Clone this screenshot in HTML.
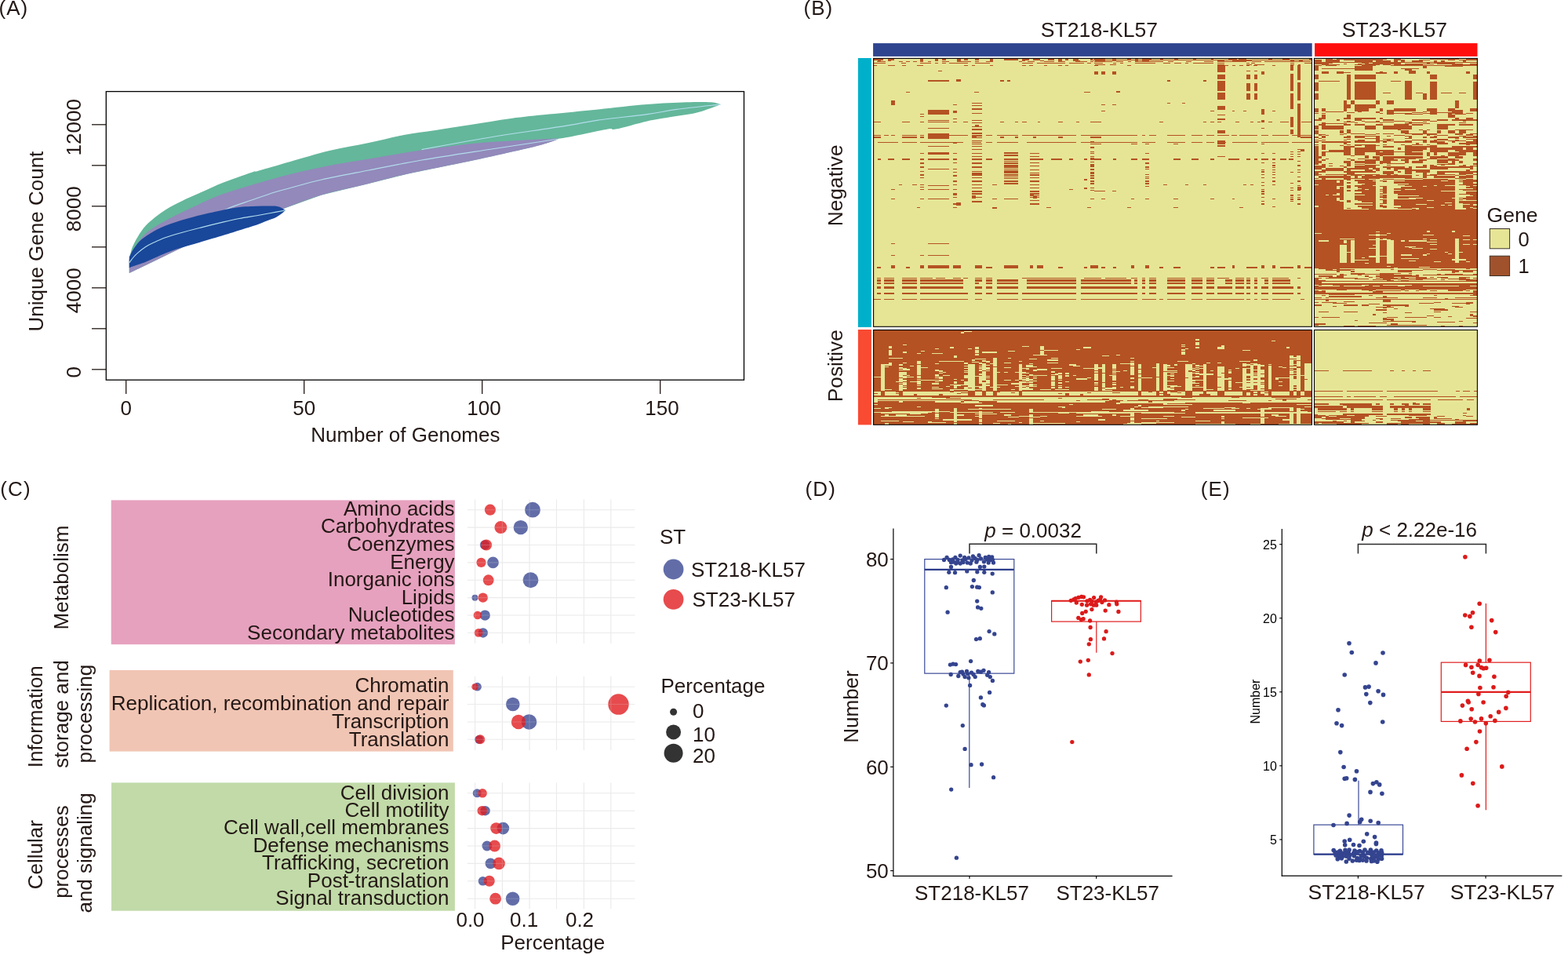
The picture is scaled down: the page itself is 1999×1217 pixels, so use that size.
<!DOCTYPE html>
<html><head><meta charset="utf-8"><title>Figure</title>
<style>
html,body{margin:0;padding:0;background:#fff;overflow:hidden}
svg{display:block}
text{font-family:"Liberation Sans",Arial,Helvetica,sans-serif}
</style></head><body>
<svg width="1999" height="1217" viewBox="0 0 1999 1217">
<rect width="1999" height="1217" fill="#fff"/>
<text font-size="26" fill="#231815" transform="translate(-1.6 18.8)" letter-spacing="1.1">(A)</text>
<text font-size="26" fill="#231815" transform="translate(1024.4 18.8)" letter-spacing="1.1">(B)</text>
<text font-size="26" fill="#231815" transform="translate(0.3 631.8)" letter-spacing="1.1">(C)</text>
<text font-size="26" fill="#231815" transform="translate(1026.6 631.6)" letter-spacing="1.1">(D)</text>
<text font-size="26" fill="#231815" transform="translate(1530.8 632.3)" letter-spacing="1.1">(E)</text>
<path d="M164.8 331 C165.38 328.55 166.52 321.15 168.3 316.3 C170.08 311.45 172.58 306.7 175.5 301.9 C178.42 297.1 181.52 292.12 185.8 287.5 C190.08 282.88 196.07 278.13 201.2 274.2 C206.33 270.27 210.6 267.33 216.6 263.9 C222.6 260.47 230.35 256.85 237.2 253.6 C244.05 250.35 249.73 247.92 257.7 244.4 C265.67 240.88 274.6 236.57 285 232.5 C295.4 228.43 312.6 222.5 320.1 220 C327.6 217.5 321.68 219.83 330 217.5 C338.32 215.17 355 210.25 370 206 C385 201.75 403.33 196 420 192 C436.67 188 454.2 185.33 470 182 C485.8 178.67 500.62 174.68 514.8 172 C528.98 169.32 540.9 168.07 555.1 165.9 C569.3 163.73 583.95 161.48 600 159 C616.05 156.52 634.73 153.23 651.4 151 C668.07 148.77 681.48 147.53 700 145.6 C718.52 143.67 741.67 141.48 762.5 139.4 C783.33 137.32 806.25 134.62 825 133.1 C843.75 131.58 861.45 130.77 875 130.3 C888.55 129.83 899.05 129.83 906.3 130.3 C913.55 130.77 916.47 132.63 918.5 133.1 C917.5 133.52 917.67 133.82 912.5 135.6 C907.33 137.38 897.92 141.4 887.5 143.8 C877.08 146.2 860.42 148.23 850 150 C839.58 151.77 835.83 151.97 825 154.4 C814.17 156.83 793.33 162.93 785 164.6 C776.67 166.27 784.17 162.87 775 164.4 C765.83 165.93 740.67 171.7 730 173.8 C719.33 175.9 714.17 176.47 711 177 L711 177.4 L700 181.5 L677.7 187.8 L607.6 203.5 L520 221.5 L470 234 L410 248.5 L360 266.5 L327.5 280 L283 295 L250 307.5 L226.9 318 L206.3 328 L185.8 338 L164.8 348 Z" fill="#64b79b"/>
<path d="M537.6 190.6 C546.33 189 572.5 184.1 590 181 C607.5 177.9 624.27 174.9 642.6 172 C660.93 169.1 685.43 165.78 700 163.6 C714.57 161.42 719.58 160.65 730 158.9 C740.42 157.15 746.67 155.32 762.5 153.1 C778.33 150.88 808.33 147.88 825 145.6 C841.67 143.32 846.92 141.48 862.5 139.4 C878.08 137.32 909.17 134.15 918.5 133.1" fill="none" stroke="#b2ddec" stroke-width="1.1"/>
<path d="M164.8 330 C166 327.5 168.67 320.25 172 315 C175.33 309.75 180.13 303.08 184.8 298.5 C189.47 293.92 194.7 290.87 200 287.5 C205.3 284.13 211.27 281.13 216.6 278.3 C221.93 275.47 226.87 273 232 270.5 C237.13 268 241.73 265.97 247.4 263.3 C253.07 260.63 259.73 257.22 266 254.5 C272.27 251.78 276 250.08 285 247 C294 243.92 305.83 240.17 320 236 C334.17 231.83 353.33 226.17 370 222 C386.67 217.83 403.33 214.25 420 211 C436.67 207.75 450.4 205.78 470 202.5 C489.6 199.22 514.67 194.63 537.6 191.3 C560.53 187.97 587.2 184.55 607.6 182.5 C628 180.45 644.6 179.92 660 179 C675.4 178.08 691.5 177.4 700 177 C708.5 176.6 709.17 176.67 711 176.6 L711 177.4 C709.17 178.08 705.55 179.77 700 181.5 C694.45 183.23 693.1 184.13 677.7 187.8 C662.3 191.47 633.88 197.88 607.6 203.5 C581.32 209.12 542.93 216.42 520 221.5 C497.07 226.58 488.33 229.5 470 234 C451.67 238.5 428.33 243.08 410 248.5 C391.67 253.92 373.75 261.25 360 266.5 C346.25 271.75 340.33 275.25 327.5 280 C314.67 284.75 295.92 290.42 283 295 C270.08 299.58 259.35 303.67 250 307.5 C240.65 311.33 234.18 314.58 226.9 318 C219.62 321.42 213.15 324.67 206.3 328 C199.45 331.33 192.72 334.67 185.8 338 C178.88 341.33 168.3 346.33 164.8 348 Z" fill="#9389bb"/>
<path d="M164.8 339 C167.33 336.67 174.13 329.5 180 325 C185.87 320.5 191.67 316.33 200 312 C208.33 307.67 220 304 230 299 C240 294 250 287.5 260 282 C270 276.5 280 270.45 290 266 C300 261.55 310 258.8 320 255.3 C330 251.8 341.67 247.63 350 245 C358.33 242.37 360 242.17 370 239.5 C380 236.83 393.33 232.75 410 229 C426.67 225.25 448.73 221.17 470 217 C491.27 212.83 511.75 208.47 537.6 204 C563.45 199.53 596.2 194.67 625.1 190.2 C654 185.73 696.68 179.37 711 177.2" fill="none" stroke="#b2ddec" stroke-width="1.1"/>
<path d="M164.8 327.5 C165.33 326.42 166.77 323.17 168 321 C169.23 318.83 170.2 317.08 172.2 314.5 C174.2 311.92 176.03 308.8 180 305.5 C183.97 302.2 189.9 298.03 196 294.7 C202.1 291.37 208.03 288.58 216.6 285.5 C225.17 282.42 236 279.2 247.4 276.2 C258.8 273.2 275.4 269.53 285 267.5 C294.6 265.47 299.17 264.75 305 264 C310.83 263.25 315 263.25 320 263 C325 262.75 330 262.57 335 262.5 C340 262.43 346.25 262.3 350 262.6 C353.75 262.9 355.2 263.4 357.5 264.3 C359.8 265.2 362.75 267.38 363.8 268 C363.17 268.58 361.47 270.33 360 271.5 C358.53 272.67 356.72 273.92 355 275 C353.28 276.08 352.2 276.92 349.7 278 C347.2 279.08 343.7 280.08 340 281.5 C336.3 282.92 333.33 284.5 327.5 286.5 C321.67 288.5 312.08 291.28 305 293.5 C297.92 295.72 294.6 296.87 285 299.8 C275.4 302.73 258.8 307.67 247.4 311.1 C236 314.53 226.87 316.63 216.6 320.4 C206.33 324.17 192.73 330.85 185.8 333.7 C178.87 336.55 178.5 336.25 175 337.5 C171.5 338.75 166.5 340.58 164.8 341.2 Z" fill="#19479a"/>
<path d="M164.8 334.8 C165.67 333.67 168.22 330.07 170 328 C171.78 325.93 173 324.57 175.5 322.4 C178 320.23 181.57 317.22 185 315 C188.43 312.78 191.93 311.1 196.1 309.1 C200.27 307.1 204.87 304.88 210 303 C215.13 301.12 218.95 300.03 226.9 297.8 C234.85 295.57 248.02 292.08 257.7 289.6 C267.38 287.12 277.12 284.75 285 282.9 C292.88 281.05 297.92 279.87 305 278.5 C312.08 277.13 320.83 275.87 327.5 274.7 C334.17 273.53 338.95 272.62 345 271.5 C351.05 270.38 360.67 268.58 363.8 268" fill="none" stroke="#b2ddec" stroke-width="1.1"/>
<rect x="135.3" y="116.6" width="813.2" height="367.6" fill="none" stroke="#000" stroke-width="1.3"/>
<line x1="117" y1="470.8" x2="135.3" y2="470.8" stroke="#231815" stroke-width="1.3"/>
<line x1="117" y1="418.8" x2="135.3" y2="418.8" stroke="#231815" stroke-width="1.3"/>
<line x1="117" y1="366.8" x2="135.3" y2="366.8" stroke="#231815" stroke-width="1.3"/>
<line x1="117" y1="314.8" x2="135.3" y2="314.8" stroke="#231815" stroke-width="1.3"/>
<line x1="117" y1="262.8" x2="135.3" y2="262.8" stroke="#231815" stroke-width="1.3"/>
<line x1="117" y1="210.8" x2="135.3" y2="210.8" stroke="#231815" stroke-width="1.3"/>
<line x1="117" y1="158.8" x2="135.3" y2="158.8" stroke="#231815" stroke-width="1.3"/>
<text font-size="26" fill="#231815" text-anchor="middle" transform="translate(103.2 474.3) rotate(-90)">0</text>
<text font-size="26" fill="#231815" text-anchor="middle" transform="translate(103.2 370.3) rotate(-90)">4000</text>
<text font-size="26" fill="#231815" text-anchor="middle" transform="translate(103.2 266.3) rotate(-90)">8000</text>
<text font-size="26" fill="#231815" text-anchor="middle" transform="translate(103.2 162.3) rotate(-90)">12000</text>
<line x1="160.7" y1="484.2" x2="160.7" y2="502" stroke="#231815" stroke-width="1.3"/>
<text font-size="26" fill="#231815" text-anchor="middle" transform="translate(160.7 528.5)">0</text>
<line x1="387.7" y1="484.2" x2="387.7" y2="502" stroke="#231815" stroke-width="1.3"/>
<text font-size="26" fill="#231815" text-anchor="middle" transform="translate(387.7 528.5)">50</text>
<line x1="614.7" y1="484.2" x2="614.7" y2="502" stroke="#231815" stroke-width="1.3"/>
<text font-size="26" fill="#231815" text-anchor="middle" transform="translate(617 528.5)">100</text>
<line x1="841.7" y1="484.2" x2="841.7" y2="502" stroke="#231815" stroke-width="1.3"/>
<text font-size="26" fill="#231815" text-anchor="middle" transform="translate(844 528.5)">150</text>
<text font-size="26" fill="#231815" text-anchor="middle" transform="translate(516.8 563)">Number of Genomes</text>
<text font-size="26" fill="#231815" text-anchor="middle" transform="translate(55.3 307.6) rotate(-90)">Unique Gene Count</text>
<rect x="141.7" y="637.4" width="438.2" height="183.8" fill="#e6a1be"/>
<rect x="139.6" y="854" width="438.2" height="103.6" fill="#f1c5b4"/>
<rect x="142" y="997.4" width="437.9" height="163.3" fill="#c1daa8"/>
<line x1="605.6" y1="636.6" x2="605.6" y2="819.9" stroke="#ebebeb" stroke-width="1.1"/>
<line x1="640.4" y1="636.6" x2="640.4" y2="819.9" stroke="#ebebeb" stroke-width="1.1"/>
<line x1="675" y1="636.6" x2="675" y2="819.9" stroke="#ebebeb" stroke-width="1.1"/>
<line x1="709.5" y1="636.6" x2="709.5" y2="819.9" stroke="#ebebeb" stroke-width="1.1"/>
<line x1="744.4" y1="636.6" x2="744.4" y2="819.9" stroke="#ebebeb" stroke-width="1.1"/>
<line x1="778.8" y1="636.6" x2="778.8" y2="819.9" stroke="#ebebeb" stroke-width="1.1"/>
<line x1="596" y1="649.7" x2="809.4" y2="649.7" stroke="#ebebeb" stroke-width="1.1"/>
<line x1="596" y1="672.09" x2="809.4" y2="672.09" stroke="#ebebeb" stroke-width="1.1"/>
<line x1="596" y1="694.48" x2="809.4" y2="694.48" stroke="#ebebeb" stroke-width="1.1"/>
<line x1="596" y1="716.87" x2="809.4" y2="716.87" stroke="#ebebeb" stroke-width="1.1"/>
<line x1="596" y1="739.26" x2="809.4" y2="739.26" stroke="#ebebeb" stroke-width="1.1"/>
<line x1="596" y1="761.65" x2="809.4" y2="761.65" stroke="#ebebeb" stroke-width="1.1"/>
<line x1="596" y1="784.04" x2="809.4" y2="784.04" stroke="#ebebeb" stroke-width="1.1"/>
<line x1="596" y1="806.43" x2="809.4" y2="806.43" stroke="#ebebeb" stroke-width="1.1"/>
<line x1="605.6" y1="862" x2="605.6" y2="955.9" stroke="#ebebeb" stroke-width="1.1"/>
<line x1="640.4" y1="862" x2="640.4" y2="955.9" stroke="#ebebeb" stroke-width="1.1"/>
<line x1="675" y1="862" x2="675" y2="955.9" stroke="#ebebeb" stroke-width="1.1"/>
<line x1="709.5" y1="862" x2="709.5" y2="955.9" stroke="#ebebeb" stroke-width="1.1"/>
<line x1="744.4" y1="862" x2="744.4" y2="955.9" stroke="#ebebeb" stroke-width="1.1"/>
<line x1="778.8" y1="862" x2="778.8" y2="955.9" stroke="#ebebeb" stroke-width="1.1"/>
<line x1="596" y1="875.2" x2="809.4" y2="875.2" stroke="#ebebeb" stroke-width="1.1"/>
<line x1="596" y1="897.57" x2="809.4" y2="897.57" stroke="#ebebeb" stroke-width="1.1"/>
<line x1="596" y1="919.94" x2="809.4" y2="919.94" stroke="#ebebeb" stroke-width="1.1"/>
<line x1="596" y1="942.31" x2="809.4" y2="942.31" stroke="#ebebeb" stroke-width="1.1"/>
<line x1="605.6" y1="997.5" x2="605.6" y2="1158.2" stroke="#ebebeb" stroke-width="1.1"/>
<line x1="640.4" y1="997.5" x2="640.4" y2="1158.2" stroke="#ebebeb" stroke-width="1.1"/>
<line x1="675" y1="997.5" x2="675" y2="1158.2" stroke="#ebebeb" stroke-width="1.1"/>
<line x1="709.5" y1="997.5" x2="709.5" y2="1158.2" stroke="#ebebeb" stroke-width="1.1"/>
<line x1="744.4" y1="997.5" x2="744.4" y2="1158.2" stroke="#ebebeb" stroke-width="1.1"/>
<line x1="778.8" y1="997.5" x2="778.8" y2="1158.2" stroke="#ebebeb" stroke-width="1.1"/>
<line x1="596" y1="1010.8" x2="809.4" y2="1010.8" stroke="#ebebeb" stroke-width="1.1"/>
<line x1="596" y1="1033.2" x2="809.4" y2="1033.2" stroke="#ebebeb" stroke-width="1.1"/>
<line x1="596" y1="1055.6" x2="809.4" y2="1055.6" stroke="#ebebeb" stroke-width="1.1"/>
<line x1="596" y1="1078" x2="809.4" y2="1078" stroke="#ebebeb" stroke-width="1.1"/>
<line x1="596" y1="1100.4" x2="809.4" y2="1100.4" stroke="#ebebeb" stroke-width="1.1"/>
<line x1="596" y1="1122.8" x2="809.4" y2="1122.8" stroke="#ebebeb" stroke-width="1.1"/>
<line x1="596" y1="1145.2" x2="809.4" y2="1145.2" stroke="#ebebeb" stroke-width="1.1"/>
<text font-size="26" fill="#231815" text-anchor="end" transform="translate(579.6 656.8)">Amino acids</text>
<text font-size="26" fill="#231815" text-anchor="end" transform="translate(579.6 679.4)">Carbohydrates</text>
<text font-size="26" fill="#231815" text-anchor="end" transform="translate(579.6 702)">Coenzymes</text>
<text font-size="26" fill="#231815" text-anchor="end" transform="translate(579.6 724.6)">Energy</text>
<text font-size="26" fill="#231815" text-anchor="end" transform="translate(579.6 747.2)">Inorganic ions</text>
<text font-size="26" fill="#231815" text-anchor="end" transform="translate(579.6 769.8)">Lipids</text>
<text font-size="26" fill="#231815" text-anchor="end" transform="translate(579.6 792.4)">Nucleotides</text>
<text font-size="26" fill="#231815" text-anchor="end" transform="translate(579.6 815)">Secondary metabolites</text>
<text font-size="26" fill="#231815" text-anchor="end" transform="translate(572.4 881.9)">Chromatin</text>
<text font-size="26" fill="#231815" text-anchor="end" transform="translate(572.4 904.6)">Replication, recombination and repair</text>
<text font-size="26" fill="#231815" text-anchor="end" transform="translate(572.4 927.5)">Transcription</text>
<text font-size="26" fill="#231815" text-anchor="end" transform="translate(572.4 951.4)">Translation</text>
<text font-size="26" fill="#231815" text-anchor="end" transform="translate(572.5 1018.6)">Cell division</text>
<text font-size="26" fill="#231815" text-anchor="end" transform="translate(572.5 1041.02)">Cell motility</text>
<text font-size="26" fill="#231815" text-anchor="end" transform="translate(572.5 1063.44)">Cell wall,cell membranes</text>
<text font-size="26" fill="#231815" text-anchor="end" transform="translate(572.5 1085.86)">Defense mechanisms</text>
<text font-size="26" fill="#231815" text-anchor="end" transform="translate(572.5 1108.28)">Trafficking, secretion</text>
<text font-size="26" fill="#231815" text-anchor="end" transform="translate(572.5 1130.7)">Post-translation</text>
<text font-size="26" fill="#231815" text-anchor="end" transform="translate(572.5 1153.12)">Signal transduction</text>
<text font-size="26" fill="#231815" text-anchor="middle" transform="translate(87 736) rotate(-90)">Metabolism</text>
<text font-size="26" fill="#231815" text-anchor="middle" transform="translate(54 913.2) rotate(-90)">Information</text>
<text font-size="26" fill="#231815" text-anchor="middle" transform="translate(86.5 910) rotate(-90)">storage and</text>
<text font-size="26" fill="#231815" text-anchor="middle" transform="translate(117.2 909.7) rotate(-90)">processing</text>
<text font-size="26" fill="#231815" text-anchor="middle" transform="translate(54 1089.2) rotate(-90)">Cellular</text>
<text font-size="26" fill="#231815" text-anchor="middle" transform="translate(86.7 1085.6) rotate(-90)">processes</text>
<text font-size="26" fill="#231815" text-anchor="middle" transform="translate(117.2 1087) rotate(-90)">and signaling</text>
<circle cx="679" cy="649.7" r="9.9" fill="rgba(59,73,146,0.8)"/>
<circle cx="624.9" cy="649.7" r="7.1" fill="rgba(225,30,32,0.8)"/>
<circle cx="663.8" cy="672.09" r="9.2" fill="rgba(59,73,146,0.8)"/>
<circle cx="638.4" cy="672.09" r="8" fill="rgba(225,30,32,0.8)"/>
<circle cx="618.1" cy="694.48" r="6.2" fill="rgba(59,73,146,0.8)"/>
<circle cx="620" cy="694.48" r="7.1" fill="rgba(225,30,32,0.8)"/>
<circle cx="628.5" cy="716.87" r="7.4" fill="rgba(59,73,146,0.8)"/>
<circle cx="613.5" cy="716.87" r="6.1" fill="rgba(225,30,32,0.8)"/>
<circle cx="676.5" cy="739.26" r="9.9" fill="rgba(59,73,146,0.8)"/>
<circle cx="622.7" cy="739.26" r="6.9" fill="rgba(225,30,32,0.8)"/>
<circle cx="605.5" cy="761.65" r="4" fill="rgba(59,73,146,0.8)"/>
<circle cx="615.7" cy="761.65" r="6.2" fill="rgba(225,30,32,0.8)"/>
<circle cx="618.3" cy="784.04" r="6.6" fill="rgba(59,73,146,0.8)"/>
<circle cx="608.9" cy="784.04" r="5.3" fill="rgba(225,30,32,0.8)"/>
<circle cx="615.8" cy="806.43" r="6.2" fill="rgba(59,73,146,0.8)"/>
<circle cx="610.1" cy="806.43" r="5.4" fill="rgba(225,30,32,0.8)"/>
<circle cx="608.5" cy="875.2" r="5.4" fill="rgba(59,73,146,0.8)"/>
<circle cx="605.6" cy="875.2" r="4.3" fill="rgba(225,30,32,0.8)"/>
<circle cx="653.8" cy="897.57" r="8.8" fill="rgba(59,73,146,0.8)"/>
<circle cx="788.5" cy="897.57" r="13.2" fill="rgba(225,30,32,0.8)"/>
<circle cx="674.5" cy="919.94" r="9.8" fill="rgba(59,73,146,0.8)"/>
<circle cx="661" cy="919.94" r="9.2" fill="rgba(225,30,32,0.8)"/>
<circle cx="610.6" cy="942.31" r="5.4" fill="rgba(59,73,146,0.8)"/>
<circle cx="612.2" cy="942.31" r="6" fill="rgba(225,30,32,0.8)"/>
<circle cx="608.2" cy="1010.8" r="5.5" fill="rgba(59,73,146,0.8)"/>
<circle cx="615.1" cy="1010.8" r="5.8" fill="rgba(225,30,32,0.8)"/>
<circle cx="618.6" cy="1033.2" r="6.2" fill="rgba(59,73,146,0.8)"/>
<circle cx="614.7" cy="1033.2" r="6.2" fill="rgba(225,30,32,0.8)"/>
<circle cx="641.4" cy="1055.6" r="7.8" fill="rgba(59,73,146,0.8)"/>
<circle cx="632.6" cy="1055.6" r="7.4" fill="rgba(225,30,32,0.8)"/>
<circle cx="620.9" cy="1078" r="6.4" fill="rgba(59,73,146,0.8)"/>
<circle cx="630.6" cy="1078" r="7.4" fill="rgba(225,30,32,0.8)"/>
<circle cx="625.4" cy="1100.4" r="6.8" fill="rgba(59,73,146,0.8)"/>
<circle cx="636.1" cy="1100.4" r="7.8" fill="rgba(225,30,32,0.8)"/>
<circle cx="615.5" cy="1122.8" r="5.8" fill="rgba(59,73,146,0.8)"/>
<circle cx="623.8" cy="1122.8" r="7" fill="rgba(225,30,32,0.8)"/>
<circle cx="653.6" cy="1145.2" r="8.8" fill="rgba(59,73,146,0.8)"/>
<circle cx="631.6" cy="1145.2" r="7.4" fill="rgba(225,30,32,0.8)"/>
<g opacity="0.22">
<line x1="605.6" y1="636.6" x2="605.6" y2="819.9" stroke="#ebebeb" stroke-width="1.1"/>
<line x1="640.4" y1="636.6" x2="640.4" y2="819.9" stroke="#ebebeb" stroke-width="1.1"/>
<line x1="675" y1="636.6" x2="675" y2="819.9" stroke="#ebebeb" stroke-width="1.1"/>
<line x1="709.5" y1="636.6" x2="709.5" y2="819.9" stroke="#ebebeb" stroke-width="1.1"/>
<line x1="744.4" y1="636.6" x2="744.4" y2="819.9" stroke="#ebebeb" stroke-width="1.1"/>
<line x1="778.8" y1="636.6" x2="778.8" y2="819.9" stroke="#ebebeb" stroke-width="1.1"/>
<line x1="596" y1="649.7" x2="809.4" y2="649.7" stroke="#ebebeb" stroke-width="1.1"/>
<line x1="596" y1="672.09" x2="809.4" y2="672.09" stroke="#ebebeb" stroke-width="1.1"/>
<line x1="596" y1="694.48" x2="809.4" y2="694.48" stroke="#ebebeb" stroke-width="1.1"/>
<line x1="596" y1="716.87" x2="809.4" y2="716.87" stroke="#ebebeb" stroke-width="1.1"/>
<line x1="596" y1="739.26" x2="809.4" y2="739.26" stroke="#ebebeb" stroke-width="1.1"/>
<line x1="596" y1="761.65" x2="809.4" y2="761.65" stroke="#ebebeb" stroke-width="1.1"/>
<line x1="596" y1="784.04" x2="809.4" y2="784.04" stroke="#ebebeb" stroke-width="1.1"/>
<line x1="596" y1="806.43" x2="809.4" y2="806.43" stroke="#ebebeb" stroke-width="1.1"/>
<line x1="605.6" y1="862" x2="605.6" y2="955.9" stroke="#ebebeb" stroke-width="1.1"/>
<line x1="640.4" y1="862" x2="640.4" y2="955.9" stroke="#ebebeb" stroke-width="1.1"/>
<line x1="675" y1="862" x2="675" y2="955.9" stroke="#ebebeb" stroke-width="1.1"/>
<line x1="709.5" y1="862" x2="709.5" y2="955.9" stroke="#ebebeb" stroke-width="1.1"/>
<line x1="744.4" y1="862" x2="744.4" y2="955.9" stroke="#ebebeb" stroke-width="1.1"/>
<line x1="778.8" y1="862" x2="778.8" y2="955.9" stroke="#ebebeb" stroke-width="1.1"/>
<line x1="596" y1="875.2" x2="809.4" y2="875.2" stroke="#ebebeb" stroke-width="1.1"/>
<line x1="596" y1="897.57" x2="809.4" y2="897.57" stroke="#ebebeb" stroke-width="1.1"/>
<line x1="596" y1="919.94" x2="809.4" y2="919.94" stroke="#ebebeb" stroke-width="1.1"/>
<line x1="596" y1="942.31" x2="809.4" y2="942.31" stroke="#ebebeb" stroke-width="1.1"/>
<line x1="605.6" y1="997.5" x2="605.6" y2="1158.2" stroke="#ebebeb" stroke-width="1.1"/>
<line x1="640.4" y1="997.5" x2="640.4" y2="1158.2" stroke="#ebebeb" stroke-width="1.1"/>
<line x1="675" y1="997.5" x2="675" y2="1158.2" stroke="#ebebeb" stroke-width="1.1"/>
<line x1="709.5" y1="997.5" x2="709.5" y2="1158.2" stroke="#ebebeb" stroke-width="1.1"/>
<line x1="744.4" y1="997.5" x2="744.4" y2="1158.2" stroke="#ebebeb" stroke-width="1.1"/>
<line x1="778.8" y1="997.5" x2="778.8" y2="1158.2" stroke="#ebebeb" stroke-width="1.1"/>
<line x1="596" y1="1010.8" x2="809.4" y2="1010.8" stroke="#ebebeb" stroke-width="1.1"/>
<line x1="596" y1="1033.2" x2="809.4" y2="1033.2" stroke="#ebebeb" stroke-width="1.1"/>
<line x1="596" y1="1055.6" x2="809.4" y2="1055.6" stroke="#ebebeb" stroke-width="1.1"/>
<line x1="596" y1="1078" x2="809.4" y2="1078" stroke="#ebebeb" stroke-width="1.1"/>
<line x1="596" y1="1100.4" x2="809.4" y2="1100.4" stroke="#ebebeb" stroke-width="1.1"/>
<line x1="596" y1="1122.8" x2="809.4" y2="1122.8" stroke="#ebebeb" stroke-width="1.1"/>
<line x1="596" y1="1145.2" x2="809.4" y2="1145.2" stroke="#ebebeb" stroke-width="1.1"/>
</g>
<text font-size="26" fill="#231815" text-anchor="middle" transform="translate(599.5 1180.6)">0.0</text>
<text font-size="26" fill="#231815" text-anchor="middle" transform="translate(668.2 1180.6)">0.1</text>
<text font-size="26" fill="#231815" text-anchor="middle" transform="translate(739 1180.6)">0.2</text>
<text font-size="26" fill="#231815" text-anchor="middle" transform="translate(704.7 1209.9)">Percentage</text>
<text font-size="26" fill="#231815" transform="translate(841 693.3)">ST</text>
<circle cx="858.6" cy="725.5" r="12.9" fill="rgba(59,73,146,0.8)"/>
<text font-size="26" fill="#231815" transform="translate(881 735.3)">ST218-KL57</text>
<circle cx="858.6" cy="763.8" r="12.9" fill="rgba(225,30,32,0.8)"/>
<text font-size="26" fill="#231815" transform="translate(882.5 773.1)">ST23-KL57</text>
<text font-size="26" fill="#231815" transform="translate(842.5 883.4)">Percentage</text>
<circle cx="858.6" cy="907.2" r="4.5" fill="#333333"/>
<text font-size="26" fill="#231815" transform="translate(883 915)">0</text>
<circle cx="858.6" cy="932.9" r="9.5" fill="#333333"/>
<text font-size="26" fill="#231815" transform="translate(883 945)">10</text>
<circle cx="858.6" cy="959.8" r="12" fill="#333333"/>
<text font-size="26" fill="#231815" transform="translate(883 971.5)">20</text>
<line x1="1138.9" y1="673.5" x2="1138.9" y2="1117" stroke="#000" stroke-width="1.2"/>
<line x1="1138.3" y1="1116.4" x2="1494.6" y2="1116.4" stroke="#000" stroke-width="1.2"/>
<line x1="1135.2" y1="712.6" x2="1138.9" y2="712.6" stroke="#000" stroke-width="1.2"/>
<text font-size="26" fill="#231815" text-anchor="end" transform="translate(1132.8 722.1)">80</text>
<line x1="1135.2" y1="844.93" x2="1138.9" y2="844.93" stroke="#000" stroke-width="1.2"/>
<text font-size="26" fill="#231815" text-anchor="end" transform="translate(1132.8 854.43)">70</text>
<line x1="1135.2" y1="977.26" x2="1138.9" y2="977.26" stroke="#000" stroke-width="1.2"/>
<text font-size="26" fill="#231815" text-anchor="end" transform="translate(1132.8 986.76)">60</text>
<line x1="1135.2" y1="1109.59" x2="1138.9" y2="1109.59" stroke="#000" stroke-width="1.2"/>
<text font-size="26" fill="#231815" text-anchor="end" transform="translate(1132.8 1119.09)">50</text>
<line x1="1236" y1="1116.4" x2="1236" y2="1119.8" stroke="#000" stroke-width="1.2"/>
<line x1="1397.6" y1="1116.4" x2="1397.6" y2="1119.8" stroke="#000" stroke-width="1.2"/>
<text font-size="26" fill="#231815" text-anchor="middle" transform="translate(1239 1147.4)">ST218-KL57</text>
<text font-size="26" fill="#231815" text-anchor="middle" transform="translate(1412.2 1147.4)">ST23-KL57</text>
<text font-size="26" fill="#231815" text-anchor="middle" transform="translate(1094.2 900.5) rotate(-90)">Number</text>
<rect x="1178.8" y="712.6" width="114" height="145.56" fill="none" stroke="#3b4a96" stroke-width="1.2"/>
<line x1="1178.8" y1="725.83" x2="1292.8" y2="725.83" stroke="#2c3d8c" stroke-width="2.2"/>
<line x1="1235.8" y1="858.16" x2="1235.8" y2="1004" stroke="#3b4a96" stroke-width="1.2"/>
<rect x="1340.6" y="765.6" width="113.8" height="26.5" fill="none" stroke="#e01e1e" stroke-width="1.2"/>
<line x1="1340.6" y1="765.7" x2="1454.4" y2="765.7" stroke="#e01e1e" stroke-width="2"/>
<line x1="1397.8" y1="792.1" x2="1397.8" y2="831.8" stroke="#e01e1e" stroke-width="1.2"/>
<circle cx="1203.5" cy="713.5" r="2.65" fill="#34448f"/><circle cx="1207.1" cy="710.4" r="2.65" fill="#34448f"/><circle cx="1210.3" cy="713.5" r="2.65" fill="#34448f"/><circle cx="1212.5" cy="716.7" r="2.65" fill="#34448f"/><circle cx="1217.9" cy="710.4" r="2.65" fill="#34448f"/><circle cx="1218.8" cy="718" r="2.65" fill="#34448f"/><circle cx="1224.2" cy="708.1" r="2.65" fill="#34448f"/><circle cx="1224.2" cy="718" r="2.65" fill="#34448f"/><circle cx="1229.6" cy="710.4" r="2.65" fill="#34448f"/><circle cx="1233.2" cy="717.1" r="2.65" fill="#34448f"/><circle cx="1235" cy="710.8" r="2.65" fill="#34448f"/><circle cx="1237.3" cy="718" r="2.65" fill="#34448f"/><circle cx="1240.4" cy="709" r="2.65" fill="#34448f"/><circle cx="1244.9" cy="716.2" r="2.65" fill="#34448f"/><circle cx="1248.1" cy="707.7" r="2.65" fill="#34448f"/><circle cx="1256.2" cy="710.4" r="2.65" fill="#34448f"/><circle cx="1260.7" cy="709.5" r="2.65" fill="#34448f"/><circle cx="1264.7" cy="709.9" r="2.65" fill="#34448f"/><circle cx="1266.5" cy="717.1" r="2.65" fill="#34448f"/><circle cx="1254.4" cy="715.8" r="2.65" fill="#34448f"/><circle cx="1260.2" cy="717.1" r="2.65" fill="#34448f"/><circle cx="1214.5" cy="713" r="2.65" fill="#34448f"/><circle cx="1221" cy="713.5" r="2.65" fill="#34448f"/><circle cx="1227" cy="714" r="2.65" fill="#34448f"/><circle cx="1231" cy="712.5" r="2.65" fill="#34448f"/><circle cx="1239" cy="714" r="2.65" fill="#34448f"/><circle cx="1243" cy="711.5" r="2.65" fill="#34448f"/><circle cx="1246" cy="713.5" r="2.65" fill="#34448f"/><circle cx="1258" cy="713" r="2.65" fill="#34448f"/><circle cx="1262.5" cy="713.5" r="2.65" fill="#34448f"/><circle cx="1265.5" cy="713.5" r="2.65" fill="#34448f"/><circle cx="1220.5" cy="716.5" r="2.65" fill="#34448f"/><circle cx="1215.5" cy="716" r="2.65" fill="#34448f"/><circle cx="1228" cy="716.5" r="2.65" fill="#34448f"/><circle cx="1250.5" cy="712" r="2.65" fill="#34448f"/><circle cx="1212.5" cy="722.5" r="2.65" fill="#34448f"/><circle cx="1209.8" cy="729.3" r="2.65" fill="#34448f"/><circle cx="1217.5" cy="729.7" r="2.65" fill="#34448f"/><circle cx="1232.8" cy="727.9" r="2.65" fill="#34448f"/><circle cx="1245.8" cy="728.8" r="2.65" fill="#34448f"/><circle cx="1249.4" cy="722.5" r="2.65" fill="#34448f"/><circle cx="1254.8" cy="722.1" r="2.65" fill="#34448f"/><circle cx="1254.8" cy="729.3" r="2.65" fill="#34448f"/><circle cx="1265.2" cy="731.1" r="2.65" fill="#34448f"/><circle cx="1241.3" cy="739.5" r="2.65" fill="#34448f"/><circle cx="1206.3" cy="748.7" r="2.65" fill="#34448f"/><circle cx="1239.4" cy="747.6" r="2.65" fill="#34448f"/><circle cx="1245.7" cy="748.2" r="2.65" fill="#34448f"/><circle cx="1248.4" cy="748.6" r="2.65" fill="#34448f"/><circle cx="1265.3" cy="754.9" r="2.65" fill="#34448f"/><circle cx="1245.7" cy="766.1" r="2.65" fill="#34448f"/><circle cx="1246.6" cy="773.9" r="2.65" fill="#34448f"/><circle cx="1250.8" cy="775.3" r="2.65" fill="#34448f"/><circle cx="1208.1" cy="780.2" r="2.65" fill="#34448f"/><circle cx="1261.1" cy="804.6" r="2.65" fill="#34448f"/><circle cx="1267.8" cy="807.9" r="2.65" fill="#34448f"/><circle cx="1244.5" cy="814.6" r="2.65" fill="#34448f"/><circle cx="1249.3" cy="813.7" r="2.65" fill="#34448f"/><circle cx="1237.6" cy="842.6" r="2.65" fill="#34448f"/><circle cx="1211.4" cy="847.1" r="2.65" fill="#34448f"/><circle cx="1215" cy="846.2" r="2.65" fill="#34448f"/><circle cx="1218.6" cy="846.6" r="2.65" fill="#34448f"/><circle cx="1212.2" cy="859.5" r="2.65" fill="#34448f"/><circle cx="1221.8" cy="861.5" r="2.65" fill="#34448f"/><circle cx="1224.2" cy="856.7" r="2.65" fill="#34448f"/><circle cx="1226.5" cy="856.2" r="2.65" fill="#34448f"/><circle cx="1230.1" cy="862.6" r="2.65" fill="#34448f"/><circle cx="1232.5" cy="855.5" r="2.65" fill="#34448f"/><circle cx="1234.9" cy="863.8" r="2.65" fill="#34448f"/><circle cx="1233.7" cy="858.6" r="2.65" fill="#34448f"/><circle cx="1238.5" cy="857.2" r="2.65" fill="#34448f"/><circle cx="1243.2" cy="862.6" r="2.65" fill="#34448f"/><circle cx="1246.8" cy="855.5" r="2.65" fill="#34448f"/><circle cx="1250.4" cy="856.2" r="2.65" fill="#34448f"/><circle cx="1254" cy="854.3" r="2.65" fill="#34448f"/><circle cx="1258.7" cy="860.3" r="2.65" fill="#34448f"/><circle cx="1260.6" cy="856.7" r="2.65" fill="#34448f"/><circle cx="1262.3" cy="862.6" r="2.65" fill="#34448f"/><circle cx="1265.4" cy="867.4" r="2.65" fill="#34448f"/><circle cx="1228" cy="859" r="2.65" fill="#34448f"/><circle cx="1241" cy="859.5" r="2.65" fill="#34448f"/><circle cx="1236.6" cy="873.4" r="2.65" fill="#34448f"/><circle cx="1261.6" cy="882.4" r="2.65" fill="#34448f"/><circle cx="1250.4" cy="888.9" r="2.65" fill="#34448f"/><circle cx="1206.3" cy="899.1" r="2.65" fill="#34448f"/><circle cx="1252.8" cy="897.7" r="2.65" fill="#34448f"/><circle cx="1254.4" cy="898.9" r="2.65" fill="#34448f"/><circle cx="1227.3" cy="924.6" r="2.65" fill="#34448f"/><circle cx="1230.1" cy="954.4" r="2.65" fill="#34448f"/><circle cx="1238" cy="974.7" r="2.65" fill="#34448f"/><circle cx="1251.6" cy="974" r="2.65" fill="#34448f"/><circle cx="1266.6" cy="990.7" r="2.65" fill="#34448f"/><circle cx="1212.7" cy="1006.1" r="2.65" fill="#34448f"/><circle cx="1219.4" cy="1093.2" r="2.65" fill="#34448f"/>
<circle cx="1365.3" cy="765.3" r="2.65" fill="#dc1a1a"/><circle cx="1368.9" cy="764" r="2.65" fill="#dc1a1a"/><circle cx="1371.2" cy="762.6" r="2.65" fill="#dc1a1a"/><circle cx="1375" cy="761.3" r="2.65" fill="#dc1a1a"/><circle cx="1378.8" cy="760.4" r="2.65" fill="#dc1a1a"/><circle cx="1381.5" cy="760.8" r="2.65" fill="#dc1a1a"/><circle cx="1372.3" cy="768" r="2.65" fill="#dc1a1a"/><circle cx="1379.3" cy="770.3" r="2.65" fill="#dc1a1a"/><circle cx="1385.6" cy="771.2" r="2.65" fill="#dc1a1a"/><circle cx="1389.6" cy="764.4" r="2.65" fill="#dc1a1a"/><circle cx="1390.5" cy="769.8" r="2.65" fill="#dc1a1a"/><circle cx="1394.6" cy="761.7" r="2.65" fill="#dc1a1a"/><circle cx="1394.1" cy="771.2" r="2.65" fill="#dc1a1a"/><circle cx="1397.7" cy="771.2" r="2.65" fill="#dc1a1a"/><circle cx="1397.3" cy="767.1" r="2.65" fill="#dc1a1a"/><circle cx="1403.6" cy="760.8" r="2.65" fill="#dc1a1a"/><circle cx="1402.7" cy="764" r="2.65" fill="#dc1a1a"/><circle cx="1404.9" cy="767.6" r="2.65" fill="#dc1a1a"/><circle cx="1408.5" cy="764.9" r="2.65" fill="#dc1a1a"/><circle cx="1413.9" cy="770.7" r="2.65" fill="#dc1a1a"/><circle cx="1423.4" cy="767.1" r="2.65" fill="#dc1a1a"/><circle cx="1423.8" cy="769.8" r="2.65" fill="#dc1a1a"/><circle cx="1391.9" cy="776.6" r="2.65" fill="#dc1a1a"/><circle cx="1409.2" cy="778.1" r="2.65" fill="#dc1a1a"/><circle cx="1425.9" cy="779.5" r="2.65" fill="#dc1a1a"/><circle cx="1379.7" cy="781.5" r="2.65" fill="#dc1a1a"/><circle cx="1384.2" cy="779.3" r="2.65" fill="#dc1a1a"/><circle cx="1374.8" cy="787.4" r="2.65" fill="#dc1a1a"/><circle cx="1381.1" cy="788.7" r="2.65" fill="#dc1a1a"/><circle cx="1378.4" cy="789.6" r="2.65" fill="#dc1a1a"/><circle cx="1389.6" cy="791" r="2.65" fill="#dc1a1a"/><circle cx="1390.1" cy="799.5" r="2.65" fill="#dc1a1a"/><circle cx="1410.1" cy="804.7" r="2.65" fill="#dc1a1a"/><circle cx="1390.4" cy="814.7" r="2.65" fill="#dc1a1a"/><circle cx="1407.5" cy="813.9" r="2.65" fill="#dc1a1a"/><circle cx="1388.3" cy="820.8" r="2.65" fill="#dc1a1a"/><circle cx="1418" cy="832.6" r="2.65" fill="#dc1a1a"/><circle cx="1377.3" cy="843.1" r="2.65" fill="#dc1a1a"/><circle cx="1387.3" cy="841.3" r="2.65" fill="#dc1a1a"/><circle cx="1388.3" cy="859.9" r="2.65" fill="#dc1a1a"/><circle cx="1366.8" cy="945.6" r="2.65" fill="#dc1a1a"/><circle cx="1392" cy="766.5" r="2.65" fill="#dc1a1a"/><circle cx="1386" cy="766" r="2.65" fill="#dc1a1a"/><circle cx="1400" cy="765.5" r="2.65" fill="#dc1a1a"/>
<path d="M1236 705.5 V693.3 H1397.8 V705.5" fill="none" stroke="#2b2b2b" stroke-width="1.5"/>
<text transform="translate(1255.3 684.6)" font-size="26" fill="#231815"><tspan font-style="italic">p</tspan> = 0.0032</text>
<line x1="1634.3" y1="673.9" x2="1634.3" y2="1116.6" stroke="#000" stroke-width="1.2"/>
<line x1="1633.7" y1="1116.1" x2="1991.4" y2="1116.1" stroke="#000" stroke-width="1.2"/>
<line x1="1631.2" y1="693.7" x2="1634.3" y2="693.7" stroke="#000" stroke-width="1.1"/>
<text font-size="16" fill="#000" text-anchor="end" transform="translate(1627.9 699.5)">25</text>
<line x1="1631.2" y1="787.75" x2="1634.3" y2="787.75" stroke="#000" stroke-width="1.1"/>
<text font-size="16" fill="#000" text-anchor="end" transform="translate(1627.9 793.55)">20</text>
<line x1="1631.2" y1="881.8" x2="1634.3" y2="881.8" stroke="#000" stroke-width="1.1"/>
<text font-size="16" fill="#000" text-anchor="end" transform="translate(1627.9 887.6)">15</text>
<line x1="1631.2" y1="975.85" x2="1634.3" y2="975.85" stroke="#000" stroke-width="1.1"/>
<text font-size="16" fill="#000" text-anchor="end" transform="translate(1627.9 981.65)">10</text>
<line x1="1631.2" y1="1069.9" x2="1634.3" y2="1069.9" stroke="#000" stroke-width="1.1"/>
<text font-size="16" fill="#000" text-anchor="end" transform="translate(1627.9 1075.7)">5</text>
<line x1="1731.4" y1="1116.1" x2="1731.4" y2="1119.6" stroke="#000" stroke-width="1.2"/>
<line x1="1894.1" y1="1116.1" x2="1894.1" y2="1119.6" stroke="#000" stroke-width="1.2"/>
<text font-size="26.6" fill="#231815" text-anchor="middle" transform="translate(1742.1 1145.9)">ST218-KL57</text>
<text font-size="26.4" fill="#231815" text-anchor="middle" transform="translate(1915.4 1145.9)">ST23-KL57</text>
<text font-size="16" fill="#000" text-anchor="middle" transform="translate(1605.7 894) rotate(-90)">Number</text>
<rect x="1674.9" y="1051.09" width="113.6" height="37.62" fill="none" stroke="#3b4a96" stroke-width="1.2"/>
<line x1="1674.9" y1="1088.71" x2="1788.5" y2="1088.71" stroke="#2c3d8c" stroke-width="2.2"/>
<line x1="1732" y1="1051.09" x2="1732" y2="994.66" stroke="#3b4a96" stroke-width="1.2"/>
<rect x="1837.3" y="844.18" width="114" height="75.24" fill="none" stroke="#e01e1e" stroke-width="1.2"/>
<line x1="1837.3" y1="881.8" x2="1951.3" y2="881.8" stroke="#e01e1e" stroke-width="2.2"/>
<line x1="1894.4" y1="768.94" x2="1894.4" y2="844.18" stroke="#e01e1e" stroke-width="1.2"/>
<line x1="1894.4" y1="919.42" x2="1894.4" y2="1032.28" stroke="#e01e1e" stroke-width="1.2"/>
<circle cx="1720" cy="819.7" r="2.8" fill="#34448f"/><circle cx="1723.3" cy="831.5" r="2.8" fill="#34448f"/><circle cx="1763" cy="832" r="2.8" fill="#34448f"/><circle cx="1754" cy="844.9" r="2.8" fill="#34448f"/><circle cx="1714.2" cy="860" r="2.8" fill="#34448f"/><circle cx="1740.5" cy="875.9" r="2.8" fill="#34448f"/><circle cx="1745.1" cy="875.1" r="2.8" fill="#34448f"/><circle cx="1757.1" cy="880.8" r="2.8" fill="#34448f"/><circle cx="1763.5" cy="885.4" r="2.8" fill="#34448f"/><circle cx="1741.8" cy="884.6" r="2.8" fill="#34448f"/><circle cx="1746.8" cy="895.6" r="2.8" fill="#34448f"/><circle cx="1706" cy="904.8" r="2.8" fill="#34448f"/><circle cx="1704" cy="921.8" r="2.8" fill="#34448f"/><circle cx="1710.6" cy="924.6" r="2.8" fill="#34448f"/><circle cx="1762.7" cy="920" r="2.8" fill="#34448f"/><circle cx="1708.8" cy="958.6" r="2.8" fill="#34448f"/><circle cx="1713.1" cy="977.5" r="2.8" fill="#34448f"/><circle cx="1729.5" cy="982.7" r="2.8" fill="#34448f"/><circle cx="1714.2" cy="992.3" r="2.8" fill="#34448f"/><circle cx="1716.7" cy="991.8" r="2.8" fill="#34448f"/><circle cx="1727.4" cy="993.4" r="2.8" fill="#34448f"/><circle cx="1750.4" cy="998.6" r="2.8" fill="#34448f"/><circle cx="1754.9" cy="996.8" r="2.8" fill="#34448f"/><circle cx="1758.7" cy="999.9" r="2.8" fill="#34448f"/><circle cx="1747" cy="1009.4" r="2.8" fill="#34448f"/><circle cx="1761.9" cy="1011.2" r="2.8" fill="#34448f"/><circle cx="1720.1" cy="1039.1" r="2.8" fill="#34448f"/><circle cx="1735.7" cy="1044.2" r="2.8" fill="#34448f"/><circle cx="1733.7" cy="1047.4" r="2.8" fill="#34448f"/><circle cx="1747.2" cy="1046.2" r="2.8" fill="#34448f"/><circle cx="1717.1" cy="1049.4" r="2.8" fill="#34448f"/><circle cx="1757.2" cy="1048.6" r="2.8" fill="#34448f"/><circle cx="1700" cy="1051.5" r="2.8" fill="#34448f"/><circle cx="1742.7" cy="1062.8" r="2.8" fill="#34448f"/><circle cx="1752.6" cy="1066.6" r="2.8" fill="#34448f"/><circle cx="1714.2" cy="1072.1" r="2.8" fill="#34448f"/><circle cx="1720.7" cy="1070.3" r="2.8" fill="#34448f"/><circle cx="1738.3" cy="1072.2" r="2.8" fill="#34448f"/><circle cx="1754.5" cy="1074.1" r="2.8" fill="#34448f"/><circle cx="1714.7" cy="1076.8" r="2.8" fill="#34448f"/><circle cx="1725.5" cy="1076.5" r="2.8" fill="#34448f"/><circle cx="1733" cy="1077.5" r="2.8" fill="#34448f"/><circle cx="1754.4" cy="1075.4" r="2.8" fill="#34448f"/><circle cx="1700.2" cy="1083.5" r="2.8" fill="#34448f"/><circle cx="1708.4" cy="1084.2" r="2.8" fill="#34448f"/><circle cx="1715" cy="1083.3" r="2.8" fill="#34448f"/><circle cx="1720.1" cy="1083" r="2.8" fill="#34448f"/><circle cx="1727" cy="1084" r="2.8" fill="#34448f"/><circle cx="1733.5" cy="1084.5" r="2.8" fill="#34448f"/><circle cx="1740" cy="1083" r="2.8" fill="#34448f"/><circle cx="1747.4" cy="1083" r="2.8" fill="#34448f"/><circle cx="1754.7" cy="1084" r="2.8" fill="#34448f"/><circle cx="1761" cy="1083.8" r="2.8" fill="#34448f"/><circle cx="1702.01" cy="1085.97" r="2.8" fill="#34448f"/><circle cx="1705.93" cy="1085.94" r="2.8" fill="#34448f"/><circle cx="1709.74" cy="1086.84" r="2.8" fill="#34448f"/><circle cx="1714.47" cy="1086.82" r="2.8" fill="#34448f"/><circle cx="1719.14" cy="1086.34" r="2.8" fill="#34448f"/><circle cx="1725.72" cy="1087.19" r="2.8" fill="#34448f"/><circle cx="1730.39" cy="1085.91" r="2.8" fill="#34448f"/><circle cx="1737.59" cy="1086.08" r="2.8" fill="#34448f"/><circle cx="1743.81" cy="1086.23" r="2.8" fill="#34448f"/><circle cx="1747.98" cy="1086.69" r="2.8" fill="#34448f"/><circle cx="1751.2" cy="1085.94" r="2.8" fill="#34448f"/><circle cx="1757.28" cy="1086.83" r="2.8" fill="#34448f"/><circle cx="1761.65" cy="1086.89" r="2.8" fill="#34448f"/><circle cx="1703.08" cy="1089.89" r="2.8" fill="#34448f"/><circle cx="1707.26" cy="1091.4" r="2.8" fill="#34448f"/><circle cx="1711.29" cy="1091.65" r="2.8" fill="#34448f"/><circle cx="1716.2" cy="1091.12" r="2.8" fill="#34448f"/><circle cx="1720.97" cy="1089.39" r="2.8" fill="#34448f"/><circle cx="1726.23" cy="1090.68" r="2.8" fill="#34448f"/><circle cx="1735.27" cy="1090.73" r="2.8" fill="#34448f"/><circle cx="1739.29" cy="1091.32" r="2.8" fill="#34448f"/><circle cx="1748.99" cy="1089.45" r="2.8" fill="#34448f"/><circle cx="1753.55" cy="1091.68" r="2.8" fill="#34448f"/><circle cx="1757.28" cy="1090.23" r="2.8" fill="#34448f"/><circle cx="1761.25" cy="1090.41" r="2.8" fill="#34448f"/><circle cx="1705.28" cy="1094.64" r="2.8" fill="#34448f"/><circle cx="1710.33" cy="1093.74" r="2.8" fill="#34448f"/><circle cx="1720.01" cy="1094.12" r="2.8" fill="#34448f"/><circle cx="1730.21" cy="1093.47" r="2.8" fill="#34448f"/><circle cx="1733.6" cy="1094.92" r="2.8" fill="#34448f"/><circle cx="1742.36" cy="1093.36" r="2.8" fill="#34448f"/><circle cx="1747.7" cy="1094.21" r="2.8" fill="#34448f"/><circle cx="1751.15" cy="1093.81" r="2.8" fill="#34448f"/><circle cx="1757.1" cy="1095.09" r="2.8" fill="#34448f"/><circle cx="1761.57" cy="1094.28" r="2.8" fill="#34448f"/><circle cx="1716.31" cy="1097.97" r="2.8" fill="#34448f"/><circle cx="1724.29" cy="1097.06" r="2.8" fill="#34448f"/><circle cx="1729.47" cy="1096.25" r="2.8" fill="#34448f"/><circle cx="1733.05" cy="1096.49" r="2.8" fill="#34448f"/><circle cx="1737.28" cy="1096.1" r="2.8" fill="#34448f"/><circle cx="1742" cy="1096.97" r="2.8" fill="#34448f"/><circle cx="1748.45" cy="1097.57" r="2.8" fill="#34448f"/><circle cx="1751.56" cy="1096.93" r="2.8" fill="#34448f"/><circle cx="1755.85" cy="1098.14" r="2.8" fill="#34448f"/>
<circle cx="1867.9" cy="709.8" r="2.8" fill="#dc1a1a"/><circle cx="1886.2" cy="769.3" r="2.8" fill="#dc1a1a"/><circle cx="1877.5" cy="780.8" r="2.8" fill="#dc1a1a"/><circle cx="1867.8" cy="784" r="2.8" fill="#dc1a1a"/><circle cx="1873.9" cy="785.4" r="2.8" fill="#dc1a1a"/><circle cx="1901.7" cy="790.6" r="2.8" fill="#dc1a1a"/><circle cx="1875.9" cy="799.2" r="2.8" fill="#dc1a1a"/><circle cx="1906.7" cy="805.6" r="2.8" fill="#dc1a1a"/><circle cx="1886.3" cy="842" r="2.8" fill="#dc1a1a"/><circle cx="1898.9" cy="841.3" r="2.8" fill="#dc1a1a"/><circle cx="1868.6" cy="847.4" r="2.8" fill="#dc1a1a"/><circle cx="1875.9" cy="850.2" r="2.8" fill="#dc1a1a"/><circle cx="1884.2" cy="847.5" r="2.8" fill="#dc1a1a"/><circle cx="1888.4" cy="850.6" r="2.8" fill="#dc1a1a"/><circle cx="1891.2" cy="851.7" r="2.8" fill="#dc1a1a"/><circle cx="1894.7" cy="851.3" r="2.8" fill="#dc1a1a"/><circle cx="1877.7" cy="857.3" r="2.8" fill="#dc1a1a"/><circle cx="1886" cy="861.4" r="2.8" fill="#dc1a1a"/><circle cx="1904.9" cy="862.2" r="2.8" fill="#dc1a1a"/><circle cx="1886.9" cy="876.5" r="2.8" fill="#dc1a1a"/><circle cx="1904" cy="875.7" r="2.8" fill="#dc1a1a"/><circle cx="1922.7" cy="882.2" r="2.8" fill="#dc1a1a"/><circle cx="1884.9" cy="884.4" r="2.8" fill="#dc1a1a"/><circle cx="1920.2" cy="887.3" r="2.8" fill="#dc1a1a"/><circle cx="1871.4" cy="893.4" r="2.8" fill="#dc1a1a"/><circle cx="1872.2" cy="895" r="2.8" fill="#dc1a1a"/><circle cx="1864.4" cy="899.1" r="2.8" fill="#dc1a1a"/><circle cx="1891.1" cy="895" r="2.8" fill="#dc1a1a"/><circle cx="1876.2" cy="903.7" r="2.8" fill="#dc1a1a"/><circle cx="1919.9" cy="902.4" r="2.8" fill="#dc1a1a"/><circle cx="1910.7" cy="907.4" r="2.8" fill="#dc1a1a"/><circle cx="1900.2" cy="912.8" r="2.8" fill="#dc1a1a"/><circle cx="1875.2" cy="916.1" r="2.8" fill="#dc1a1a"/><circle cx="1888.5" cy="915.9" r="2.8" fill="#dc1a1a"/><circle cx="1861.9" cy="918.9" r="2.8" fill="#dc1a1a"/><circle cx="1880.5" cy="920" r="2.8" fill="#dc1a1a"/><circle cx="1894.3" cy="921.7" r="2.8" fill="#dc1a1a"/><circle cx="1905.9" cy="918.4" r="2.8" fill="#dc1a1a"/><circle cx="1886.5" cy="932" r="2.8" fill="#dc1a1a"/><circle cx="1881.9" cy="945.6" r="2.8" fill="#dc1a1a"/><circle cx="1870.1" cy="954.2" r="2.8" fill="#dc1a1a"/><circle cx="1914.8" cy="976.9" r="2.8" fill="#dc1a1a"/><circle cx="1863.4" cy="987.9" r="2.8" fill="#dc1a1a"/><circle cx="1877.8" cy="998.2" r="2.8" fill="#dc1a1a"/><circle cx="1884.1" cy="1026.8" r="2.8" fill="#dc1a1a"/>
<path d="M1731.4 705.5 V693.6 H1894.4 V705.6" fill="none" stroke="#2b2b2b" stroke-width="1.5"/>
<text transform="translate(1736.3 684)" font-size="26" fill="#231815"><tspan font-style="italic">p</tspan> &lt; 2.22e-16</text>
<rect x="1113.1" y="55.1" width="559.6" height="16.8" fill="#2e448e"/>
<rect x="1676.1" y="55.1" width="207.4" height="16.8" fill="#ff0e0e"/>
<rect x="1093.9" y="74" width="17" height="342.9" fill="#00b0ca"/>
<rect x="1093.9" y="420" width="17" height="121.4" fill="#f94a32"/>
<text font-size="26.6" fill="#231815" text-anchor="middle" transform="translate(1401.5 46.9)">ST218-KL57</text>
<text font-size="26.6" fill="#231815" text-anchor="middle" transform="translate(1777.9 46.9)">ST23-KL57</text>
<text font-size="26.3" fill="#231815" text-anchor="middle" transform="translate(1074 236.3) rotate(-90)">Negative</text>
<text font-size="26.3" fill="#231815" text-anchor="middle" transform="translate(1074 466.2) rotate(-90)">Positive</text>
<text font-size="26.5" fill="#231815" transform="translate(1895.6 283.3)">Gene</text>
<rect x="1899.3" y="291.5" width="25.3" height="25.3" fill="#e6e596" stroke="#3c3226" stroke-width="1"/>
<rect x="1899.3" y="326.2" width="25.3" height="25.3" fill="#a0522d" stroke="#3c3226" stroke-width="1"/>
<text font-size="25.5" fill="#231815" transform="translate(1935.5 313.7)">0</text>
<text font-size="25.5" fill="#231815" transform="translate(1935.5 347.9)">1</text>
<path d="M1114.1 74.9h557.8v340.9h-557.8zM1676 74.9h206.9v340.9h-206.9zM1676 421h206.9v119.8h-206.9z" fill="#e6e596" shape-rendering="crispEdges"/>
<path d="M1114.1 421h557.8v119.8h-557.8z" fill="#b45223" shape-rendering="crispEdges"/>
<path d="M1114.35 75.08h11.61v1.89h-11.61zM1131.76 75.08h8.7v1.89h-8.7zM1173.11 75.08h4.35v1.89h-4.35zM1191.97 75.08h3.63v1.89h-3.63zM1201.4 75.08h4.35v1.89h-4.35zM1220.26 75.08h4.35v1.89h-4.35zM1228.96 75.08h5.08v1.89h-5.08zM1243.47 75.08h4.35v1.89h-4.35zM1262.33 75.08h3.63v1.89h-3.63zM1280.46 75.08h17.41v1.89h-17.41zM1302.95 75.08h8.7v1.89h-8.7zM1317.46 75.08h8.7v1.89h-8.7zM1335.59 75.08h8.7v1.89h-8.7zM1349.37 75.08h4.35v1.89h-4.35zM1358.08 75.08h4.35v1.89h-4.35zM1368.23 75.08h7.25v1.89h-7.25zM1395.07 75.08h4.93v1.89h-4.93zM1118.7 76.96h4.35v1.45h-4.35zM1131.76 76.96h4.35v1.45h-4.35zM1173.11 76.96h4.35v1.45h-4.35zM1191.97 76.96h3.63v1.45h-3.63zM1220.26 76.96h4.35v1.45h-4.35zM1262.33 76.96h3.63v1.45h-3.63zM1302.95 76.96h4.35v1.45h-4.35zM1326.16 76.96h4.35v1.45h-4.35zM1349.37 76.96h4.35v1.45h-4.35zM1368.23 76.96h8.7v1.45h-8.7zM1117.98 78.12h10.88v1.02h-10.88zM1146.27 78.12h4.35v1.02h-4.35zM1154.97 78.12h5.08v1.02h-5.08zM1164.4 78.12h4.35v1.02h-4.35zM1173.11 78.12h4.35v1.02h-4.35zM1183.26 78.12h3.63v1.02h-3.63zM1201.4 78.12h8.7v1.02h-8.7zM1220.26 78.12h18.13v1.02h-18.13zM1243.47 78.12h4.35v1.02h-4.35zM1256.53 78.12h9.43v1.02h-9.43zM1298.6 78.12h4.35v1.02h-4.35zM1310.2 78.12h8.7v1.02h-8.7zM1330.51 78.12h13.78v1.02h-13.78zM1349.37 78.12h8.7v1.02h-8.7zM1371.13 78.12h14.51v1.02h-14.51zM1395.07 78.12h4.93v1.02h-4.93zM1114.35 79.57h14.51v1.31h-14.51zM1149.17 79.57h5.8v1.31h-5.8zM1173.11 79.57h13.78v1.31h-13.78zM1191.97 79.57h3.63v1.31h-3.63zM1201.4 79.57h4.35v1.31h-4.35zM1210.1 79.57h23.94v1.31h-23.94zM1243.47 79.57h18.13v1.31h-18.13zM1302.95 79.57h13.78v1.31h-13.78zM1321.81 79.57h36.27v1.31h-36.27zM1363.16 79.57h18.86v1.31h-18.86zM1386.37 79.57h4.35v1.31h-4.35zM1395.07 79.57h4.93v1.31h-4.93zM1114.35 82.91h3.63v1.02h-3.63zM1131.76 82.91h9.43v1.02h-9.43zM1149.9 82.91h5.08v1.02h-5.08zM1168.76 82.91h8.7v1.02h-8.7zM1228.96 82.91h5.08v1.02h-5.08zM1239.12 82.91h3.63v1.02h-3.63zM1262.33 82.91h3.63v1.02h-3.63zM1302.95 82.91h5.08v1.02h-5.08zM1312.38 82.91h4.35v1.02h-4.35zM1331.24 82.91h3.63v1.02h-3.63zM1349.37 82.91h4.35v1.02h-4.35zM1358.08 82.91h4.35v1.02h-4.35zM1395.07 82.91h4.93v1.02h-4.93zM1196.32 89.88h4.35v0.87h-4.35zM1395.07 91.04h4.93v3.63h-4.93zM1390 75.08h2.9v1.89h-2.9zM1395.8 75.08h13.06v1.89h-13.06zM1418.29 75.08h4.35v1.89h-4.35zM1437.15 75.08h5.08v1.89h-5.08zM1446.58 75.08h4.35v1.89h-4.35zM1456.01 75.08h12.33v1.89h-12.33zM1478.5 75.08h4.35v1.89h-4.35zM1497.36 75.08h4.35v1.89h-4.35zM1520.57 75.08h4.35v1.89h-4.35zM1543.78 75.08h3.63v1.89h-3.63zM1566.27 75.08h10.88v1.89h-10.88zM1578.6 75.08h10.16v1.89h-10.16zM1617.04 75.08h5.08v1.89h-5.08zM1635.18 75.08h8.7v1.89h-8.7zM1668.54 75.08h3.36v1.89h-3.36zM1395.8 76.96h13.06v1.45h-13.06zM1418.29 76.96h4.35v1.45h-4.35zM1446.58 76.96h4.35v1.45h-4.35zM1456.01 76.96h9.43v1.45h-9.43zM1551.76 76.96h9.43v1.45h-9.43zM1570.62 76.96h18.13v1.45h-18.13zM1589.48 76.96h6.53v1.45h-6.53zM1645.33 76.96h4.35v1.45h-4.35zM1656.21 76.96h5.08v1.45h-5.08zM1390 78.27h4.35v1.02h-4.35zM1395.8 78.27h22.49v1.02h-22.49zM1423.37 78.27h8.7v1.02h-8.7zM1437.87 78.27h4.35v1.02h-4.35zM1446.58 78.27h36.27v1.02h-36.27zM1488.65 78.27h7.25v1.02h-7.25zM1511.86 78.27h7.25v1.02h-7.25zM1535.07 78.27h12.33v1.02h-12.33zM1551.76 78.27h36.99v1.02h-36.99zM1596.01 78.27h11.61v1.02h-11.61zM1611.96 78.27h59.48v1.02h-59.48zM1395.8 79.72h10.16v1.31h-10.16zM1419.01 79.72h4.35v1.31h-4.35zM1428.44 79.72h3.63v1.31h-3.63zM1446.58 79.72h26.84v1.31h-26.84zM1482.85 79.72h8.7v1.31h-8.7zM1496.63 79.72h9.43v1.31h-9.43zM1511.14 79.72h3.63v1.31h-3.63zM1520.57 79.72h26.84v1.31h-26.84zM1551.76 79.72h9.43v1.31h-9.43zM1589.48 79.72h3.63v1.31h-3.63zM1595.28 79.72h5.08v1.31h-5.08zM1645.33 79.72h4.35v1.31h-4.35zM1663.47 79.72h8.43v1.31h-8.43zM1395.8 81.9h13.06v1.16h-13.06zM1414.66 81.9h7.98v1.16h-7.98zM1551.76 81.9h9.43v1.16h-9.43zM1589.48 81.9h6.53v1.16h-6.53zM1598.91 81.9h13.06v1.16h-13.06zM1645.33 81.9h4.35v1.16h-4.35zM1654.76 81.9h2.9v1.16h-2.9zM1437.15 83.2h5.08v0.87h-5.08zM1561.91 83.2h3.63v0.87h-3.63zM1570.62 83.2h4.35v0.87h-4.35zM1580.05 83.2h5.08v0.87h-5.08zM1589.48 83.2h3.63v0.87h-3.63zM1598.18 83.2h5.08v0.87h-5.08zM1622.12 83.2h3.63v0.87h-3.63zM1183.36 139.91h26.47v6.33h-26.47zM1183.36 142.86h26.47v1h-26.47zM1183.36 152.8h26.47v1.25h-26.47zM1183.36 154.82h26.47v1.25h-26.47zM1183.36 162.87h26.47v1.25h-26.47zM1183.36 170.07h26.47v1.25h-26.47zM1183.36 172.37h26.47v1.25h-26.47zM1183.36 174.67h26.47v1.25h-26.47zM1183.36 181h26.47v1.25h-26.47zM1183.36 185.89h26.47v1.25h-26.47zM1183.36 194.52h26.47v1.25h-26.47zM1183.36 202.29h26.47v1.25h-26.47zM1183.36 214.66h26.47v1.25h-26.47zM1183.36 235.66h26.47v1.25h-26.47zM1183.36 240.84h26.47v1.25h-26.47zM1183.36 252.63h26.47v1.25h-26.47zM1183.36 309.59h26.47v1.25h-26.47zM1183.36 324.55h26.47v1.25h-26.47zM1183.36 169.83h26.47v7.19h-26.47zM1183.36 193.71h26.47v2.88h-26.47zM1183.36 102.46h26.47v1.25h-26.47zM1219.32 102.46h5.75v1.25h-5.75zM1275.42 102.46h4.32v1.25h-4.32zM1284.05 102.46h4.32v1.25h-4.32zM1196.31 89.51h4.32v1.25h-4.32zM1135.89 127.54h4.89v5.75h-4.89zM1135.89 133.24h4.89v1.25h-4.89zM1173.29 144.75h4.89v1.25h-4.89zM1173.29 147.63h4.89v1.25h-4.89zM1173.29 154.82h4.89v1.25h-4.89zM1173.29 171.5h4.89v1.25h-4.89zM1173.29 195.09h4.89v1.25h-4.89zM1173.29 202.29h4.89v1.25h-4.89zM1173.29 207.46h4.89v1.25h-4.89zM1173.29 212.36h4.89v1.25h-4.89zM1173.29 218.11h4.89v1.25h-4.89zM1173.29 222.42h4.89v1.25h-4.89zM1173.29 226.16h4.89v1.25h-4.89zM1173.29 234.8h4.89v1.25h-4.89zM1173.29 237.67h4.89v1.25h-4.89zM1173.29 240.84h4.89v1.25h-4.89zM1173.29 252.63h4.89v1.25h-4.89zM1173.29 324.55h4.89v1.25h-4.89zM1215.01 133.24h4.89v1.25h-4.89zM1215.01 141.3h4.89v1.25h-4.89zM1215.01 143.02h4.89v1.25h-4.89zM1215.01 150.5h4.89v1.25h-4.89zM1215.01 154.82h4.89v1.25h-4.89zM1215.01 181.57h4.89v1.25h-4.89zM1215.01 195.09h4.89v1.25h-4.89zM1215.01 202.29h4.89v1.25h-4.89zM1215.01 206.89h4.89v1.25h-4.89zM1215.01 214.66h4.89v1.25h-4.89zM1215.01 218.97h4.89v1.25h-4.89zM1215.01 223.29h4.89v1.25h-4.89zM1215.01 230.48h4.89v1.25h-4.89zM1215.01 234.8h4.89v1.25h-4.89zM1215.01 241.12h4.89v1.25h-4.89zM1215.01 246.3h4.89v1.25h-4.89zM1215.01 251.19h4.89v1.25h-4.89zM1215.01 259.25h4.89v1.25h-4.89zM1215.01 263.56h4.89v1.25h-4.89zM1215.01 246.06h4.89v2.88h-4.89zM1219.32 258.43h5.75v3.45h-5.75zM1239.46 131.23h12.37v1.25h-12.37zM1239.46 134.1h12.37v1.25h-12.37zM1239.46 138.42h12.37v1.25h-12.37zM1239.46 143.6h12.37v1.25h-12.37zM1239.46 152.8h12.37v1.25h-12.37zM1239.46 155.68h12.37v1.25h-12.37zM1239.46 160.86h12.37v1.25h-12.37zM1239.46 164.31h12.37v1.25h-12.37zM1239.46 169.49h12.37v1.25h-12.37zM1239.46 172.37h12.37v1.25h-12.37zM1239.46 175.24h12.37v1.25h-12.37zM1239.46 178.7h12.37v1.25h-12.37zM1239.46 183.01h12.37v1.25h-12.37zM1239.46 185.89h12.37v1.25h-12.37zM1239.46 190.2h12.37v1.25h-12.37zM1239.46 195.09h12.37v1.25h-12.37zM1239.46 198.83h12.37v1.25h-12.37zM1239.46 202.29h12.37v1.25h-12.37zM1239.46 207.46h12.37v1.25h-12.37zM1239.46 212.36h12.37v1.25h-12.37zM1239.46 218.11h12.37v1.25h-12.37zM1239.46 220.41h12.37v1.25h-12.37zM1239.46 222.42h12.37v1.25h-12.37zM1239.46 226.16h12.37v1.25h-12.37zM1239.46 230.48h12.37v1.25h-12.37zM1239.46 234.8h12.37v1.25h-12.37zM1239.46 239.11h12.37v1.25h-12.37zM1239.46 243.43h12.37v1.25h-12.37zM1239.46 246.3h12.37v1.25h-12.37zM1239.46 251.19h12.37v1.25h-12.37zM1239.46 256.37h12.37v1.25h-12.37zM1242.91 158.61h5.18v2.88h-5.18zM1239.46 248.94h4.32v4.32h-4.32zM1280.31 194.44h17.55v1.4h-17.55zM1280.31 197.32h17.55v1.4h-17.55zM1280.31 202.21h17.55v1.4h-17.55zM1280.31 205.09h17.55v1.4h-17.55zM1280.31 207.39h17.55v1.4h-17.55zM1280.31 210.27h17.55v1.4h-17.55zM1280.31 212.28h17.55v1.4h-17.55zM1280.31 214.58h17.55v1.4h-17.55zM1280.31 217.46h17.55v1.4h-17.55zM1280.31 219.47h17.55v1.4h-17.55zM1280.31 222.35h17.55v1.4h-17.55zM1280.31 224.65h17.55v1.4h-17.55zM1280.31 226.95h17.55v1.4h-17.55zM1280.31 230.4h17.55v1.4h-17.55zM1280.31 233.28h17.55v1.4h-17.55zM1280.31 252.63h17.55v1.25h-17.55zM1312.82 194.52h12.37v1.25h-12.37zM1312.82 198.83h12.37v1.25h-12.37zM1312.82 202.29h12.37v1.25h-12.37zM1312.82 206.89h12.37v1.25h-12.37zM1312.82 210.92h12.37v1.25h-12.37zM1312.82 216.1h12.37v1.25h-12.37zM1312.82 219.55h12.37v1.25h-12.37zM1312.82 222.42h12.37v1.25h-12.37zM1312.82 226.16h12.37v1.25h-12.37zM1312.82 230.48h12.37v1.25h-12.37zM1312.82 234.8h12.37v1.25h-12.37zM1312.82 239.11h12.37v1.25h-12.37zM1312.82 243.43h12.37v1.25h-12.37zM1312.82 246.3h12.37v1.25h-12.37zM1312.82 249.18h12.37v1.25h-12.37zM1312.82 251.19h12.37v1.25h-12.37zM1312.82 254.93h12.37v1.25h-12.37zM1312.82 259.25h12.37v1.25h-12.37zM1312.82 246.06h4.89v2.88h-4.89zM1317.13 249.8h4.89v3.45h-4.89zM1390.49 180.13h4.32v1.25h-4.32zM1390.49 183.01h4.32v1.25h-4.32zM1390.49 187.33h4.32v1.25h-4.32zM1390.49 195.09h4.32v1.25h-4.32zM1390.49 198.83h4.32v1.25h-4.32zM1390.49 202.29h4.32v1.25h-4.32zM1390.49 206.03h4.32v1.25h-4.32zM1390.49 210.34h4.32v1.25h-4.32zM1390.49 216.1h4.32v1.25h-4.32zM1390.49 220.41h4.32v1.25h-4.32zM1390.49 226.16h4.32v1.25h-4.32zM1390.49 230.48h4.32v1.25h-4.32zM1390.49 239.11h4.32v1.25h-4.32zM1390.49 241.99h4.32v1.25h-4.32zM1381.86 227.65h4.32v2.3h-4.32zM1381.86 239.16h4.32v2.3h-4.32zM1114.32 154.82h8.63v1.25h-8.63zM1150.28 154.82h10.07v1.25h-10.07zM1173.29 154.82h4.89v1.25h-4.89zM1183.36 154.82h26.47v1.25h-26.47zM1227.95 154.82h5.75v1.25h-5.75zM1275.42 154.82h4.32v1.25h-4.32zM1294.12 154.82h4.32v1.25h-4.32zM1303.33 154.82h5.18v1.25h-5.18zM1322.89 154.82h2.88v1.25h-2.88zM1348.78 154.82h5.75v1.25h-5.75zM1371.8 154.82h4.32v1.25h-4.32zM1390.49 154.82h9.49v1.25h-9.49zM1114.32 171.5h8.63v1.25h-8.63zM1127.26 171.5h5.75v1.25h-5.75zM1135.89 171.5h4.89v1.25h-4.89zM1150.28 171.5h18.7v1.25h-18.7zM1173.29 171.5h4.89v1.25h-4.89zM1183.36 171.5h26.47v1.25h-26.47zM1209.83 171.5h23.88v1.25h-23.88zM1243.77 171.5h4.32v1.25h-4.32zM1256.72 171.5h8.63v1.25h-8.63zM1271.1 171.5h27.33v1.25h-27.33zM1302.75 171.5h69.04v1.25h-69.04zM1377.55 171.5h22.44v1.25h-22.44zM1114.32 174.38h8.63v1.25h-8.63zM1150.28 174.38h18.7v1.25h-18.7zM1173.29 174.38h4.89v1.25h-4.89zM1183.36 174.38h26.47v1.25h-26.47zM1239.46 174.38h5.75v1.25h-5.75zM1275.42 174.38h4.32v1.25h-4.32zM1294.12 174.38h4.32v1.25h-4.32zM1317.13 174.38h4.32v1.25h-4.32zM1348.78 174.38h5.75v1.25h-5.75zM1118.63 180.71h25.89v1.25h-25.89zM1150.28 180.71h18.7v1.25h-18.7zM1173.29 180.71h54.66v1.25h-54.66zM1239.46 180.71h11.51v1.25h-11.51zM1256.72 180.71h8.63v1.25h-8.63zM1271.1 180.71h27.33v1.25h-27.33zM1308.5 180.71h63.29v1.25h-63.29zM1377.55 180.71h22.44v1.25h-22.44zM1118.63 202.29h4.32v1.25h-4.32zM1131.58 202.29h8.63v1.25h-8.63zM1150.28 202.29h10.07v1.25h-10.07zM1173.29 202.29h4.89v1.25h-4.89zM1183.36 202.29h26.47v1.25h-26.47zM1215.01 202.29h4.89v1.25h-4.89zM1243.77 202.29h4.32v1.25h-4.32zM1256.72 202.29h8.63v1.25h-8.63zM1279.74 202.29h18.12v1.25h-18.12zM1312.82 202.29h17.26v1.25h-17.26zM1340.15 202.29h13.81v1.25h-13.81zM1363.16 202.29h4.89v1.25h-4.89zM1381.86 202.29h4.32v1.25h-4.32zM1390.49 202.29h9.49v1.25h-9.49zM1154.59 116.84h5.75v1.25h-5.75zM1242.34 116.84h5.75v1.25h-5.75zM1381.86 116.84h8.63v1.25h-8.63zM1219.32 101.02h5.75v1.25h-5.75zM1145.96 234.8h4.32v1.25h-4.32zM1163.22 234.8h5.75v1.25h-5.75zM1265.35 234.8h5.75v1.25h-5.75zM1135.89 241.12h4.89v1.25h-4.89zM1363.16 241.12h4.89v1.25h-4.89zM1135.89 252.63h4.89v1.25h-4.89zM1173.29 252.63h4.89v1.25h-4.89zM1265.35 252.63h5.75v1.25h-5.75zM1168.98 263.56h3.74v1.25h-3.74zM1265.35 263.56h5.75v1.25h-5.75zM1334.4 263.56h5.75v1.25h-5.75zM1386.18 263.56h4.32v1.25h-4.32zM1265.35 265h5.75v1.25h-5.75zM1135.89 309.59h4.89v1.25h-4.89zM1135.89 324.55h4.89v1.25h-4.89zM1135.89 337.55h4.89v4.32h-4.89zM1173.29 337.55h4.89v4.32h-4.89zM1183.36 337.55h26.47v4.32h-26.47zM1215.01 337.55h10.07v4.32h-10.07zM1242.91 337.55h8.92v4.32h-8.92zM1280.31 337.55h17.55v4.32h-17.55zM1312.82 337.55h4.32v4.32h-4.32zM1322.03 337.55h8.06v4.32h-8.06zM1390.49 337.55h9.49v4.32h-9.49zM1118.06 340.38h4.89v1.25h-4.89zM1154.59 340.38h5.75v1.25h-5.75zM1256.72 340.38h8.63v1.25h-8.63zM1348.78 340.38h5.75v1.25h-5.75zM1381.86 340.38h4.32v1.25h-4.32zM1118.06 353.61h4.89v1.25h-4.89zM1127.26 353.61h12.95v1.25h-12.95zM1150.28 353.61h18.7v1.25h-18.7zM1173.29 353.61h15.82v1.25h-15.82zM1193.43 353.61h11.51v1.25h-11.51zM1215.01 353.61h10.07v1.25h-10.07zM1227.95 353.61h5.75v1.25h-5.75zM1242.91 353.61h8.92v1.25h-8.92zM1256.72 353.61h8.63v1.25h-8.63zM1302.75 353.61h69.04v1.25h-69.04zM1381.86 353.61h8.63v1.25h-8.63zM1118.06 356.49h4.89v2.4h-4.89zM1127.26 356.49h12.95v2.4h-12.95zM1150.28 356.49h18.7v2.4h-18.7zM1173.29 356.49h54.66v2.4h-54.66zM1242.91 356.49h8.92v2.4h-8.92zM1256.72 356.49h8.63v2.4h-8.63zM1271.1 356.49h26.75v2.4h-26.75zM1308.5 356.49h63.29v2.4h-63.29zM1377.55 356.49h22.44v2.4h-22.44zM1118.06 359.94h4.89v2.4h-4.89zM1127.26 359.94h12.95v2.4h-12.95zM1150.28 359.94h18.7v2.4h-18.7zM1173.29 359.94h54.66v2.4h-54.66zM1242.91 359.94h5.18v2.4h-5.18zM1256.72 359.94h8.63v2.4h-8.63zM1271.1 359.94h26.75v2.4h-26.75zM1308.5 359.94h63.29v2.4h-63.29zM1377.55 359.94h22.44v2.4h-22.44zM1118.06 364.52h4.89v3.6h-4.89zM1127.26 364.52h12.95v3.6h-12.95zM1150.28 364.52h18.7v3.6h-18.7zM1173.29 364.52h54.66v3.6h-54.66zM1242.91 364.52h8.92v3.6h-8.92zM1256.72 364.52h8.63v3.6h-8.63zM1271.1 364.52h26.75v3.6h-26.75zM1308.5 364.52h63.29v3.6h-63.29zM1377.55 364.52h22.44v3.6h-22.44zM1118.06 373.37h4.89v2h-4.89zM1127.26 373.37h12.95v2h-12.95zM1150.28 373.37h18.7v2h-18.7zM1173.29 373.37h60.41v2h-60.41zM1242.91 373.37h8.92v2h-8.92zM1256.72 373.37h8.63v2h-8.63zM1271.1 373.37h26.75v2h-26.75zM1302.75 373.37h69.04v2h-69.04zM1377.55 373.37h22.44v2h-22.44zM1114.32 380.65h8.63v1.25h-8.63zM1127.26 380.65h12.95v1.25h-12.95zM1150.28 380.65h18.7v1.25h-18.7zM1173.29 380.65h60.41v1.25h-60.41zM1242.91 380.65h8.92v1.25h-8.92zM1271.1 380.65h26.75v1.25h-26.75zM1302.75 380.65h69.04v1.25h-69.04zM1377.55 380.65h22.44v1.25h-22.44zM1551.97 82.95h10.07v8.63h-10.07zM1551.97 95.32h10.07v5.47h-10.07zM1551.97 103.08h10.07v12.95h-10.07zM1551.97 118.04h10.07v8.63h-10.07zM1551.97 134.73h10.07v5.18h-10.07zM1551.97 165.8h10.07v4.03h-10.07zM1551.97 179.32h10.07v4.32h-10.07zM1551.97 185.07h10.07v2.01h-10.07zM1551.97 198.83h10.07v1.25h-10.07zM1551.97 145.61h10.07v1.25h-10.07zM1551.97 151.37h10.07v1.25h-10.07zM1589.08 95.32h5.18v5.47h-5.18zM1598.57 95.32h4.89v5.47h-4.89zM1589.08 105.96h5.18v10.07h-5.18zM1598.57 105.96h4.89v10.07h-4.89zM1589.08 118.91h5.18v7.77h-5.18zM1598.57 118.91h4.89v7.77h-4.89zM1589.08 90.09h5.18v1.25h-5.18zM1598.57 90.09h4.89v1.25h-4.89zM1395.18 91h4.89v3.74h-4.89zM1404.38 91h4.32v3.74h-4.32zM1417.91 91h5.18v3.74h-5.18zM1607.78 91h4.32v4.03h-4.32zM1607.78 139.86h4.32v1.25h-4.32zM1607.78 141.87h4.32v1.25h-4.32zM1607.78 144.75h4.32v1.25h-4.32zM1607.78 153.38h4.32v1.25h-4.32zM1607.78 154.53h4.32v1.25h-4.32zM1607.78 162.87h4.32v1.25h-4.32zM1607.78 172.08h4.32v1.25h-4.32zM1607.78 183.01h4.32v1.25h-4.32zM1607.78 195.09h4.32v1.25h-4.32zM1607.78 201.71h4.32v1.25h-4.32zM1607.78 206.89h4.32v1.25h-4.32zM1607.78 215.52h4.32v1.25h-4.32zM1607.78 218.4h4.32v1.25h-4.32zM1607.78 221.85h4.32v1.25h-4.32zM1607.78 226.16h4.32v1.25h-4.32zM1607.78 231.92h4.32v1.25h-4.32zM1607.78 235.66h4.32v1.25h-4.32zM1607.78 240.55h4.32v1.25h-4.32zM1607.78 243.43h4.32v1.25h-4.32zM1607.78 246.3h4.32v1.25h-4.32zM1607.78 250.62h4.32v1.25h-4.32zM1607.78 255.8h4.32v1.25h-4.32zM1607.78 259.25h4.32v1.25h-4.32zM1607.78 139.04h4.32v6.33h-4.32zM1644.6 82.95h4.32v7.19h-4.32zM1644.6 94.45h4.32v21.58h-4.32zM1644.6 118.91h4.32v20.14h-4.32zM1644.6 149.11h4.32v12.95h-4.32zM1644.6 164.94h4.32v5.75h-4.32zM1654.1 82.95h4.03v18.7h-4.03zM1654.1 104.52h4.03v23.01h-4.03zM1654.1 131.85h4.03v43.15h-4.03zM1644.6 193.08h4.32v1.25h-4.32zM1644.6 195.96h4.32v1.25h-4.32zM1644.6 198.83h4.32v1.25h-4.32zM1644.6 201.71h4.32v1.25h-4.32zM1644.6 218.97h4.32v1.25h-4.32zM1644.6 232.78h4.32v1.25h-4.32zM1644.6 239.11h4.32v1.25h-4.32zM1644.6 241.99h4.32v1.25h-4.32zM1644.6 247.74h4.32v1.25h-4.32zM1644.6 249.18h4.32v1.25h-4.32zM1644.6 251.19h4.32v1.25h-4.32zM1644.6 253.49h4.32v1.25h-4.32zM1644.6 255.8h4.32v1.25h-4.32zM1654.1 190.2h4.03v1.25h-4.03zM1654.1 193.08h4.03v1.25h-4.03zM1654.1 195.96h4.03v1.25h-4.03zM1654.1 198.83h4.03v1.25h-4.03zM1654.1 204.59h4.03v1.25h-4.03zM1654.1 210.34h4.03v1.25h-4.03zM1654.1 216.1h4.03v1.25h-4.03zM1654.1 218.97h4.03v1.25h-4.03zM1654.1 224.73h4.03v1.25h-4.03zM1654.1 230.48h4.03v1.25h-4.03zM1654.1 236.23h4.03v1.25h-4.03zM1654.1 239.11h4.03v1.25h-4.03zM1654.1 241.99h4.03v1.25h-4.03zM1654.1 247.74h4.03v1.25h-4.03zM1654.1 250.62h4.03v1.25h-4.03zM1654.1 253.49h4.03v1.25h-4.03zM1654.1 259.25h4.03v1.25h-4.03zM1654.1 238.3h4.89v3.74h-4.89zM1658.12 190.25h4.6v2.88h-4.6zM1390 154.82h14.38v1.25h-14.38zM1477.74 154.82h4.89v1.25h-4.89zM1533.84 154.82h4.32v1.25h-4.32zM1543.34 154.82h4.32v1.25h-4.32zM1551.97 154.82h4.89v1.25h-4.89zM1574.98 154.82h4.89v1.25h-4.89zM1594.26 154.82h3.45v1.25h-3.45zM1602.89 154.82h4.32v1.25h-4.32zM1617.27 154.82h4.32v1.25h-4.32zM1631.66 154.82h11.51v1.25h-11.51zM1658.99 154.82h12.91v1.25h-12.91zM1390 171.5h60.41v1.25h-60.41zM1455.59 171.5h4.03v1.25h-4.03zM1465.37 171.5h8.63v1.25h-8.63zM1487.81 171.5h23.01v1.25h-23.01zM1519.46 171.5h13.52v1.25h-13.52zM1537.58 171.5h10.07v1.25h-10.07zM1551.97 171.5h14.96v1.25h-14.96zM1569.8 171.5h7.19v1.25h-7.19zM1579.87 171.5h23.59v1.25h-23.59zM1607.78 171.5h9.49v1.25h-9.49zM1621.59 171.5h21.58v1.25h-21.58zM1647.48 171.5h24.42v1.25h-24.42zM1390 174.38h14.38v1.25h-14.38zM1657.55 174.38h14.35v1.25h-14.35zM1390 180.71h60.41v1.25h-60.41zM1455.59 180.71h17.84v1.25h-17.84zM1487.81 180.71h23.01v1.25h-23.01zM1519.46 180.71h13.52v1.25h-13.52zM1537.58 180.71h10.07v1.25h-10.07zM1551.97 180.71h10.64v1.25h-10.64zM1571.24 180.71h32.22v1.25h-32.22zM1607.78 180.71h35.39v1.25h-35.39zM1647.48 180.71h24.42v1.25h-24.42zM1390 183.01h14.38v1.25h-14.38zM1441.78 183.01h8.63v1.25h-8.63zM1460.48 183.01h4.32v1.25h-4.32zM1496.44 183.01h5.75v1.25h-5.75zM1390 193.08h5.18v1.25h-5.18zM1390 195.09h5.18v1.25h-5.18zM1390 201.71h5.18v1.25h-5.18zM1390 208.9h5.18v1.25h-5.18zM1390 211.78h5.18v1.25h-5.18zM1390 214.66h5.18v1.25h-5.18zM1390 218.97h5.18v1.25h-5.18zM1390 223.29h5.18v1.25h-5.18zM1390 227.03h5.18v1.25h-5.18zM1390 230.48h5.18v1.25h-5.18zM1390 233.36h5.18v1.25h-5.18zM1390 252.63h5.18v1.25h-5.18zM1390 200.9h5.18v2.88h-5.18zM1459.62 195.09h5.75v1.25h-5.75zM1459.62 202.29h5.75v1.25h-5.75zM1459.62 207.46h5.75v1.25h-5.75zM1459.62 212.36h5.75v1.25h-5.75zM1459.62 214.66h5.75v1.25h-5.75zM1459.62 221.85h5.75v1.25h-5.75zM1459.62 224.73h5.75v1.25h-5.75zM1459.62 227.03h5.75v1.25h-5.75zM1459.62 230.48h5.75v1.25h-5.75zM1459.62 233.36h5.75v1.25h-5.75zM1459.62 237.1h5.75v1.25h-5.75zM1621.59 195.09h4.32v1.25h-4.32zM1621.59 202.29h4.32v1.25h-4.32zM1621.59 206.89h4.32v1.25h-4.32zM1621.59 210.34h4.32v1.25h-4.32zM1621.59 213.22h4.32v1.25h-4.32zM1621.59 216.1h4.32v1.25h-4.32zM1621.59 218.97h4.32v1.25h-4.32zM1621.59 221.85h4.32v1.25h-4.32zM1621.59 226.16h4.32v1.25h-4.32zM1621.59 230.48h4.32v1.25h-4.32zM1621.59 234.8h4.32v1.25h-4.32zM1621.59 252.63h4.32v1.25h-4.32zM1621.59 262.7h4.32v1.25h-4.32zM1390 202.29h14.38v1.25h-14.38zM1418.77 202.29h4.32v1.25h-4.32zM1441.78 202.29h8.63v1.25h-8.63zM1455.59 202.29h9.78v1.25h-9.78zM1496.44 202.29h8.63v1.25h-8.63zM1519.46 202.29h8.63v1.25h-8.63zM1543.34 202.29h4.32v1.25h-4.32zM1566.35 202.29h13.52v1.25h-13.52zM1589.08 202.29h5.18v1.25h-5.18zM1598.57 202.29h4.89v1.25h-4.89zM1607.78 202.29h9.49v1.25h-9.49zM1621.59 202.29h4.32v1.25h-4.32zM1631.66 202.29h8.63v1.25h-8.63zM1643.16 202.29h5.75v1.25h-5.75zM1390 75.93h281.9v0.8h-281.9zM1487.81 102.46h4.32v1.25h-4.32zM1533.84 102.46h4.32v1.25h-4.32zM1423.08 116.27h4.89v1.25h-4.89zM1487.81 131.23h4.32v1.25h-4.32zM1506.51 131.23h4.32v1.25h-4.32zM1404.38 132.67h4.32v1.25h-4.32zM1417.91 132.67h5.18v1.25h-5.18zM1404.38 140.72h4.32v1.25h-4.32zM1543.34 140.72h4.32v1.25h-4.32zM1570.67 140.72h3.45v1.25h-3.45zM1585.05 140.72h3.45v1.25h-3.45zM1622.16 140.72h3.74v1.25h-3.74zM1395.18 242.85h13.52v1.25h-13.52zM1417.91 242.85h5.18v1.25h-5.18zM1390 252.63h5.18v1.25h-5.18zM1404.38 252.63h4.32v1.25h-4.32zM1441.78 252.63h4.32v1.25h-4.32zM1459.91 252.63h4.89v1.25h-4.89zM1496.44 252.63h5.75v1.25h-5.75zM1543.34 252.63h4.32v1.25h-4.32zM1570.67 252.63h3.45v1.25h-3.45zM1436.61 263.56h5.18v1.25h-5.18zM1496.44 263.56h5.75v1.25h-5.75zM1579.87 263.56h5.18v1.25h-5.18zM1482.64 234.8h5.18v1.25h-5.18zM1510.83 234.8h4.03v1.25h-4.03zM1533.84 234.8h4.32v1.25h-4.32zM1585.05 234.8h4.03v1.25h-4.03zM1594.26 234.8h3.45v1.25h-3.45zM1391.44 337.55h3.74v4.32h-3.74zM1441.78 337.55h4.32v4.32h-4.32zM1459.91 337.55h4.89v4.32h-4.89zM1570.67 337.55h3.45v4.32h-3.45zM1607.78 337.55h4.32v4.32h-4.32zM1621.59 337.55h4.32v4.32h-4.32zM1654.1 337.55h4.03v4.32h-4.03zM1404.38 340.38h4.32v1.25h-4.32zM1418.77 340.38h4.32v1.25h-4.32zM1477.74 340.38h4.89v1.25h-4.89zM1496.44 340.38h8.63v1.25h-8.63zM1543.34 340.38h4.32v1.25h-4.32zM1551.97 340.38h10.07v1.25h-10.07zM1589.08 340.38h14.38v1.25h-14.38zM1631.66 340.38h17.26v1.25h-17.26zM1662.73 340.38h9.17v1.25h-9.17zM1390 353.61h14.38v1.25h-14.38zM1408.7 353.61h27.33v1.25h-27.33zM1441.78 353.61h8.63v1.25h-8.63zM1455.59 353.61h4.03v1.25h-4.03zM1465.37 353.61h8.63v1.25h-8.63zM1487.81 353.61h23.01v1.25h-23.01zM1519.46 353.61h13.52v1.25h-13.52zM1537.58 353.61h10.07v1.25h-10.07zM1551.97 353.61h14.96v1.25h-14.96zM1574.98 353.61h10.64v1.25h-10.64zM1589.08 353.61h5.18v1.25h-5.18zM1598.57 353.61h4.89v1.25h-4.89zM1607.78 353.61h9.49v1.25h-9.49zM1621.59 353.61h21.58v1.25h-21.58zM1654.1 353.61h4.03v1.25h-4.03zM1390 356.49h51.78v2.4h-51.78zM1446.1 356.49h4.32v2.4h-4.32zM1455.59 356.49h4.03v2.4h-4.03zM1465.37 356.49h8.63v2.4h-8.63zM1487.81 356.49h23.01v2.4h-23.01zM1519.46 356.49h13.52v2.4h-13.52zM1537.58 356.49h10.07v2.4h-10.07zM1562.04 356.49h9.21v2.4h-9.21zM1574.98 356.49h10.64v2.4h-10.64zM1589.08 356.49h5.18v2.4h-5.18zM1598.57 356.49h4.89v2.4h-4.89zM1611.52 356.49h5.75v2.4h-5.75zM1621.59 356.49h23.01v2.4h-23.01zM1390 359.94h51.78v2.4h-51.78zM1446.1 359.94h4.32v2.4h-4.32zM1455.59 359.94h4.03v2.4h-4.03zM1465.37 359.94h8.63v2.4h-8.63zM1487.81 359.94h23.01v2.4h-23.01zM1519.46 359.94h13.52v2.4h-13.52zM1537.58 359.94h10.07v2.4h-10.07zM1562.04 359.94h9.21v2.4h-9.21zM1574.98 359.94h10.64v2.4h-10.64zM1589.08 359.94h5.18v2.4h-5.18zM1598.57 359.94h4.89v2.4h-4.89zM1611.52 359.94h5.75v2.4h-5.75zM1621.59 359.94h23.01v2.4h-23.01zM1390 364.52h60.41v3.6h-60.41zM1455.59 364.52h4.03v3.6h-4.03zM1465.37 364.52h8.63v3.6h-8.63zM1487.81 364.52h23.01v3.6h-23.01zM1519.46 364.52h13.52v3.6h-13.52zM1537.58 364.52h10.07v3.6h-10.07zM1551.97 364.52h19.28v3.6h-19.28zM1574.98 364.52h10.64v3.6h-10.64zM1589.08 364.52h5.18v3.6h-5.18zM1598.57 364.52h4.89v3.6h-4.89zM1607.78 364.52h9.49v3.6h-9.49zM1621.59 364.52h27.33v3.6h-27.33zM1654.1 364.52h4.03v3.6h-4.03zM1390 373.37h60.41v2h-60.41zM1455.59 373.37h4.03v2h-4.03zM1465.37 373.37h8.63v2h-8.63zM1487.81 373.37h23.01v2h-23.01zM1519.46 373.37h13.52v2h-13.52zM1537.58 373.37h10.07v2h-10.07zM1551.97 373.37h19.28v2h-19.28zM1574.98 373.37h10.64v2h-10.64zM1589.08 373.37h5.18v2h-5.18zM1598.57 373.37h4.89v2h-4.89zM1607.78 373.37h9.49v2h-9.49zM1621.59 373.37h27.33v2h-27.33zM1654.1 373.37h4.03v2h-4.03zM1390 380.65h60.41v1.25h-60.41zM1455.59 380.65h18.41v1.25h-18.41zM1477.74 380.65h4.89v1.25h-4.89zM1487.81 380.65h23.01v1.25h-23.01zM1519.46 380.65h13.52v1.25h-13.52zM1537.58 380.65h48.04v1.25h-48.04zM1589.08 380.65h5.18v1.25h-5.18zM1598.57 380.65h4.89v1.25h-4.89zM1607.78 380.65h9.49v1.25h-9.49zM1621.59 380.65h23.01v1.25h-23.01zM1657.55 380.65h5.18v1.25h-5.18z" fill="#b45223" shape-rendering="crispEdges"/>
<path d="M1689.79 74.9h9.2v1.2h-9.2zM1703.59 74.9h32.18v1.2h-32.18zM1744.97 74.9h22.99v1.2h-22.99zM1777.15 74.9h9.2v1.2h-9.2zM1823.13 74.9h36.78v1.2h-36.78zM1869.11 74.9h13.79v1.2h-13.79zM1676 76.1h9.2v1.2h-9.2zM1689.79 76.1h18.39v1.2h-18.39zM1712.78 76.1h13.79v1.2h-13.79zM1735.77 76.1h27.59v1.2h-27.59zM1777.15 76.1h13.79v1.2h-13.79zM1809.34 76.1h13.79v1.2h-13.79zM1846.12 76.1h9.2v1.2h-9.2zM1859.91 76.1h22.99v1.2h-22.99zM1676 77.3h9.2v1.2h-9.2zM1689.79 77.3h18.39v1.2h-18.39zM1726.58 77.3h13.79v1.2h-13.79zM1754.16 77.3h18.39v1.2h-18.39zM1777.15 77.3h4.6v1.2h-4.6zM1786.35 77.3h4.6v1.2h-4.6zM1800.14 77.3h13.79v1.2h-13.79zM1827.73 77.3h4.6v1.2h-4.6zM1836.92 77.3h4.6v1.2h-4.6zM1864.51 77.3h4.6v1.2h-4.6zM1676 78.5h41.38v1.2h-41.38zM1726.58 78.5h45.98v1.2h-45.98zM1777.15 78.5h4.6v1.2h-4.6zM1804.74 78.5h13.79v1.2h-13.79zM1850.72 78.5h4.6v1.2h-4.6zM1859.91 78.5h22.99v1.2h-22.99zM1676 79.7h22.99v1.2h-22.99zM1735.77 79.7h9.2v1.2h-9.2zM1749.56 79.7h36.78v1.2h-36.78zM1818.53 79.7h4.6v1.2h-4.6zM1827.73 79.7h27.59v1.2h-27.59zM1676 80.9h18.39v1.2h-18.39zM1712.78 80.9h4.6v1.2h-4.6zM1731.17 80.9h4.6v1.2h-4.6zM1740.37 80.9h45.98v1.2h-45.98zM1790.94 80.9h36.78v1.2h-36.78zM1832.32 80.9h32.18v1.2h-32.18zM1873.7 80.9h9.2v1.2h-9.2zM1685.2 82.1h22.99v1.2h-22.99zM1726.58 82.1h32.18v1.2h-32.18zM1763.36 82.1h9.2v1.2h-9.2zM1777.15 82.1h36.78v1.2h-36.78zM1850.72 82.1h32.18v1.2h-32.18zM1676 83.3h9.2v0.2h-9.2zM1689.79 83.3h13.79v0.2h-13.79zM1735.77 83.3h18.39v0.2h-18.39zM1772.55 83.3h110.35v0.2h-110.35zM1712.78 133.2h9.2v1.2h-9.2zM1726.58 133.2h27.59v1.2h-27.59zM1855.31 133.2h4.6v1.2h-4.6zM1712.78 134.4h9.2v1.2h-9.2zM1726.58 134.4h27.59v1.2h-27.59zM1855.31 134.4h4.6v1.2h-4.6zM1712.78 135.6h9.2v1.2h-9.2zM1726.58 135.6h27.59v1.2h-27.59zM1855.31 135.6h4.6v1.2h-4.6zM1712.78 136.8h9.2v1.2h-9.2zM1726.58 136.8h27.59v1.2h-27.59zM1855.31 136.8h4.6v1.2h-4.6zM1676 138h4.6v1.2h-4.6zM1685.2 138h4.6v1.2h-4.6zM1712.78 138h4.6v1.2h-4.6zM1726.58 138h18.39v1.2h-18.39zM1758.76 138h4.6v1.2h-4.6zM1777.15 138h27.59v1.2h-27.59zM1818.53 138h13.79v1.2h-13.79zM1846.12 138h9.2v1.2h-9.2zM1873.7 138h9.2v1.2h-9.2zM1676 139.2h4.6v1.2h-4.6zM1685.2 139.2h4.6v1.2h-4.6zM1712.78 139.2h4.6v1.2h-4.6zM1726.58 139.2h18.39v1.2h-18.39zM1758.76 139.2h4.6v1.2h-4.6zM1777.15 139.2h27.59v1.2h-27.59zM1818.53 139.2h13.79v1.2h-13.79zM1846.12 139.2h9.2v1.2h-9.2zM1873.7 139.2h9.2v1.2h-9.2zM1676 140.4h4.6v1.2h-4.6zM1685.2 140.4h4.6v1.2h-4.6zM1712.78 140.4h4.6v1.2h-4.6zM1726.58 140.4h18.39v1.2h-18.39zM1758.76 140.4h4.6v1.2h-4.6zM1777.15 140.4h27.59v1.2h-27.59zM1818.53 140.4h13.79v1.2h-13.79zM1846.12 140.4h9.2v1.2h-9.2zM1873.7 140.4h9.2v1.2h-9.2zM1676 141.6h4.6v1.2h-4.6zM1689.79 141.6h22.99v1.2h-22.99zM1731.17 141.6h4.6v1.2h-4.6zM1754.16 141.6h4.6v1.2h-4.6zM1813.93 141.6h4.6v1.2h-4.6zM1823.13 141.6h9.2v1.2h-9.2zM1850.72 141.6h9.2v1.2h-9.2zM1717.38 142.8h9.2v1.2h-9.2zM1754.16 142.8h4.6v1.2h-4.6zM1800.14 142.8h13.79v1.2h-13.79zM1823.13 142.8h32.18v1.2h-32.18zM1676 144h4.6v1.2h-4.6zM1685.2 144h4.6v1.2h-4.6zM1758.76 144h4.6v1.2h-4.6zM1777.15 144h22.99v1.2h-22.99zM1813.93 144h18.39v1.2h-18.39zM1846.12 144h13.79v1.2h-13.79zM1869.11 144h9.2v1.2h-9.2zM1790.94 145.2h22.99v1.2h-22.99zM1823.13 145.2h9.2v1.2h-9.2zM1846.12 145.2h4.6v1.2h-4.6zM1859.91 145.2h9.2v1.2h-9.2zM1685.2 146.4h4.6v1.2h-4.6zM1717.38 146.4h4.6v1.2h-4.6zM1846.12 146.4h9.2v1.2h-9.2zM1685.2 147.6h4.6v1.2h-4.6zM1717.38 147.6h4.6v1.2h-4.6zM1846.12 147.6h9.2v1.2h-9.2zM1685.2 148.8h4.6v1.2h-4.6zM1717.38 148.8h4.6v1.2h-4.6zM1846.12 148.8h9.2v1.2h-9.2zM1680.6 150h9.2v1.2h-9.2zM1712.78 150h9.2v1.2h-9.2zM1726.58 150h27.59v1.2h-27.59zM1758.76 150h4.6v1.2h-4.6zM1855.31 150h4.6v1.2h-4.6zM1869.11 150h9.2v1.2h-9.2zM1680.6 151.2h9.2v1.2h-9.2zM1712.78 151.2h9.2v1.2h-9.2zM1726.58 151.2h27.59v1.2h-27.59zM1758.76 151.2h4.6v1.2h-4.6zM1855.31 151.2h4.6v1.2h-4.6zM1869.11 151.2h9.2v1.2h-9.2zM1676 152.4h9.2v1.2h-9.2zM1703.59 152.4h4.6v1.2h-4.6zM1726.58 152.4h9.2v1.2h-9.2zM1763.36 152.4h13.79v1.2h-13.79zM1800.14 152.4h22.99v1.2h-22.99zM1832.32 152.4h13.79v1.2h-13.79zM1850.72 152.4h32.18v1.2h-32.18zM1717.38 153.6h4.6v1.2h-4.6zM1735.77 153.6h4.6v1.2h-4.6zM1754.16 153.6h4.6v1.2h-4.6zM1777.15 153.6h13.79v1.2h-13.79zM1823.13 153.6h9.2v1.2h-9.2zM1864.51 153.6h4.6v1.2h-4.6zM1712.78 154.8h13.79v1.2h-13.79zM1740.37 154.8h18.39v1.2h-18.39zM1763.36 154.8h13.79v1.2h-13.79zM1790.94 154.8h9.2v1.2h-9.2zM1813.93 154.8h4.6v1.2h-4.6zM1685.2 156h4.6v1.2h-4.6zM1726.58 156h4.6v1.2h-4.6zM1758.76 156h4.6v1.2h-4.6zM1795.54 156h18.39v1.2h-18.39zM1859.91 156h9.2v1.2h-9.2zM1685.2 157.2h32.18v1.2h-32.18zM1790.94 157.2h9.2v1.2h-9.2zM1813.93 157.2h9.2v1.2h-9.2zM1680.6 158.4h9.2v1.2h-9.2zM1712.78 158.4h9.2v1.2h-9.2zM1726.58 158.4h13.79v1.2h-13.79zM1754.16 158.4h9.2v1.2h-9.2zM1777.15 158.4h18.39v1.2h-18.39zM1800.14 158.4h13.79v1.2h-13.79zM1832.32 158.4h22.99v1.2h-22.99zM1859.91 158.4h18.39v1.2h-18.39zM1680.6 159.6h9.2v0.4h-9.2zM1712.78 159.6h9.2v0.4h-9.2zM1726.58 159.6h13.79v0.4h-13.79zM1754.16 159.6h9.2v0.4h-9.2zM1777.15 159.6h18.39v0.4h-18.39zM1800.14 159.6h13.79v0.4h-13.79zM1832.32 159.6h22.99v0.4h-22.99zM1859.91 159.6h18.39v0.4h-18.39zM1676 160h4.6v1.2h-4.6zM1685.2 160h27.59v1.2h-27.59zM1740.37 160h13.79v1.2h-13.79zM1763.36 160h36.78v1.2h-36.78zM1832.32 160h13.79v1.2h-13.79zM1676 161.2h4.6v1.2h-4.6zM1685.2 161.2h27.59v1.2h-27.59zM1740.37 161.2h13.79v1.2h-13.79zM1763.36 161.2h36.78v1.2h-36.78zM1832.32 161.2h13.79v1.2h-13.79zM1676 162.4h4.6v1.2h-4.6zM1685.2 162.4h27.59v1.2h-27.59zM1740.37 162.4h13.79v1.2h-13.79zM1763.36 162.4h36.78v1.2h-36.78zM1832.32 162.4h13.79v1.2h-13.79zM1676 163.6h4.6v1.2h-4.6zM1685.2 163.6h27.59v1.2h-27.59zM1740.37 163.6h13.79v1.2h-13.79zM1763.36 163.6h36.78v1.2h-36.78zM1832.32 163.6h13.79v1.2h-13.79zM1717.38 164.8h4.6v1.2h-4.6zM1781.75 164.8h4.6v1.2h-4.6zM1809.34 164.8h4.6v1.2h-4.6zM1818.53 164.8h4.6v1.2h-4.6zM1855.31 164.8h22.99v1.2h-22.99zM1676 166h4.6v1.2h-4.6zM1708.18 166h4.6v1.2h-4.6zM1717.38 166h4.6v1.2h-4.6zM1786.35 166h9.2v1.2h-9.2zM1813.93 166h4.6v1.2h-4.6zM1832.32 166h4.6v1.2h-4.6zM1846.12 166h9.2v1.2h-9.2zM1859.91 166h9.2v1.2h-9.2zM1676 167.2h4.6v1.2h-4.6zM1708.18 167.2h4.6v1.2h-4.6zM1717.38 167.2h4.6v1.2h-4.6zM1786.35 167.2h9.2v1.2h-9.2zM1813.93 167.2h4.6v1.2h-4.6zM1832.32 167.2h4.6v1.2h-4.6zM1846.12 167.2h9.2v1.2h-9.2zM1859.91 167.2h9.2v1.2h-9.2zM1676 168.4h4.6v1.2h-4.6zM1708.18 168.4h4.6v1.2h-4.6zM1717.38 168.4h4.6v1.2h-4.6zM1786.35 168.4h9.2v1.2h-9.2zM1813.93 168.4h4.6v1.2h-4.6zM1832.32 168.4h4.6v1.2h-4.6zM1846.12 168.4h9.2v1.2h-9.2zM1859.91 168.4h9.2v1.2h-9.2zM1676 169.6h4.6v1.2h-4.6zM1712.78 169.6h4.6v1.2h-4.6zM1721.98 169.6h18.39v1.2h-18.39zM1754.16 169.6h4.6v1.2h-4.6zM1763.36 169.6h13.79v1.2h-13.79zM1790.94 169.6h41.38v1.2h-41.38zM1855.31 169.6h9.2v1.2h-9.2zM1873.7 169.6h9.2v1.2h-9.2zM1680.6 170.8h9.2v1.2h-9.2zM1708.18 170.8h4.6v1.2h-4.6zM1740.37 170.8h13.79v1.2h-13.79zM1800.14 170.8h13.79v1.2h-13.79zM1818.53 170.8h13.79v1.2h-13.79zM1855.31 170.8h9.2v1.2h-9.2zM1869.11 170.8h9.2v1.2h-9.2zM1680.6 172h4.6v1.2h-4.6zM1689.79 172h4.6v1.2h-4.6zM1777.15 172h13.79v1.2h-13.79zM1818.53 172h4.6v1.2h-4.6zM1832.32 172h13.79v1.2h-13.79zM1869.11 172h9.2v1.2h-9.2zM1685.2 173.2h4.6v1.2h-4.6zM1717.38 173.2h4.6v1.2h-4.6zM1726.58 173.2h32.18v1.2h-32.18zM1767.96 173.2h4.6v1.2h-4.6zM1790.94 173.2h9.2v1.2h-9.2zM1827.73 173.2h4.6v1.2h-4.6zM1859.91 173.2h9.2v1.2h-9.2zM1878.3 173.2h4.6v1.2h-4.6zM1676 174.4h4.6v1.2h-4.6zM1685.2 174.4h4.6v1.2h-4.6zM1712.78 174.4h9.2v1.2h-9.2zM1726.58 174.4h13.79v1.2h-13.79zM1754.16 174.4h4.6v1.2h-4.6zM1795.54 174.4h4.6v1.2h-4.6zM1813.93 174.4h4.6v1.2h-4.6zM1823.13 174.4h9.2v1.2h-9.2zM1846.12 174.4h13.79v1.2h-13.79zM1864.51 174.4h18.39v1.2h-18.39zM1680.6 175.6h4.6v1.2h-4.6zM1740.37 175.6h18.39v1.2h-18.39zM1790.94 175.6h9.2v1.2h-9.2zM1855.31 175.6h4.6v1.2h-4.6zM1717.38 176.8h4.6v1.2h-4.6zM1754.16 176.8h4.6v1.2h-4.6zM1763.36 176.8h13.79v1.2h-13.79zM1832.32 176.8h13.79v1.2h-13.79zM1869.11 176.8h13.79v1.2h-13.79zM1676 178h4.6v1.2h-4.6zM1685.2 178h4.6v1.2h-4.6zM1712.78 178h4.6v1.2h-4.6zM1731.17 178h9.2v1.2h-9.2zM1754.16 178h4.6v1.2h-4.6zM1767.96 178h4.6v1.2h-4.6zM1800.14 178h18.39v1.2h-18.39zM1827.73 178h18.39v1.2h-18.39zM1855.31 178h4.6v1.2h-4.6zM1878.3 178h4.6v1.2h-4.6zM1680.6 179.2h4.6v0.8h-4.6zM1726.58 179.2h13.79v0.8h-13.79zM1754.16 179.2h22.99v0.8h-22.99zM1790.94 179.2h9.2v0.8h-9.2zM1813.93 179.2h4.6v0.8h-4.6zM1823.13 179.2h9.2v0.8h-9.2zM1846.12 179.2h22.99v0.8h-22.99zM1878.3 179.2h4.6v0.8h-4.6zM1676 180h4.6v1.2h-4.6zM1685.2 180h36.78v1.2h-36.78zM1726.58 180h32.18v1.2h-32.18zM1763.36 180h4.6v1.2h-4.6zM1777.15 180h22.99v1.2h-22.99zM1813.93 180h4.6v1.2h-4.6zM1823.13 180h18.39v1.2h-18.39zM1850.72 180h4.6v1.2h-4.6zM1869.11 180h13.79v1.2h-13.79zM1676 181.2h4.6v1.2h-4.6zM1685.2 181.2h36.78v1.2h-36.78zM1726.58 181.2h32.18v1.2h-32.18zM1763.36 181.2h4.6v1.2h-4.6zM1777.15 181.2h22.99v1.2h-22.99zM1813.93 181.2h4.6v1.2h-4.6zM1823.13 181.2h18.39v1.2h-18.39zM1850.72 181.2h4.6v1.2h-4.6zM1869.11 181.2h13.79v1.2h-13.79zM1712.78 182.4h4.6v1.2h-4.6zM1804.74 182.4h4.6v1.2h-4.6zM1832.32 182.4h13.79v1.2h-13.79zM1859.91 182.4h22.99v1.2h-22.99zM1676 183.6h4.6v1.2h-4.6zM1685.2 183.6h4.6v1.2h-4.6zM1717.38 183.6h4.6v1.2h-4.6zM1726.58 183.6h27.59v1.2h-27.59zM1763.36 183.6h4.6v1.2h-4.6zM1786.35 183.6h4.6v1.2h-4.6zM1800.14 183.6h13.79v1.2h-13.79zM1818.53 183.6h4.6v1.2h-4.6zM1869.11 183.6h4.6v1.2h-4.6zM1685.2 184.8h4.6v1.2h-4.6zM1708.18 184.8h4.6v1.2h-4.6zM1726.58 184.8h9.2v1.2h-9.2zM1740.37 184.8h18.39v1.2h-18.39zM1790.94 184.8h9.2v1.2h-9.2zM1823.13 184.8h9.2v1.2h-9.2zM1676 186h4.6v1.2h-4.6zM1685.2 186h4.6v1.2h-4.6zM1712.78 186h13.79v1.2h-13.79zM1740.37 186h13.79v1.2h-13.79zM1763.36 186h13.79v1.2h-13.79zM1790.94 186h41.38v1.2h-41.38zM1850.72 186h32.18v1.2h-32.18zM1676 187.2h4.6v1.2h-4.6zM1685.2 187.2h4.6v1.2h-4.6zM1712.78 187.2h13.79v1.2h-13.79zM1740.37 187.2h13.79v1.2h-13.79zM1763.36 187.2h13.79v1.2h-13.79zM1790.94 187.2h41.38v1.2h-41.38zM1850.72 187.2h32.18v1.2h-32.18zM1676 188.4h4.6v1.2h-4.6zM1685.2 188.4h4.6v1.2h-4.6zM1712.78 188.4h9.2v1.2h-9.2zM1726.58 188.4h27.59v1.2h-27.59zM1781.75 188.4h4.6v1.2h-4.6zM1790.94 188.4h27.59v1.2h-27.59zM1823.13 188.4h41.38v1.2h-41.38zM1869.11 188.4h9.2v1.2h-9.2zM1676 189.6h4.6v1.2h-4.6zM1685.2 189.6h4.6v1.2h-4.6zM1712.78 189.6h9.2v1.2h-9.2zM1726.58 189.6h27.59v1.2h-27.59zM1781.75 189.6h4.6v1.2h-4.6zM1790.94 189.6h27.59v1.2h-27.59zM1823.13 189.6h41.38v1.2h-41.38zM1869.11 189.6h9.2v1.2h-9.2zM1676 190.8h4.6v1.2h-4.6zM1694.39 190.8h27.59v1.2h-27.59zM1726.58 190.8h50.58v1.2h-50.58zM1790.94 190.8h22.99v1.2h-22.99zM1823.13 190.8h22.99v1.2h-22.99zM1855.31 190.8h27.59v1.2h-27.59zM1676 192h4.6v1.2h-4.6zM1694.39 192h27.59v1.2h-27.59zM1726.58 192h50.58v1.2h-50.58zM1790.94 192h22.99v1.2h-22.99zM1823.13 192h22.99v1.2h-22.99zM1855.31 192h27.59v1.2h-27.59zM1676 193.2h4.6v1.2h-4.6zM1685.2 193.2h36.78v1.2h-36.78zM1726.58 193.2h32.18v1.2h-32.18zM1763.36 193.2h36.78v1.2h-36.78zM1823.13 193.2h22.99v1.2h-22.99zM1859.91 193.2h22.99v1.2h-22.99zM1676 194.4h4.6v1.2h-4.6zM1685.2 194.4h4.6v1.2h-4.6zM1712.78 194.4h9.2v1.2h-9.2zM1726.58 194.4h13.79v1.2h-13.79zM1754.16 194.4h22.99v1.2h-22.99zM1790.94 194.4h22.99v1.2h-22.99zM1818.53 194.4h4.6v1.2h-4.6zM1827.73 194.4h4.6v1.2h-4.6zM1846.12 194.4h22.99v1.2h-22.99zM1878.3 194.4h4.6v1.2h-4.6zM1676 195.6h4.6v1.2h-4.6zM1685.2 195.6h4.6v1.2h-4.6zM1712.78 195.6h9.2v1.2h-9.2zM1726.58 195.6h13.79v1.2h-13.79zM1754.16 195.6h22.99v1.2h-22.99zM1790.94 195.6h22.99v1.2h-22.99zM1818.53 195.6h4.6v1.2h-4.6zM1827.73 195.6h4.6v1.2h-4.6zM1846.12 195.6h22.99v1.2h-22.99zM1878.3 195.6h4.6v1.2h-4.6zM1676 196.8h4.6v1.2h-4.6zM1685.2 196.8h4.6v1.2h-4.6zM1712.78 196.8h9.2v1.2h-9.2zM1726.58 196.8h13.79v1.2h-13.79zM1754.16 196.8h22.99v1.2h-22.99zM1790.94 196.8h22.99v1.2h-22.99zM1818.53 196.8h4.6v1.2h-4.6zM1827.73 196.8h4.6v1.2h-4.6zM1846.12 196.8h22.99v1.2h-22.99zM1878.3 196.8h4.6v1.2h-4.6zM1676 198h4.6v1.2h-4.6zM1685.2 198h4.6v1.2h-4.6zM1721.98 198h4.6v1.2h-4.6zM1740.37 198h4.6v1.2h-4.6zM1758.76 198h4.6v1.2h-4.6zM1818.53 198h4.6v1.2h-4.6zM1836.92 198h4.6v1.2h-4.6zM1846.12 198h13.79v1.2h-13.79zM1878.3 198h4.6v1.2h-4.6zM1676 199.2h9.2v1.2h-9.2zM1740.37 199.2h4.6v1.2h-4.6zM1749.56 199.2h9.2v1.2h-9.2zM1763.36 199.2h50.58v1.2h-50.58zM1823.13 199.2h22.99v1.2h-22.99zM1855.31 199.2h9.2v1.2h-9.2zM1676 200.4h9.2v1.2h-9.2zM1740.37 200.4h4.6v1.2h-4.6zM1749.56 200.4h9.2v1.2h-9.2zM1763.36 200.4h50.58v1.2h-50.58zM1823.13 200.4h22.99v1.2h-22.99zM1855.31 200.4h9.2v1.2h-9.2zM1676 201.6h4.6v1.2h-4.6zM1689.79 201.6h4.6v1.2h-4.6zM1717.38 201.6h4.6v1.2h-4.6zM1731.17 201.6h9.2v1.2h-9.2zM1754.16 201.6h4.6v1.2h-4.6zM1763.36 201.6h13.79v1.2h-13.79zM1790.94 201.6h13.79v1.2h-13.79zM1818.53 201.6h13.79v1.2h-13.79zM1846.12 201.6h9.2v1.2h-9.2zM1878.3 201.6h4.6v1.2h-4.6zM1676 202.8h4.6v1.2h-4.6zM1685.2 202.8h4.6v1.2h-4.6zM1721.98 202.8h4.6v1.2h-4.6zM1740.37 202.8h18.39v1.2h-18.39zM1763.36 202.8h18.39v1.2h-18.39zM1786.35 202.8h9.2v1.2h-9.2zM1809.34 202.8h9.2v1.2h-9.2zM1832.32 202.8h27.59v1.2h-27.59zM1878.3 202.8h4.6v1.2h-4.6zM1676 204h4.6v1.2h-4.6zM1685.2 204h4.6v1.2h-4.6zM1721.98 204h4.6v1.2h-4.6zM1740.37 204h18.39v1.2h-18.39zM1763.36 204h18.39v1.2h-18.39zM1786.35 204h9.2v1.2h-9.2zM1809.34 204h9.2v1.2h-9.2zM1832.32 204h27.59v1.2h-27.59zM1878.3 204h4.6v1.2h-4.6zM1676 205.2h9.2v1.2h-9.2zM1712.78 205.2h9.2v1.2h-9.2zM1726.58 205.2h27.59v1.2h-27.59zM1758.76 205.2h13.79v1.2h-13.79zM1790.94 205.2h4.6v1.2h-4.6zM1800.14 205.2h13.79v1.2h-13.79zM1832.32 205.2h13.79v1.2h-13.79zM1850.72 205.2h4.6v1.2h-4.6zM1859.91 205.2h4.6v1.2h-4.6zM1676 206.4h9.2v1.2h-9.2zM1712.78 206.4h9.2v1.2h-9.2zM1726.58 206.4h27.59v1.2h-27.59zM1758.76 206.4h13.79v1.2h-13.79zM1790.94 206.4h4.6v1.2h-4.6zM1800.14 206.4h13.79v1.2h-13.79zM1832.32 206.4h13.79v1.2h-13.79zM1850.72 206.4h4.6v1.2h-4.6zM1859.91 206.4h4.6v1.2h-4.6zM1676 207.6h4.6v1.2h-4.6zM1694.39 207.6h4.6v1.2h-4.6zM1717.38 207.6h4.6v1.2h-4.6zM1740.37 207.6h13.79v1.2h-13.79zM1758.76 207.6h4.6v1.2h-4.6zM1767.96 207.6h22.99v1.2h-22.99zM1846.12 207.6h9.2v1.2h-9.2zM1878.3 207.6h4.6v1.2h-4.6zM1676 208.8h4.6v1.2h-4.6zM1685.2 208.8h4.6v1.2h-4.6zM1717.38 208.8h4.6v1.2h-4.6zM1726.58 208.8h13.79v1.2h-13.79zM1832.32 208.8h22.99v1.2h-22.99zM1878.3 208.8h4.6v1.2h-4.6zM1685.2 210h4.6v1.2h-4.6zM1717.38 210h4.6v1.2h-4.6zM1740.37 210h18.39v1.2h-18.39zM1767.96 210h4.6v1.2h-4.6zM1813.93 210h4.6v1.2h-4.6zM1823.13 210h4.6v1.2h-4.6zM1836.92 210h4.6v1.2h-4.6zM1864.51 210h4.6v1.2h-4.6zM1676 211.2h13.79v1.2h-13.79zM1694.39 211.2h4.6v1.2h-4.6zM1708.18 211.2h4.6v1.2h-4.6zM1717.38 211.2h4.6v1.2h-4.6zM1726.58 211.2h27.59v1.2h-27.59zM1813.93 211.2h4.6v1.2h-4.6zM1823.13 211.2h9.2v1.2h-9.2zM1859.91 211.2h9.2v1.2h-9.2zM1873.7 211.2h9.2v1.2h-9.2zM1676 212.4h13.79v1.2h-13.79zM1712.78 212.4h4.6v1.2h-4.6zM1726.58 212.4h27.59v1.2h-27.59zM1763.36 212.4h27.59v1.2h-27.59zM1795.54 212.4h4.6v1.2h-4.6zM1804.74 212.4h13.79v1.2h-13.79zM1823.13 212.4h55.17v1.2h-55.17zM1676 213.6h9.2v1.2h-9.2zM1689.79 213.6h22.99v1.2h-22.99zM1717.38 213.6h27.59v1.2h-27.59zM1749.56 213.6h9.2v1.2h-9.2zM1767.96 213.6h4.6v1.2h-4.6zM1777.15 213.6h22.99v1.2h-22.99zM1823.13 213.6h22.99v1.2h-22.99zM1873.7 213.6h4.6v1.2h-4.6zM1676 214.8h9.2v1.2h-9.2zM1689.79 214.8h22.99v1.2h-22.99zM1717.38 214.8h27.59v1.2h-27.59zM1749.56 214.8h9.2v1.2h-9.2zM1767.96 214.8h4.6v1.2h-4.6zM1777.15 214.8h22.99v1.2h-22.99zM1823.13 214.8h22.99v1.2h-22.99zM1873.7 214.8h4.6v1.2h-4.6zM1685.2 216h27.59v1.2h-27.59zM1717.38 216h4.6v1.2h-4.6zM1740.37 216h9.2v1.2h-9.2zM1754.16 216h4.6v1.2h-4.6zM1777.15 216h4.6v1.2h-4.6zM1790.94 216h32.18v1.2h-32.18zM1869.11 216h4.6v1.2h-4.6zM1685.2 217.2h27.59v1.2h-27.59zM1717.38 217.2h4.6v1.2h-4.6zM1740.37 217.2h9.2v1.2h-9.2zM1754.16 217.2h4.6v1.2h-4.6zM1777.15 217.2h4.6v1.2h-4.6zM1790.94 217.2h32.18v1.2h-32.18zM1869.11 217.2h4.6v1.2h-4.6zM1676 218.4h13.79v1.2h-13.79zM1712.78 218.4h41.38v1.2h-41.38zM1763.36 218.4h13.79v1.2h-13.79zM1781.75 218.4h4.6v1.2h-4.6zM1790.94 218.4h9.2v1.2h-9.2zM1804.74 218.4h18.39v1.2h-18.39zM1832.32 218.4h50.58v1.2h-50.58zM1676 219.6h4.6v1.2h-4.6zM1717.38 219.6h9.2v1.2h-9.2zM1763.36 219.6h13.79v1.2h-13.79zM1790.94 219.6h9.2v1.2h-9.2zM1813.93 219.6h4.6v1.2h-4.6zM1832.32 219.6h9.2v1.2h-9.2zM1859.91 219.6h18.39v1.2h-18.39zM1676 220.8h4.6v1.2h-4.6zM1717.38 220.8h9.2v1.2h-9.2zM1763.36 220.8h13.79v1.2h-13.79zM1790.94 220.8h9.2v1.2h-9.2zM1813.93 220.8h4.6v1.2h-4.6zM1832.32 220.8h9.2v1.2h-9.2zM1859.91 220.8h18.39v1.2h-18.39zM1676 222h9.2v1.2h-9.2zM1689.79 222h68.97v1.2h-68.97zM1767.96 222h4.6v1.2h-4.6zM1777.15 222h4.6v1.2h-4.6zM1813.93 222h4.6v1.2h-4.6zM1823.13 222h32.18v1.2h-32.18zM1859.91 222h9.2v1.2h-9.2zM1878.3 222h4.6v1.2h-4.6zM1676 223.2h4.6v1.2h-4.6zM1712.78 223.2h4.6v1.2h-4.6zM1721.98 223.2h13.79v1.2h-13.79zM1740.37 223.2h9.2v1.2h-9.2zM1754.16 223.2h45.98v1.2h-45.98zM1804.74 223.2h4.6v1.2h-4.6zM1813.93 223.2h18.39v1.2h-18.39zM1855.31 223.2h4.6v1.2h-4.6zM1869.11 223.2h9.2v1.2h-9.2zM1680.6 224.4h41.38v1.2h-41.38zM1726.58 224.4h4.6v1.2h-4.6zM1735.77 224.4h64.37v1.2h-64.37zM1813.93 224.4h4.6v1.2h-4.6zM1827.73 224.4h27.59v1.2h-27.59zM1859.91 224.4h18.39v1.2h-18.39zM1680.6 225.6h41.38v1.2h-41.38zM1726.58 225.6h4.6v1.2h-4.6zM1735.77 225.6h64.37v1.2h-64.37zM1813.93 225.6h4.6v1.2h-4.6zM1827.73 225.6h27.59v1.2h-27.59zM1859.91 225.6h18.39v1.2h-18.39zM1676 226.8h4.6v1.2h-4.6zM1685.2 226.8h4.6v1.2h-4.6zM1712.78 226.8h45.98v1.2h-45.98zM1790.94 226.8h22.99v1.2h-22.99zM1855.31 226.8h13.79v1.2h-13.79zM1685.2 228h4.6v0.8h-4.6zM1712.78 228h9.2v0.8h-9.2zM1740.37 228h4.6v0.8h-4.6zM1763.36 228h13.79v0.8h-13.79zM1813.93 228h32.18v0.8h-32.18zM1869.11 228h9.2v0.8h-9.2zM1676 228.8h36.78v1.2h-36.78zM1717.38 228.8h4.6v1.2h-4.6zM1726.58 228.8h27.59v1.2h-27.59zM1777.15 228.8h78.16v1.2h-78.16zM1859.91 228.8h22.99v1.2h-22.99zM1676 230h36.78v1.2h-36.78zM1726.58 230h22.99v1.2h-22.99zM1758.76 230h9.2v1.2h-9.2zM1790.94 230h45.98v1.2h-45.98zM1846.12 230h9.2v1.2h-9.2zM1864.51 230h18.39v1.2h-18.39zM1676 231.2h36.78v1.2h-36.78zM1731.17 231.2h22.99v1.2h-22.99zM1763.36 231.2h4.6v1.2h-4.6zM1777.15 231.2h78.16v1.2h-78.16zM1859.91 231.2h22.99v1.2h-22.99zM1676 232.4h36.78v1.2h-36.78zM1717.38 232.4h4.6v1.2h-4.6zM1731.17 232.4h22.99v1.2h-22.99zM1777.15 232.4h78.16v1.2h-78.16zM1864.51 232.4h13.79v1.2h-13.79zM1676 233.6h36.78v1.2h-36.78zM1740.37 233.6h13.79v1.2h-13.79zM1795.54 233.6h59.77v1.2h-59.77zM1864.51 233.6h18.39v1.2h-18.39zM1680.6 234.8h32.18v1.2h-32.18zM1735.77 234.8h18.39v1.2h-18.39zM1781.75 234.8h73.56v1.2h-73.56zM1859.91 234.8h22.99v1.2h-22.99zM1676 236h36.78v1.2h-36.78zM1717.38 236h4.6v1.2h-4.6zM1726.58 236h22.99v1.2h-22.99zM1790.94 236h36.78v1.2h-36.78zM1832.32 236h9.2v1.2h-9.2zM1869.11 236h9.2v1.2h-9.2zM1676 237.2h27.59v1.2h-27.59zM1717.38 237.2h4.6v1.2h-4.6zM1726.58 237.2h27.59v1.2h-27.59zM1758.76 237.2h9.2v1.2h-9.2zM1800.14 237.2h13.79v1.2h-13.79zM1818.53 237.2h36.78v1.2h-36.78zM1873.7 237.2h9.2v1.2h-9.2zM1676 238.4h36.78v1.2h-36.78zM1717.38 238.4h4.6v1.2h-4.6zM1731.17 238.4h22.99v1.2h-22.99zM1763.36 238.4h4.6v1.2h-4.6zM1786.35 238.4h68.97v1.2h-68.97zM1869.11 238.4h13.79v1.2h-13.79zM1676 239.6h36.78v1.2h-36.78zM1735.77 239.6h18.39v1.2h-18.39zM1763.36 239.6h4.6v1.2h-4.6zM1777.15 239.6h78.16v1.2h-78.16zM1878.3 239.6h4.6v1.2h-4.6zM1676 240.8h36.78v1.2h-36.78zM1731.17 240.8h9.2v1.2h-9.2zM1744.97 240.8h9.2v1.2h-9.2zM1758.76 240.8h9.2v1.2h-9.2zM1777.15 240.8h13.79v1.2h-13.79zM1804.74 240.8h50.58v1.2h-50.58zM1859.91 240.8h22.99v1.2h-22.99zM1676 242h36.78v1.2h-36.78zM1717.38 242h4.6v1.2h-4.6zM1726.58 242h27.59v1.2h-27.59zM1763.36 242h4.6v1.2h-4.6zM1786.35 242h68.97v1.2h-68.97zM1864.51 242h18.39v1.2h-18.39zM1676 243.2h36.78v1.2h-36.78zM1717.38 243.2h4.6v1.2h-4.6zM1726.58 243.2h27.59v1.2h-27.59zM1758.76 243.2h9.2v1.2h-9.2zM1777.15 243.2h59.77v1.2h-59.77zM1676 244.4h36.78v1.2h-36.78zM1735.77 244.4h18.39v1.2h-18.39zM1763.36 244.4h4.6v1.2h-4.6zM1777.15 244.4h78.16v1.2h-78.16zM1869.11 244.4h13.79v1.2h-13.79zM1676 245.6h36.78v1.2h-36.78zM1726.58 245.6h27.59v1.2h-27.59zM1758.76 245.6h9.2v1.2h-9.2zM1777.15 245.6h78.16v1.2h-78.16zM1869.11 245.6h13.79v1.2h-13.79zM1676 246.8h36.78v1.2h-36.78zM1726.58 246.8h27.59v1.2h-27.59zM1781.75 246.8h73.56v1.2h-73.56zM1859.91 246.8h22.99v1.2h-22.99zM1676 248h13.79v1.2h-13.79zM1694.39 248h4.6v1.2h-4.6zM1708.18 248h4.6v1.2h-4.6zM1740.37 248h13.79v1.2h-13.79zM1758.76 248h9.2v1.2h-9.2zM1781.75 248h73.56v1.2h-73.56zM1873.7 248h9.2v1.2h-9.2zM1676 249.2h36.78v1.2h-36.78zM1726.58 249.2h27.59v1.2h-27.59zM1763.36 249.2h4.6v1.2h-4.6zM1809.34 249.2h45.98v1.2h-45.98zM1878.3 249.2h4.6v1.2h-4.6zM1676 250.4h36.78v1.2h-36.78zM1726.58 250.4h27.59v1.2h-27.59zM1758.76 250.4h9.2v1.2h-9.2zM1781.75 250.4h73.56v1.2h-73.56zM1869.11 250.4h13.79v1.2h-13.79zM1676 251.6h36.78v1.2h-36.78zM1726.58 251.6h27.59v1.2h-27.59zM1763.36 251.6h4.6v1.2h-4.6zM1781.75 251.6h13.79v1.2h-13.79zM1813.93 251.6h36.78v1.2h-36.78zM1859.91 251.6h22.99v1.2h-22.99zM1676 252.8h36.78v1.2h-36.78zM1726.58 252.8h27.59v1.2h-27.59zM1804.74 252.8h50.58v1.2h-50.58zM1864.51 252.8h18.39v1.2h-18.39zM1676 254h36.78v1.2h-36.78zM1726.58 254h27.59v1.2h-27.59zM1758.76 254h9.2v1.2h-9.2zM1777.15 254h78.16v1.2h-78.16zM1859.91 254h4.6v1.2h-4.6zM1869.11 254h13.79v1.2h-13.79zM1676 255.2h36.78v1.2h-36.78zM1717.38 255.2h4.6v1.2h-4.6zM1731.17 255.2h22.99v1.2h-22.99zM1763.36 255.2h4.6v1.2h-4.6zM1777.15 255.2h41.38v1.2h-41.38zM1827.73 255.2h27.59v1.2h-27.59zM1676 256.4h36.78v1.2h-36.78zM1717.38 256.4h4.6v1.2h-4.6zM1735.77 256.4h18.39v1.2h-18.39zM1763.36 256.4h4.6v1.2h-4.6zM1777.15 256.4h78.16v1.2h-78.16zM1859.91 256.4h22.99v1.2h-22.99zM1676 257.6h36.78v1.2h-36.78zM1717.38 257.6h4.6v1.2h-4.6zM1749.56 257.6h4.6v1.2h-4.6zM1763.36 257.6h4.6v1.2h-4.6zM1777.15 257.6h64.37v1.2h-64.37zM1850.72 257.6h4.6v1.2h-4.6zM1859.91 257.6h22.99v1.2h-22.99zM1676 258.8h36.78v1.2h-36.78zM1726.58 258.8h27.59v1.2h-27.59zM1758.76 258.8h9.2v1.2h-9.2zM1777.15 258.8h78.16v1.2h-78.16zM1864.51 258.8h18.39v1.2h-18.39zM1676 260h36.78v1.2h-36.78zM1717.38 260h4.6v1.2h-4.6zM1726.58 260h27.59v1.2h-27.59zM1777.15 260h27.59v1.2h-27.59zM1818.53 260h36.78v1.2h-36.78zM1873.7 260h4.6v1.2h-4.6zM1676 261.2h36.78v1.2h-36.78zM1749.56 261.2h4.6v1.2h-4.6zM1758.76 261.2h4.6v1.2h-4.6zM1777.15 261.2h59.77v1.2h-59.77zM1841.52 261.2h4.6v1.2h-4.6zM1850.72 261.2h4.6v1.2h-4.6zM1864.51 261.2h13.79v1.2h-13.79zM1680.6 262.4h32.18v1.2h-32.18zM1731.17 262.4h22.99v1.2h-22.99zM1758.76 262.4h9.2v1.2h-9.2zM1786.35 262.4h68.97v1.2h-68.97zM1864.51 262.4h18.39v1.2h-18.39zM1676 263.6h36.78v1.2h-36.78zM1735.77 263.6h18.39v1.2h-18.39zM1763.36 263.6h4.6v1.2h-4.6zM1777.15 263.6h41.38v1.2h-41.38zM1827.73 263.6h27.59v1.2h-27.59zM1864.51 263.6h9.2v1.2h-9.2zM1878.3 263.6h4.6v1.2h-4.6zM1676 264.8h36.78v1.2h-36.78zM1717.38 264.8h4.6v1.2h-4.6zM1735.77 264.8h18.39v1.2h-18.39zM1781.75 264.8h18.39v1.2h-18.39zM1809.34 264.8h45.98v1.2h-45.98zM1869.11 264.8h9.2v1.2h-9.2zM1676 266h36.78v0.7h-36.78zM1744.97 266h9.2v0.7h-9.2zM1800.14 266h4.6v0.7h-4.6zM1809.34 266h45.98v0.7h-45.98zM1869.11 266h13.79v0.7h-13.79zM1676 294.3h142.53v1.2h-142.53zM1823.13 294.3h27.59v1.2h-27.59zM1855.31 294.3h27.59v1.2h-27.59zM1676 295.5h206.9v1.2h-206.9zM1685.2 296.7h82.76v1.2h-82.76zM1772.55 296.7h110.35v1.2h-110.35zM1676 297.9h206.9v1.2h-206.9zM1676 299.1h68.97v1.2h-68.97zM1767.96 299.1h45.98v1.2h-45.98zM1827.73 299.1h55.17v1.2h-55.17zM1676 300.3h206.9v1.2h-206.9zM1676 301.5h206.9v1.2h-206.9zM1676 302.7h206.9v1.2h-206.9zM1676 303.9h87.36v1.2h-87.36zM1767.96 303.9h45.98v1.2h-45.98zM1818.53 303.9h64.37v1.2h-64.37zM1676 305.1h68.97v1.2h-68.97zM1772.55 305.1h50.58v1.2h-50.58zM1832.32 305.1h50.58v1.2h-50.58zM1676 306.3h4.6v1.2h-4.6zM1694.39 306.3h91.96v1.2h-91.96zM1790.94 306.3h4.6v1.2h-4.6zM1818.53 306.3h36.78v1.2h-36.78zM1859.91 306.3h22.99v1.2h-22.99zM1676 307.5h142.53v1.2h-142.53zM1832.32 307.5h50.58v1.2h-50.58zM1676 308.7h78.16v1.2h-78.16zM1758.76 308.7h124.14v1.2h-124.14zM1676 309.9h206.9v1.2h-206.9zM1676 311.1h206.9v1.2h-206.9zM1676 312.3h206.9v1.2h-206.9zM1676 313.5h114.94v1.2h-114.94zM1804.74 313.5h78.16v1.2h-78.16zM1676 314.7h32.18v1.2h-32.18zM1712.78 314.7h82.76v1.2h-82.76zM1800.14 314.7h82.76v1.2h-82.76zM1676 315.9h68.97v1.2h-68.97zM1754.16 315.9h45.98v1.2h-45.98zM1813.93 315.9h68.97v1.2h-68.97zM1676 317.1h147.13v1.2h-147.13zM1832.32 317.1h50.58v1.2h-50.58zM1676 318.3h206.9v1.2h-206.9zM1676 319.5h206.9v1.2h-206.9zM1676 320.7h36.78v1.2h-36.78zM1726.58 320.7h114.94v1.2h-114.94zM1846.12 320.7h13.79v1.2h-13.79zM1864.51 320.7h18.39v1.2h-18.39zM1676 321.9h206.9v1.2h-206.9zM1676 323.1h142.53v1.2h-142.53zM1823.13 323.1h22.99v1.2h-22.99zM1850.72 323.1h32.18v1.2h-32.18zM1676 324.3h110.35v1.2h-110.35zM1800.14 324.3h13.79v1.2h-13.79zM1818.53 324.3h64.37v1.2h-64.37zM1676 325.5h68.97v1.2h-68.97zM1772.55 325.5h110.35v1.2h-110.35zM1676 326.7h206.9v1.2h-206.9zM1676 327.9h59.77v1.2h-59.77zM1740.37 327.9h142.53v1.2h-142.53zM1676 329.1h110.35v1.2h-110.35zM1809.34 329.1h73.56v1.2h-73.56zM1676 330.3h174.72v1.2h-174.72zM1869.11 330.3h13.79v1.2h-13.79zM1676 331.5h206.9v1.2h-206.9zM1676 332.7h193.11v1.2h-193.11zM1873.7 332.7h9.2v1.2h-9.2zM1676 333.9h206.9v1.2h-206.9zM1676 335.1h64.37v1.2h-64.37zM1744.97 335.1h137.93v1.2h-137.93zM1676 336.3h206.9v1.2h-206.9zM1676 337.5h206.9v1.2h-206.9zM1676 338.7h91.96v1.2h-91.96zM1772.55 338.7h110.35v1.2h-110.35zM1676 339.9h133.34v1.2h-133.34zM1823.13 339.9h59.77v1.2h-59.77zM1676 341.1h101.15v0.7h-101.15zM1781.75 341.1h101.15v0.7h-101.15zM1680.6 341.8h27.59v1.2h-27.59zM1869.11 341.8h4.6v1.2h-4.6zM1689.79 343h9.2v1.2h-9.2zM1703.59 343h22.99v1.2h-22.99zM1772.55 343h4.6v1.2h-4.6zM1813.93 343h18.39v1.2h-18.39zM1836.92 343h18.39v1.2h-18.39zM1689.79 344.2h32.18v1.2h-32.18zM1754.16 344.2h4.6v1.2h-4.6zM1781.75 344.2h32.18v1.2h-32.18zM1832.32 344.2h50.58v1.2h-50.58zM1703.59 345.4h4.6v1.2h-4.6zM1721.98 345.4h4.6v1.2h-4.6zM1781.75 345.4h18.39v1.2h-18.39zM1850.72 345.4h9.2v1.2h-9.2zM1864.51 345.4h13.79v1.2h-13.79zM1850.72 346.6h4.6v1.2h-4.6zM1721.98 347.8h18.39v1.2h-18.39zM1758.76 347.8h27.59v1.2h-27.59zM1795.54 347.8h4.6v1.2h-4.6zM1676 349h27.59v1.2h-27.59zM1708.18 349h4.6v1.2h-4.6zM1721.98 349h55.17v1.2h-55.17zM1832.32 349h4.6v1.2h-4.6zM1841.52 349h22.99v1.2h-22.99zM1878.3 349h4.6v1.2h-4.6zM1708.18 350.2h9.2v1.2h-9.2zM1731.17 350.2h4.6v1.2h-4.6zM1758.76 350.2h41.38v1.2h-41.38zM1804.74 350.2h4.6v1.2h-4.6zM1813.93 350.2h68.97v1.2h-68.97zM1680.6 351.4h18.39v1.2h-18.39zM1703.59 351.4h9.2v1.2h-9.2zM1740.37 351.4h4.6v1.2h-4.6zM1754.16 351.4h55.17v1.2h-55.17zM1694.39 352.6h18.39v1.2h-18.39zM1744.97 352.6h4.6v1.2h-4.6zM1758.76 352.6h18.39v1.2h-18.39zM1786.35 352.6h4.6v1.2h-4.6zM1804.74 352.6h13.79v1.2h-13.79zM1823.13 352.6h4.6v1.2h-4.6zM1832.32 352.6h13.79v1.2h-13.79zM1859.91 352.6h13.79v1.2h-13.79zM1676 353.8h9.2v1.2h-9.2zM1689.79 353.8h41.38v1.2h-41.38zM1754.16 353.8h64.37v1.2h-64.37zM1836.92 353.8h9.2v1.2h-9.2zM1859.91 353.8h9.2v1.2h-9.2zM1878.3 353.8h4.6v1.2h-4.6zM1676 355h4.6v1.2h-4.6zM1726.58 355h18.39v1.2h-18.39zM1763.36 355h18.39v1.2h-18.39zM1786.35 355h9.2v1.2h-9.2zM1804.74 355h27.59v1.2h-27.59zM1846.12 355h27.59v1.2h-27.59zM1676 356.2h4.6v1.2h-4.6zM1749.56 356.2h22.99v1.2h-22.99zM1781.75 356.2h4.6v1.2h-4.6zM1795.54 356.2h18.39v1.2h-18.39zM1836.92 356.2h4.6v1.2h-4.6zM1859.91 356.2h22.99v1.2h-22.99zM1676 357.4h13.79v0.4h-13.79zM1767.96 357.4h9.2v0.4h-9.2zM1786.35 357.4h9.2v0.4h-9.2zM1869.11 357.4h13.79v0.4h-13.79zM1703.59 369h13.79v1.2h-13.79zM1735.77 369h18.39v1.2h-18.39zM1786.35 369h4.6v1.2h-4.6zM1809.34 369h9.2v1.2h-9.2zM1846.12 369h22.99v1.2h-22.99zM1676 370.2h4.6v1.2h-4.6zM1685.2 370.2h4.6v1.2h-4.6zM1744.97 370.2h4.6v1.2h-4.6zM1754.16 370.2h32.18v1.2h-32.18zM1790.94 370.2h4.6v1.2h-4.6zM1804.74 370.2h4.6v1.2h-4.6zM1823.13 370.2h9.2v1.2h-9.2zM1846.12 370.2h18.39v1.2h-18.39zM1869.11 370.2h4.6v1.2h-4.6zM1878.3 370.2h4.6v1.2h-4.6zM1676 371.4h13.79v1.2h-13.79zM1749.56 371.4h13.79v1.2h-13.79zM1878.3 371.4h4.6v1.2h-4.6zM1749.56 372.6h4.6v0.2h-4.6zM1781.75 372.6h55.17v0.2h-55.17zM1846.12 372.6h4.6v0.2h-4.6zM1680.6 363.2h4.6v1.2h-4.6zM1698.99 363.2h36.78v1.2h-36.78zM1744.97 363.2h18.39v1.2h-18.39zM1800.14 363.2h82.76v1.2h-82.76zM1676 364.4h4.6v0.4h-4.6zM1708.18 364.4h4.6v0.4h-4.6zM1740.37 364.4h9.2v0.4h-9.2zM1758.76 364.4h22.99v0.4h-22.99zM1790.94 364.4h22.99v0.4h-22.99zM1859.91 364.4h13.79v0.4h-13.79zM1676 359.4h9.2v1.1h-9.2zM1694.39 375h32.18v1.2h-32.18zM1878.3 375h4.6v1.2h-4.6zM1685.2 376.2h4.6v1.2h-4.6zM1744.97 376.2h4.6v1.2h-4.6zM1827.73 376.2h4.6v1.2h-4.6zM1873.7 376.2h9.2v1.2h-9.2zM1694.39 377.4h41.38v1.2h-41.38zM1763.36 377.4h4.6v1.2h-4.6zM1676 378.6h9.2v1.2h-9.2zM1689.79 378.6h4.6v1.2h-4.6zM1754.16 378.6h27.59v1.2h-27.59zM1813.93 378.6h18.39v1.2h-18.39zM1855.31 378.6h27.59v1.2h-27.59zM1841.52 379.8h4.6v1.2h-4.6zM1676 381h9.2v1.2h-9.2zM1749.56 381h4.6v1.2h-4.6zM1767.96 381h4.6v1.2h-4.6zM1832.32 381h18.39v1.2h-18.39zM1873.7 381h9.2v1.2h-9.2zM1676 382.2h9.2v0.2h-9.2zM1744.97 382.2h9.2v0.2h-9.2zM1689.79 382.4h4.6v1.2h-4.6zM1763.36 382.4h9.2v1.2h-9.2zM1712.78 383.6h13.79v1.2h-13.79zM1763.36 383.6h9.2v1.2h-9.2zM1676 384.8h4.6v1.2h-4.6zM1685.2 384.8h18.39v1.2h-18.39zM1827.73 384.8h9.2v1.2h-9.2zM1869.11 384.8h9.2v1.2h-9.2zM1698.99 386h18.39v1.2h-18.39zM1809.34 386h18.39v1.2h-18.39zM1850.72 386h27.59v1.2h-27.59zM1744.97 387.2h13.79v1.2h-13.79zM1869.11 387.2h4.6v1.2h-4.6zM1676 388.4h9.2v1.2h-9.2zM1712.78 388.4h18.39v1.2h-18.39zM1735.77 388.4h9.2v1.2h-9.2zM1763.36 388.4h32.18v1.2h-32.18zM1698.99 389.6h4.6v1.2h-4.6zM1767.96 389.6h4.6v1.2h-4.6zM1790.94 389.6h4.6v1.2h-4.6zM1850.72 389.6h9.2v1.2h-9.2zM1754.16 390.8h22.99v1.2h-22.99zM1855.31 390.8h9.2v1.2h-9.2zM1763.36 392h4.6v1.2h-4.6zM1777.15 393.2h4.6v1.2h-4.6zM1823.13 393.2h18.39v1.2h-18.39zM1754.16 394.4h13.79v1.2h-13.79zM1827.73 394.4h18.39v1.2h-18.39zM1680.6 396.8h13.79v1.2h-13.79zM1712.78 396.8h18.39v1.2h-18.39zM1827.73 396.8h9.2v1.2h-9.2zM1873.7 396.8h9.2v1.2h-9.2zM1763.36 398h4.6v1.2h-4.6zM1790.94 398h9.2v1.2h-9.2zM1749.56 400.4h4.6v1.2h-4.6zM1873.7 400.4h4.6v1.2h-4.6zM1818.53 401.6h9.2v1.2h-9.2zM1873.7 401.6h9.2v1.2h-9.2zM1846.12 402.8h4.6v1.2h-4.6zM1878.3 402.8h4.6v1.2h-4.6zM1676 404h4.6v1.2h-4.6zM1685.2 404h22.99v1.2h-22.99zM1767.96 404h13.79v1.2h-13.79zM1790.94 404h27.59v1.2h-27.59zM1827.73 404h9.2v1.2h-9.2zM1763.36 405.2h4.6v1.2h-4.6zM1869.11 405.2h13.79v1.2h-13.79zM1763.36 406.4h13.79v1.2h-13.79zM1726.58 407.6h4.6v1.2h-4.6zM1772.55 407.6h4.6v1.2h-4.6zM1763.36 408.8h41.38v1.2h-41.38zM1859.91 408.8h4.6v1.2h-4.6zM1800.14 410h4.6v1.2h-4.6zM1832.32 410h22.99v1.2h-22.99zM1744.97 411.2h22.99v1.2h-22.99zM1878.3 411.2h4.6v1.2h-4.6zM1676 412.4h13.79v1.2h-13.79zM1772.55 412.4h9.2v1.2h-9.2zM1676 413.6h4.6v1.2h-4.6zM1767.96 413.6h50.58v1.2h-50.58zM1712.78 414.8h13.79v1h-13.79zM1731.17 414.8h22.99v1h-22.99zM1836.92 414.8h4.6v1h-4.6zM1859.91 414.8h4.6v1h-4.6zM1676 529.09h13.79v1.2h-13.79zM1694.39 529.09h22.99v1.2h-22.99zM1726.58 529.09h18.39v1.2h-18.39zM1795.54 529.09h22.99v1.2h-22.99zM1864.51 529.09h4.6v1.2h-4.6zM1676 530.29h18.39v1.2h-18.39zM1703.59 530.29h41.38v1.2h-41.38zM1754.16 530.29h13.79v1.2h-13.79zM1832.32 530.29h9.2v1.2h-9.2zM1869.11 530.29h9.2v1.2h-9.2zM1676 531.49h9.2v1.2h-9.2zM1689.79 531.49h50.58v1.2h-50.58zM1790.94 531.49h9.2v1.2h-9.2zM1804.74 531.49h18.39v1.2h-18.39zM1827.73 531.49h4.6v1.2h-4.6zM1685.2 532.69h22.99v1.2h-22.99zM1721.98 532.69h18.39v1.2h-18.39zM1754.16 532.69h9.2v1.2h-9.2zM1772.55 532.69h13.79v1.2h-13.79zM1809.34 532.69h13.79v1.2h-13.79zM1827.73 532.69h22.99v1.2h-22.99zM1689.79 533.89h45.98v1.2h-45.98zM1758.76 533.89h4.6v1.2h-4.6zM1795.54 533.89h27.59v1.2h-27.59zM1855.31 533.89h4.6v1.2h-4.6zM1721.98 535.09h13.79v1.2h-13.79zM1749.56 535.09h4.6v1.2h-4.6zM1772.55 535.09h110.35v1.2h-110.35zM1698.99 536.29h4.6v1.2h-4.6zM1712.78 536.29h4.6v1.2h-4.6zM1721.98 536.29h18.39v1.2h-18.39zM1781.75 536.29h22.99v1.2h-22.99zM1813.93 536.29h9.2v1.2h-9.2zM1864.51 536.29h18.39v1.2h-18.39zM1676 537.49h36.78v1.2h-36.78zM1721.98 537.49h4.6v1.2h-4.6zM1754.16 537.49h9.2v1.2h-9.2zM1786.35 537.49h50.58v1.2h-50.58zM1855.31 537.49h13.79v1.2h-13.79zM1676 538.69h4.6v1.2h-4.6zM1685.2 538.69h59.77v1.2h-59.77zM1767.96 538.69h55.17v1.2h-55.17zM1832.32 538.69h9.2v1.2h-9.2zM1855.31 538.69h13.79v1.2h-13.79zM1873.7 538.69h9.2v1.2h-9.2zM1703.59 539.89h32.18v0.91h-32.18zM1767.96 539.89h13.79v0.91h-13.79zM1786.35 539.89h9.2v0.91h-9.2zM1813.93 539.89h9.2v0.91h-9.2zM1832.32 539.89h9.2v0.91h-9.2zM1850.72 539.89h32.18v0.91h-32.18z" fill="#b45223" shape-rendering="crispEdges"/>
<path d="M1229.35 422.2h9.22v1.2h-9.22zM1224.74 423.4h4.61v1.2h-4.61zM1524.38 433h4.61v1.2h-4.61zM1621.19 434.2h4.61v1.2h-4.61zM1150.98 439h4.61v1h-4.61zM1303.11 441.2h9.22v1.2h-9.22zM1132.54 442.4h4.61v1.2h-4.61zM1210.91 442.4h4.61v1.2h-4.61zM1243.18 442.4h4.61v1.2h-4.61zM1381.48 442.4h9.22v1.2h-9.22zM1639.63 442.4h4.61v1.2h-4.61zM1192.47 443.6h4.61v1.2h-4.61zM1233.96 443.6h4.61v1.2h-4.61zM1510.55 443.6h4.61v1.2h-4.61zM1372.26 444.8h4.61v1.2h-4.61zM1330.77 446h18.44v1.2h-18.44zM1584.31 446h9.22v1.2h-9.22zM1174.03 447.2h4.61v1.2h-4.61zM1284.67 447.2h9.22v1.2h-9.22zM1150.98 448.4h4.61v1.2h-4.61zM1252.4 448.4h18.44v1.2h-18.44zM1169.42 449.6h4.61v1.2h-4.61zM1187.86 449.6h13.83v1.2h-13.83zM1316.94 452h18.44v1.2h-18.44zM1422.96 452h4.61v1.2h-4.61zM1404.52 453.2h9.22v1.2h-9.22zM1238.57 455.6h4.61v0.4h-4.61zM1353.82 455.6h4.61v0.4h-4.61zM1132.54 456h18.44v1.2h-18.44zM1284.67 456h4.61v1.2h-4.61zM1339.99 456h9.22v1.2h-9.22zM1243.18 457.2h13.83v1.2h-13.83zM1312.33 457.2h9.22v1.2h-9.22zM1238.57 458.4h4.61v1.2h-4.61zM1335.38 458.4h13.83v1.2h-13.83zM1598.14 458.4h4.61v1.2h-4.61zM1197.08 459.6h32.27v1.2h-32.27zM1298.5 459.6h4.61v1.2h-4.61zM1501.33 459.6h13.83v1.2h-13.83zM1579.7 459.6h13.83v1.2h-13.83zM1238.57 460.8h9.22v1.2h-9.22zM1229.35 462h4.61v1.2h-4.61zM1280.06 462h9.22v1.2h-9.22zM1335.38 462h13.83v1.2h-13.83zM1538.21 462h4.61v1.2h-4.61zM1552.04 462h4.61v1.2h-4.61zM1192.47 463.2h4.61v1.2h-4.61zM1261.62 463.2h4.61v1.2h-4.61zM1427.57 463.2h13.83v1.2h-13.83zM1519.77 463.2h4.61v1.2h-4.61zM1127.93 464.4h9.22v1.2h-9.22zM1363.04 464.4h9.22v1.2h-9.22zM1496.72 464.4h4.61v1.2h-4.61zM1510.55 464.4h4.61v1.2h-4.61zM1160.2 465.6h4.61v1.2h-4.61zM1367.65 465.6h9.22v1.2h-9.22zM1528.99 465.6h9.22v1.2h-9.22zM1123.32 466.8h9.22v1.2h-9.22zM1616.58 466.8h4.61v1.2h-4.61zM1630.41 466.8h4.61v1.2h-4.61zM1174.03 468h9.22v1.2h-9.22zM1280.06 468h9.22v1.2h-9.22zM1399.91 468h9.22v1.2h-9.22zM1469.06 468h4.61v1.2h-4.61zM1482.89 468h13.83v1.2h-13.83zM1635.02 468h4.61v1.2h-4.61zM1339.99 469.2h13.83v1.2h-13.83zM1381.48 469.2h23.05v1.2h-23.05zM1528.99 469.2h4.61v1.2h-4.61zM1575.09 469.2h4.61v1.2h-4.61zM1155.59 470.4h4.61v1.2h-4.61zM1321.55 470.4h13.83v1.2h-13.83zM1510.55 470.4h4.61v1.2h-4.61zM1533.6 470.4h4.61v1.2h-4.61zM1192.47 471.6h4.61v1.2h-4.61zM1404.52 471.6h4.61v1.2h-4.61zM1432.18 471.6h4.61v1.2h-4.61zM1482.89 471.6h18.44v1.2h-18.44zM1542.82 471.6h4.61v1.2h-4.61zM1422.96 472.8h4.61v1.2h-4.61zM1524.38 472.8h4.61v1.2h-4.61zM1201.69 474h4.61v1.2h-4.61zM1270.84 474h4.61v1.2h-4.61zM1280.06 474h4.61v1.2h-4.61zM1293.89 474h9.22v1.2h-9.22zM1339.99 474h4.61v1.2h-4.61zM1496.72 474h4.61v1.2h-4.61zM1510.55 475.2h9.22v1.2h-9.22zM1344.6 476.4h4.61v1.2h-4.61zM1528.99 476.4h18.44v1.2h-18.44zM1155.59 477.6h4.61v1.2h-4.61zM1201.69 477.6h9.22v1.2h-9.22zM1303.11 477.6h4.61v1.2h-4.61zM1312.33 477.6h23.05v1.2h-23.05zM1367.65 477.6h4.61v1.2h-4.61zM1413.74 477.6h4.61v1.2h-4.61zM1482.89 477.6h13.83v1.2h-13.83zM1653.46 477.6h13.83v1.2h-13.83zM1169.42 478.8h4.61v1.2h-4.61zM1229.35 478.8h27.66v1.2h-27.66zM1114.1 480h13.83v1.2h-13.83zM1155.59 480h9.22v1.2h-9.22zM1192.47 481.2h4.61v1.2h-4.61zM1257.01 481.2h4.61v1.2h-4.61zM1386.09 481.2h4.61v1.2h-4.61zM1455.23 481.2h13.83v1.2h-13.83zM1625.8 481.2h23.05v1.2h-23.05zM1372.26 482.4h13.83v1.2h-13.83zM1561.26 482.4h9.22v1.2h-9.22zM1625.8 482.4h4.61v1.2h-4.61zM1174.03 483.6h27.66v1.2h-27.66zM1224.74 483.6h4.61v1.2h-4.61zM1280.06 483.6h9.22v1.2h-9.22zM1293.89 483.6h4.61v1.2h-4.61zM1339.99 483.6h4.61v1.2h-4.61zM1519.77 483.6h18.44v1.2h-18.44zM1141.76 486h4.61v1.2h-4.61zM1160.2 486h9.22v1.2h-9.22zM1630.41 486h4.61v1.2h-4.61zM1575.09 487.2h9.22v1.2h-9.22zM1187.86 488.4h9.22v1.2h-9.22zM1289.28 488.4h9.22v1.2h-9.22zM1146.37 489.6h4.61v1.2h-4.61zM1210.91 489.6h23.05v1.2h-23.05zM1270.84 489.6h13.83v1.2h-13.83zM1316.94 489.6h4.61v1.2h-4.61zM1510.55 489.6h9.22v1.2h-9.22zM1215.52 490.8h9.22v1.2h-9.22zM1339.99 490.8h4.61v1.2h-4.61zM1492.11 490.8h9.22v1.2h-9.22zM1630.41 490.8h4.61v1.2h-4.61zM1206.3 492h4.61v1.2h-4.61zM1238.57 492h18.44v1.2h-18.44zM1293.89 492h4.61v1.2h-4.61zM1492.11 492h13.83v1.2h-13.83zM1261.62 493.2h13.83v1.2h-13.83zM1427.57 493.2h4.61v1.2h-4.61zM1515.16 493.2h23.05v1.2h-23.05zM1579.7 493.2h4.61v1.2h-4.61zM1602.75 493.2h4.61v1.2h-4.61zM1298.5 494.4h13.83v1.2h-13.83zM1409.13 494.4h13.83v1.2h-13.83zM1123.32 495.6h13.83v1.2h-13.83zM1210.91 495.6h18.44v1.2h-18.44zM1243.18 495.6h4.61v1.2h-4.61zM1289.28 495.6h4.61v1.2h-4.61zM1326.16 495.6h13.83v1.2h-13.83zM1344.6 495.6h18.44v1.2h-18.44zM1538.21 495.6h9.22v1.2h-9.22zM1210.91 496.8h4.61v0.9h-4.61zM1409.13 496.8h9.22v0.9h-9.22zM1598.14 496.8h13.83v0.9h-13.83zM1114.1 505.8h73.76v1.2h-73.76zM1210.91 505.8h295.03v1.2h-295.03zM1519.77 505.8h50.71v1.2h-50.71zM1579.7 505.8h41.49v1.2h-41.49zM1658.07 505.8h13.83v1.2h-13.83zM1114.1 507h55.32v1.2h-55.32zM1174.03 507h32.27v1.2h-32.27zM1224.74 507h124.47v1.2h-124.47zM1353.82 507h318.08v1.2h-318.08zM1114.1 508.2h290.42v0.8h-290.42zM1413.74 508.2h69.15v0.8h-69.15zM1501.33 508.2h124.47v0.8h-124.47zM1653.46 508.2h18.44v0.8h-18.44zM1114.1 509h4.61v1.2h-4.61zM1238.57 509h27.66v1.2h-27.66zM1330.77 509h55.32v1.2h-55.32zM1413.74 509h4.61v1.2h-4.61zM1422.96 509h27.66v1.2h-27.66zM1464.45 509h18.44v1.2h-18.44zM1524.38 509h110.64v1.2h-110.64zM1639.63 509h27.66v1.2h-27.66zM1114.1 510.2h115.25v1.2h-115.25zM1247.79 510.2h124.47v1.2h-124.47zM1376.87 510.2h36.88v1.2h-36.88zM1432.18 510.2h4.61v1.2h-4.61zM1496.72 510.2h69.15v1.2h-69.15zM1588.92 510.2h27.66v1.2h-27.66zM1621.19 510.2h13.83v1.2h-13.83zM1639.63 510.2h32.27v1.2h-32.27zM1114.1 511.4h4.61v1.2h-4.61zM1146.37 511.4h4.61v1.2h-4.61zM1192.47 511.4h32.27v1.2h-32.27zM1229.35 511.4h18.44v1.2h-18.44zM1270.84 511.4h138.3v1.2h-138.3zM1427.57 511.4h36.88v1.2h-36.88zM1469.06 511.4h202.84v1.2h-202.84zM1114.1 512.6h101.42v0.2h-101.42zM1220.13 512.6h138.3v0.2h-138.3zM1363.04 512.6h308.86v0.2h-308.86zM1224.74 512.8h27.66v1.2h-27.66zM1422.96 512.8h87.59v1.2h-87.59zM1584.31 512.8h9.22v1.2h-9.22zM1422.96 514h4.61v1.2h-4.61zM1482.89 514h4.61v1.2h-4.61zM1114.1 515.2h4.61v1.2h-4.61zM1363.04 515.2h4.61v1.2h-4.61zM1482.89 515.2h36.88v1.2h-36.88zM1653.46 515.2h18.44v1.2h-18.44zM1243.18 516.4h23.05v1.2h-23.05zM1450.62 516.4h4.61v1.2h-4.61zM1169.42 517.6h4.61v1.2h-4.61zM1349.21 517.6h9.22v1.2h-9.22zM1446.01 517.6h4.61v1.2h-4.61zM1464.45 517.6h50.71v1.2h-50.71zM1662.68 517.6h9.22v1.2h-9.22zM1127.93 518.8h9.22v1.2h-9.22zM1353.82 518.8h4.61v1.2h-4.61zM1455.23 518.8h27.66v1.2h-27.66zM1561.26 518.8h13.83v1.2h-13.83zM1616.58 518.8h32.27v1.2h-32.27zM1114.1 520h9.22v1.2h-9.22zM1533.6 520h27.66v1.2h-27.66zM1570.48 520h9.22v1.2h-9.22zM1588.92 520h4.61v1.2h-4.61zM1611.97 520h9.22v1.2h-9.22zM1233.96 521.2h9.22v1.2h-9.22zM1404.52 521.2h4.61v1.2h-4.61zM1653.46 521.2h4.61v1.2h-4.61zM1432.18 522.4h32.27v1.2h-32.27zM1505.94 522.4h4.61v1.2h-4.61zM1547.43 522.4h27.66v1.2h-27.66zM1137.15 523.6h73.76v1.2h-73.76zM1390.7 523.6h23.05v1.2h-23.05zM1653.46 523.6h13.83v1.2h-13.83zM1275.45 524.8h18.44v1.2h-18.44zM1487.5 524.8h9.22v1.2h-9.22zM1418.35 526h18.44v1.2h-18.44zM1464.45 526h4.61v1.2h-4.61zM1538.21 526h4.61v1.2h-4.61zM1561.26 526h9.22v1.2h-9.22zM1616.58 526h41.49v1.2h-41.49zM1160.2 527.2h13.83v1.2h-13.83zM1243.18 527.2h27.66v1.2h-27.66zM1141.76 528.4h13.83v1.2h-13.83zM1215.52 528.4h13.83v1.2h-13.83zM1280.06 528.4h9.22v1.2h-9.22zM1381.48 528.4h18.44v1.2h-18.44zM1418.35 528.4h4.61v1.2h-4.61zM1621.19 528.4h9.22v1.2h-9.22zM1123.32 529.6h55.32v1.2h-55.32zM1243.18 529.6h4.61v1.2h-4.61zM1298.5 529.6h13.83v1.2h-13.83zM1326.16 529.6h9.22v1.2h-9.22zM1372.26 529.6h32.27v1.2h-32.27zM1427.57 529.6h13.83v1.2h-13.83zM1482.89 529.6h13.83v1.2h-13.83zM1625.8 529.6h13.83v1.2h-13.83zM1284.67 530.8h13.83v1.2h-13.83zM1316.94 530.8h9.22v1.2h-9.22zM1505.94 530.8h18.44v1.2h-18.44zM1584.31 532h32.27v1.2h-32.27zM1455.23 533.2h32.27v1.2h-32.27zM1201.69 534.4h36.88v1.2h-36.88zM1399.91 534.4h9.22v1.2h-9.22zM1635.02 534.4h9.22v1.2h-9.22zM1123.32 535.6h23.05v1.2h-23.05zM1270.84 535.6h23.05v1.2h-23.05zM1326.16 535.6h4.61v1.2h-4.61zM1473.67 535.6h4.61v1.2h-4.61zM1524.38 535.6h18.44v1.2h-18.44zM1150.98 536.8h13.83v1.2h-13.83zM1183.25 536.8h4.61v1.2h-4.61zM1372.26 536.8h4.61v1.2h-4.61zM1183.25 538h23.05v1.2h-23.05zM1298.5 538h4.61v1.2h-4.61zM1455.23 538h41.49v1.2h-41.49zM1266.23 539.2h9.22v1.2h-9.22zM1312.33 539.2h46.1v1.2h-46.1zM1436.79 539.2h36.88v1.2h-36.88zM1284.67 540.4h4.61v0.4h-4.61zM1432.18 540.4h23.05v0.4h-23.05zM1524.38 540.4h50.71v0.4h-50.71zM1593.53 540.4h13.83v0.4h-13.83zM1630.41 540.4h41.49v0.4h-41.49zM1233.96 521h55.32v1.2h-55.32zM1409.13 521h13.83v1.2h-13.83zM1510.55 521h4.61v1.2h-4.61zM1602.75 521h18.44v1.2h-18.44zM1653.46 521h9.22v1.2h-9.22zM1114.1 524.7h73.76v1.2h-73.76zM1210.91 524.7h55.32v1.2h-55.32zM1312.33 524.7h184.4v1.2h-184.4zM1524.38 524.7h147.52v1.2h-147.52zM1123.32 525.9h59.93v0.9h-59.93zM1349.21 525.9h13.83v0.9h-13.83zM1372.26 525.9h73.76v0.9h-73.76zM1455.23 525.9h9.22v0.9h-9.22zM1469.06 525.9h41.49v0.9h-41.49zM1524.38 525.9h147.52v0.9h-147.52z" fill="#e6e596" shape-rendering="crispEdges"/>
<path d="M1676 79h206.9v1.2h-206.9zM1726.58 74.9h22.99v4h-22.99zM1726.58 83.5h22.99v6.9h-22.99zM1726.58 95h27.59v5.8h-27.59zM1726.58 104.2h27.59v23h-27.59zM1676 83.5h4.6v6.9h-4.6zM1676 95h4.6v6.3h-4.6zM1676 105.4h4.6v10.3h-4.6zM1676 119.2h4.6v8h-4.6zM1685.2 91h9.2v3.4h-9.2zM1703.59 91h9.2v3.4h-9.2zM1717.38 95h4.6v32.2h-4.6zM1712.78 128.4h4.6v4.6h-4.6zM1721.98 128.4h4.6v4.6h-4.6zM1754.16 128.4h4.6v4.6h-4.6zM1758.76 91h4.6v3.4h-4.6zM1767.96 128.4h9.2v4.6h-9.2zM1767.96 139.9h9.2v5.7h-9.2zM1777.15 91h4.6v3.4h-4.6zM1790.94 103.1h9.2v23.5h-9.2zM1790.94 87h9.2v3.4h-9.2zM1795.54 90.4h9.2v4h-9.2zM1813.93 83.5h4.6v3.5h-4.6zM1813.93 119.2h4.6v7.4h-4.6zM1818.53 91h4.6v3.4h-4.6zM1823.13 95h9.2v5.8h-9.2zM1823.13 104.2h9.2v22.4h-9.2zM1855.31 128.4h4.6v4.6h-4.6zM1855.31 139.9h9.2v5.7h-9.2zM1869.11 91h4.6v3.4h-4.6zM1878.3 95h4.6v5.8h-4.6zM1878.3 104.2h4.6v22.4h-4.6zM1680.6 102.6h27.59v1.2h-27.59zM1712.78 92h9.2v1.2h-9.2zM1754.16 92.4h13.79v1.2h-13.79zM1772.55 102.6h13.79v1.2h-13.79zM1804.74 117.5h9.2v1.2h-9.2zM1836.92 117.5h13.79v1.2h-13.79zM1859.91 117.5h9.2v1.2h-9.2zM1763.36 117.8h9.2v1.2h-9.2zM1841.52 83.8h22.99v1.2h-22.99zM1685.2 86.5h41.38v1.2h-41.38zM1786.35 86.5h22.99v1.2h-22.99zM1676 266.7h206.9v27.6h-206.9zM1676 357.8h206.9v1.6h-206.9zM1676 360.5h206.9v2.7h-206.9zM1676 364.8h206.9v4.2h-206.9zM1676 372.8h206.9v2.2h-206.9zM1676 381h206.9v1h-206.9zM1676 471.93h18.16v1.1h-18.16zM1712 471.93h36.82v1.1h-36.82zM1771.83 471.93h5.18v1.1h-5.18zM1786.79 471.93h4.03v1.1h-4.03zM1801.17 471.93h3.45v1.1h-3.45zM1813.83 471.93h10.36v1.1h-10.36zM1676 497.82h36v1.1h-36zM1717.18 497.82h45.45v1.1h-45.45zM1767.8 497.82h65.01v1.1h-65.01zM1855.82 497.82h5.18v1.1h-5.18zM1865.03 497.82h8.63v1.1h-8.63zM1878.84 497.82h4.03v1.1h-4.03zM1676 504.72h36v1.1h-36zM1717.18 504.72h4.6v1.1h-4.6zM1726.38 504.72h27.61v1.1h-27.61zM1759.17 504.72h8.63v1.1h-8.63zM1777.01 504.72h78.82v1.1h-78.82zM1861 504.72h21.86v1.1h-21.86zM1676 508.63h86.62v1.1h-86.62zM1767.8 508.63h56.38v1.1h-56.38zM1832.81 508.63h32.22v1.1h-32.22zM1870.21 508.63h8.63v1.1h-8.63zM1801 513.03h3.75v0.86h-3.75zM1676 514.42h17.95v1.28h-17.95zM1708.4 514.42h40.68v1.28h-40.68zM1753.9 514.42h4.82v1.28h-4.82zM1772.1 514.42h4.82v1.28h-4.82zM1787.08 514.42h9.1v1.28h-9.1zM1801 514.42h9.1v1.28h-9.1zM1814.38 514.42h9.63v1.28h-9.63zM1711.61 515.71h37.47v0.86h-37.47zM1790.83 515.71h5.35v0.86h-5.35zM1676 517.31h35.61v2.68h-35.61zM1716.96 517.31h32.12v2.68h-32.12zM1749.08 517.31h13.92v2.68h-13.92zM1772.1 517.31h51.92v2.68h-51.92zM1828.3 518.6h41.75v0.86h-41.75zM1680.03 519.99h36.93v3.21h-36.93zM1721.78 519.99h4.28v3.21h-4.28zM1749.08 519.99h13.92v3.21h-13.92zM1776.91 519.99h5.35v3.21h-5.35zM1787.08 519.99h3.75v3.21h-3.75zM1796.18 519.99h4.28v3.21h-4.28zM1814.38 519.99h9.63v3.21h-9.63zM1870.05 519.99h3.75v3.21h-3.75zM1680.03 523.73h23.02v1.61h-23.02zM1708.4 523.73h8.56v1.61h-8.56zM1721.78 523.73h4.28v1.61h-4.28zM1749.08 523.73h13.92v1.61h-13.92zM1776.91 523.73h5.35v1.61h-5.35zM1787.08 523.73h3.75v1.61h-3.75zM1796.18 523.73h4.28v1.61h-4.28zM1814.38 523.73h9.63v1.61h-9.63zM1864.7 525.88h5.35v1.07h-5.35zM1712.15 526.95h50.85v2.14h-50.85zM1768.35 526.95h55.67v2.14h-55.67zM1676 527.7h4.03v1.39h-4.03z" fill="#b45223" shape-rendering="crispEdges"/>
<path d="M1703.59 230h4.6v3h-4.6zM1703.59 238h4.6v3h-4.6zM1703.59 246h4.6v3h-4.6zM1703.59 252h4.6v4h-4.6zM1708.18 255h4.6v2h-4.6zM1717.38 258h4.6v4h-4.6zM1758.76 235h4.6v2h-4.6zM1708.18 312h9.2v22.6h-9.2zM1712.78 305.8h4.6v4.6h-4.6zM1721.98 305.8h4.6v28.8h-4.6zM1754.16 303h4.6v31.6h-4.6zM1767.96 305.8h9.2v30.2h-9.2zM1855.31 304h4.6v30.6h-4.6zM1754.16 295h4.6v1.1h-4.6zM1754.16 297.5h4.6v1.1h-4.6zM1754.16 300.3h4.6v1.1h-4.6zM1708.18 303.5h9.2v1.1h-9.2zM1717.38 303.5h9.2v1.1h-9.2zM1823.13 305h9.2v1.1h-9.2zM1823.13 311h9.2v1.1h-9.2zM1864.51 300h9.2v1.1h-9.2zM1864.51 305h9.2v1.1h-9.2zM1864.51 311h9.2v1.1h-9.2zM1878.3 305h4.6v1.1h-4.6zM1878.3 311h4.6v1.1h-4.6zM1749.56 311.5h9.2v1.1h-9.2zM1726.58 330.5h18.39v1.1h-18.39zM1744.97 327h9.2v1.1h-9.2zM1795.54 332h9.2v1.1h-9.2zM1804.74 329h4.6v1.1h-4.6zM1827.73 333h9.2v1.1h-9.2zM1123.32 464h4.61v1.2h-4.61zM1123.32 465.2h4.61v1.2h-4.61zM1123.32 466.4h4.61v1.2h-4.61zM1123.32 467.6h4.61v1.2h-4.61zM1123.32 468.8h4.61v1.2h-4.61zM1123.32 470h4.61v1.2h-4.61zM1123.32 471.2h4.61v1.2h-4.61zM1123.32 472.4h4.61v1.2h-4.61zM1123.32 473.6h4.61v1.2h-4.61zM1123.32 474.8h4.61v1.2h-4.61zM1123.32 476h4.61v1.2h-4.61zM1123.32 477.2h4.61v1.2h-4.61zM1123.32 478.4h4.61v1.2h-4.61zM1123.32 480.8h4.61v1.2h-4.61zM1123.32 482h4.61v1.2h-4.61zM1123.32 483.2h4.61v1.2h-4.61zM1123.32 484.4h4.61v1.2h-4.61zM1123.32 485.6h4.61v1.2h-4.61zM1123.32 486.8h4.61v1.2h-4.61zM1123.32 488h4.61v1.2h-4.61zM1123.32 489.2h4.61v1.2h-4.61zM1123.32 490.4h4.61v1.2h-4.61zM1123.32 491.6h4.61v1.2h-4.61zM1123.32 492.8h4.61v1.2h-4.61zM1123.32 494h4.61v1.2h-4.61zM1123.32 495.2h4.61v1.2h-4.61zM1123.32 496.4h4.61v1.2h-4.61zM1123.32 497.6h4.61v0.1h-4.61zM1132.54 440.8h4.61v1.2h-4.61zM1132.54 442h4.61v1.2h-4.61zM1132.54 443.2h4.61v1.2h-4.61zM1132.54 445.6h4.61v1.2h-4.61zM1132.54 446.8h4.61v1.2h-4.61zM1132.54 448h4.61v1.2h-4.61zM1132.54 449.2h4.61v1.2h-4.61zM1132.54 450.4h4.61v1.2h-4.61zM1132.54 451.6h4.61v1.1h-4.61zM1132.54 462.2h4.61v1.2h-4.61zM1132.54 463.4h4.61v1.2h-4.61zM1132.54 464.6h4.61v1.2h-4.61zM1146.37 464h4.61v1.2h-4.61zM1146.37 465.2h4.61v1.2h-4.61zM1146.37 467.6h4.61v1.2h-4.61zM1146.37 468.8h4.61v1.2h-4.61zM1146.37 471.2h4.61v1.2h-4.61zM1146.37 473.6h4.61v1.2h-4.61zM1146.37 474.8h4.61v1.2h-4.61zM1146.37 476h4.61v1.2h-4.61zM1146.37 477.2h4.61v1.2h-4.61zM1146.37 478.4h4.61v1.2h-4.61zM1146.37 479.6h4.61v1.2h-4.61zM1146.37 482h4.61v1.2h-4.61zM1146.37 483.2h4.61v1.2h-4.61zM1146.37 484.4h4.61v1.2h-4.61zM1146.37 485.6h4.61v1.2h-4.61zM1146.37 488h4.61v1.2h-4.61zM1146.37 490.4h4.61v1.2h-4.61zM1146.37 491.6h4.61v1.2h-4.61zM1146.37 492.8h4.61v1.2h-4.61zM1146.37 494h4.61v1.2h-4.61zM1146.37 495.2h4.61v1.2h-4.61zM1146.37 496.4h4.61v1.2h-4.61zM1146.37 497.6h4.61v0.1h-4.61zM1150.98 462h4.61v1.2h-4.61zM1150.98 469.2h4.61v1.2h-4.61zM1150.98 470.4h4.61v1.2h-4.61zM1150.98 474h4.61v1.2h-4.61zM1150.98 475.2h4.61v1.2h-4.61zM1150.98 476.4h4.61v1.2h-4.61zM1150.98 478.8h4.61v1.2h-4.61zM1150.98 480h4.61v1.2h-4.61zM1150.98 481.2h4.61v1.2h-4.61zM1150.98 483.6h4.61v1.2h-4.61zM1150.98 484.8h4.61v1.2h-4.61zM1150.98 487.2h4.61v1.2h-4.61zM1150.98 488.4h4.61v1.2h-4.61zM1150.98 489.6h4.61v1.2h-4.61zM1150.98 492h4.61v1.2h-4.61zM1150.98 494.4h4.61v1.2h-4.61zM1169.42 460h4.61v1.2h-4.61zM1169.42 461.2h4.61v1.2h-4.61zM1169.42 462.4h4.61v1.2h-4.61zM1169.42 464.8h4.61v1.2h-4.61zM1169.42 466h4.61v1.2h-4.61zM1169.42 467.2h4.61v1.2h-4.61zM1169.42 468.4h4.61v1.2h-4.61zM1169.42 469.6h4.61v1.2h-4.61zM1169.42 470.8h4.61v1.2h-4.61zM1169.42 472h4.61v1.2h-4.61zM1169.42 473.2h4.61v1.2h-4.61zM1169.42 474.4h4.61v1.2h-4.61zM1169.42 475.6h4.61v1.2h-4.61zM1169.42 476.8h4.61v1.2h-4.61zM1169.42 479.2h4.61v1.2h-4.61zM1169.42 480.4h4.61v1.2h-4.61zM1169.42 482.8h4.61v1.2h-4.61zM1169.42 485.2h4.61v1.2h-4.61zM1169.42 486.4h4.61v1.2h-4.61zM1169.42 487.6h4.61v1.2h-4.61zM1169.42 488.8h4.61v1.2h-4.61zM1169.42 491.2h4.61v1.2h-4.61zM1169.42 493.6h4.61v1.2h-4.61zM1169.42 494.8h4.61v1.2h-4.61zM1187.86 492.8h4.61v1.2h-4.61zM1187.86 495.2h4.61v1.2h-4.61zM1192.47 471.2h4.61v1.2h-4.61zM1192.47 477.2h4.61v1.2h-4.61zM1192.47 478.4h4.61v1.2h-4.61zM1192.47 485.6h4.61v1.2h-4.61zM1192.47 488h4.61v1.2h-4.61zM1192.47 492.8h4.61v1.2h-4.61zM1192.47 495.2h4.61v1.2h-4.61zM1197.08 472.4h4.61v1.2h-4.61zM1197.08 474.8h4.61v1.2h-4.61zM1197.08 479.6h4.61v1.2h-4.61zM1197.08 480.8h4.61v1.2h-4.61zM1197.08 482h4.61v1.2h-4.61zM1197.08 484.4h4.61v1.2h-4.61zM1197.08 495.2h4.61v1.2h-4.61zM1215.52 483.2h4.61v1.2h-4.61zM1215.52 485.6h4.61v1.2h-4.61zM1215.52 486.8h4.61v1.2h-4.61zM1215.52 488h4.61v1.2h-4.61zM1215.52 490.4h4.61v1.2h-4.61zM1215.52 491.6h4.61v1.2h-4.61zM1215.52 492.8h4.61v1.2h-4.61zM1215.52 494h4.61v1h-4.61zM1215.52 453h4.61v1.2h-4.61zM1215.52 454.2h4.61v1.2h-4.61zM1215.52 455.4h4.61v0.6h-4.61zM1229.35 463.2h4.61v1.2h-4.61zM1229.35 465.6h4.61v1.2h-4.61zM1229.35 469.2h4.61v1.2h-4.61zM1229.35 471.6h4.61v1.2h-4.61zM1229.35 474h4.61v1.2h-4.61zM1229.35 477.6h4.61v1.2h-4.61zM1229.35 478.8h4.61v1.2h-4.61zM1229.35 480h4.61v1.2h-4.61zM1229.35 481.2h4.61v1.2h-4.61zM1229.35 486h4.61v1.2h-4.61zM1229.35 487.2h4.61v1.2h-4.61zM1229.35 488.4h4.61v1.2h-4.61zM1229.35 493.2h4.61v1.2h-4.61zM1229.35 494.4h4.61v1.2h-4.61zM1229.35 495.6h4.61v1.2h-4.61zM1229.35 496.8h4.61v0.2h-4.61zM1233.96 464h4.61v1.2h-4.61zM1233.96 465.2h4.61v1.2h-4.61zM1233.96 466.4h4.61v1.2h-4.61zM1233.96 467.6h4.61v1.2h-4.61zM1233.96 468.8h4.61v1.2h-4.61zM1233.96 470h4.61v1.2h-4.61zM1233.96 471.2h4.61v1.2h-4.61zM1233.96 472.4h4.61v1.2h-4.61zM1233.96 473.6h4.61v1.2h-4.61zM1233.96 474.8h4.61v1.2h-4.61zM1233.96 476h4.61v1.2h-4.61zM1233.96 477.2h4.61v1.2h-4.61zM1233.96 478.4h4.61v1.2h-4.61zM1233.96 479.6h4.61v1.2h-4.61zM1233.96 480.8h4.61v1.2h-4.61zM1233.96 482h4.61v1.2h-4.61zM1233.96 483.2h4.61v1.2h-4.61zM1233.96 484.4h4.61v1.2h-4.61zM1233.96 485.6h4.61v1.2h-4.61zM1233.96 486.8h4.61v1.2h-4.61zM1233.96 488h4.61v1.2h-4.61zM1233.96 489.2h4.61v1.2h-4.61zM1233.96 490.4h4.61v1.2h-4.61zM1233.96 491.6h4.61v1.2h-4.61zM1233.96 492.8h4.61v1.2h-4.61zM1233.96 495.2h4.61v1.2h-4.61zM1233.96 496.4h4.61v1.2h-4.61zM1233.96 497.6h4.61v0.1h-4.61zM1238.57 464h4.61v1.2h-4.61zM1238.57 465.2h4.61v1.2h-4.61zM1238.57 466.4h4.61v1.2h-4.61zM1238.57 467.6h4.61v1.2h-4.61zM1238.57 468.8h4.61v1.2h-4.61zM1238.57 470h4.61v1.2h-4.61zM1238.57 471.2h4.61v1.2h-4.61zM1238.57 472.4h4.61v1.2h-4.61zM1238.57 473.6h4.61v1.2h-4.61zM1238.57 474.8h4.61v1.2h-4.61zM1238.57 476h4.61v1.2h-4.61zM1238.57 477.2h4.61v1.2h-4.61zM1238.57 478.4h4.61v1.2h-4.61zM1238.57 479.6h4.61v1.2h-4.61zM1238.57 480.8h4.61v1.2h-4.61zM1238.57 482h4.61v1.2h-4.61zM1238.57 483.2h4.61v1.2h-4.61zM1238.57 484.4h4.61v1.2h-4.61zM1238.57 485.6h4.61v1.2h-4.61zM1238.57 486.8h4.61v1.2h-4.61zM1238.57 488h4.61v1.2h-4.61zM1238.57 489.2h4.61v1.2h-4.61zM1238.57 490.4h4.61v1.2h-4.61zM1238.57 491.6h4.61v1.2h-4.61zM1238.57 492.8h4.61v1.2h-4.61zM1238.57 494h4.61v1.2h-4.61zM1238.57 495.2h4.61v1.2h-4.61zM1238.57 496.4h4.61v1.2h-4.61zM1238.57 497.6h4.61v0.1h-4.61zM1243.18 442.8h4.61v1.2h-4.61zM1243.18 444h4.61v1.2h-4.61zM1243.18 446.4h4.61v1.2h-4.61zM1243.18 447.6h4.61v1.2h-4.61zM1243.18 448.8h4.61v1.2h-4.61zM1243.18 451.2h4.61v1.2h-4.61zM1243.18 452.4h4.61v0.3h-4.61zM1247.79 462.4h4.61v1.2h-4.61zM1247.79 466h4.61v1.2h-4.61zM1247.79 468.4h4.61v1.2h-4.61zM1247.79 470.8h4.61v1.2h-4.61zM1247.79 472h4.61v1.2h-4.61zM1247.79 475.6h4.61v1.2h-4.61zM1247.79 476.8h4.61v1.2h-4.61zM1247.79 479.2h4.61v1.2h-4.61zM1247.79 480.4h4.61v1.2h-4.61zM1247.79 481.6h4.61v1.2h-4.61zM1247.79 482.8h4.61v1.2h-4.61zM1247.79 484h4.61v1.2h-4.61zM1247.79 485.2h4.61v1.2h-4.61zM1247.79 486.4h4.61v1.2h-4.61zM1247.79 487.6h4.61v1.2h-4.61zM1247.79 492.4h4.61v1.2h-4.61zM1247.79 493.6h4.61v1.2h-4.61zM1247.79 496h4.61v1h-4.61zM1252.4 459h4.61v1.2h-4.61zM1252.4 460.2h4.61v1.2h-4.61zM1252.4 462.6h4.61v1.2h-4.61zM1252.4 463.8h4.61v1.2h-4.61zM1252.4 465h4.61v1.2h-4.61zM1252.4 466.2h4.61v1.2h-4.61zM1252.4 467.4h4.61v1.2h-4.61zM1252.4 468.6h4.61v1.2h-4.61zM1252.4 469.8h4.61v1.2h-4.61zM1252.4 471h4.61v1.2h-4.61zM1252.4 473.4h4.61v1.2h-4.61zM1252.4 474.6h4.61v1.2h-4.61zM1252.4 475.8h4.61v1.2h-4.61zM1252.4 477h4.61v1.2h-4.61zM1252.4 478.2h4.61v1.2h-4.61zM1252.4 479.4h4.61v1.2h-4.61zM1252.4 480.6h4.61v1.2h-4.61zM1252.4 481.8h4.61v1.2h-4.61zM1252.4 483h4.61v1.2h-4.61zM1252.4 484.2h4.61v1.2h-4.61zM1252.4 486.6h4.61v1.2h-4.61zM1252.4 487.8h4.61v1.2h-4.61zM1252.4 489h4.61v1.2h-4.61zM1252.4 490.2h4.61v1.2h-4.61zM1252.4 491.4h4.61v1.2h-4.61zM1252.4 492.6h4.61v1.2h-4.61zM1252.4 493.8h4.61v1.2h-4.61zM1252.4 495h4.61v1.2h-4.61zM1252.4 496.2h4.61v1.2h-4.61zM1252.4 497.4h4.61v0.3h-4.61zM1257.01 460h4.61v1.2h-4.61zM1257.01 461.2h4.61v1.2h-4.61zM1257.01 464.8h4.61v1.2h-4.61zM1257.01 468.4h4.61v1.2h-4.61zM1257.01 469.6h4.61v1.2h-4.61zM1257.01 472h4.61v1.2h-4.61zM1257.01 479.2h4.61v1.2h-4.61zM1257.01 484h4.61v1.2h-4.61zM1257.01 485.2h4.61v1.2h-4.61zM1257.01 486.4h4.61v1.2h-4.61zM1257.01 487.6h4.61v1.2h-4.61zM1257.01 490h4.61v1.2h-4.61zM1257.01 491.2h4.61v1.2h-4.61zM1266.23 456h4.61v1.2h-4.61zM1266.23 457.2h4.61v1.2h-4.61zM1266.23 458.4h4.61v1.2h-4.61zM1266.23 459.6h4.61v1.2h-4.61zM1266.23 460.8h4.61v1.2h-4.61zM1266.23 462h4.61v1.2h-4.61zM1266.23 463.2h4.61v1.2h-4.61zM1266.23 464.4h4.61v1.2h-4.61zM1266.23 465.6h4.61v1.2h-4.61zM1266.23 468h4.61v1.2h-4.61zM1266.23 469.2h4.61v1.2h-4.61zM1266.23 470.4h4.61v1.2h-4.61zM1266.23 471.6h4.61v1.2h-4.61zM1266.23 472.8h4.61v1.2h-4.61zM1266.23 474h4.61v1.2h-4.61zM1266.23 475.2h4.61v1.2h-4.61zM1266.23 476.4h4.61v1.2h-4.61zM1266.23 477.6h4.61v1.2h-4.61zM1266.23 478.8h4.61v1.2h-4.61zM1266.23 480h4.61v1.2h-4.61zM1266.23 481.2h4.61v1.2h-4.61zM1266.23 482.4h4.61v1.2h-4.61zM1266.23 483.6h4.61v1.2h-4.61zM1266.23 484.8h4.61v1.2h-4.61zM1266.23 486h4.61v1.2h-4.61zM1266.23 487.2h4.61v1.2h-4.61zM1266.23 488.4h4.61v1.2h-4.61zM1266.23 489.6h4.61v1.2h-4.61zM1266.23 490.8h4.61v1.2h-4.61zM1266.23 492h4.61v1.2h-4.61zM1266.23 493.2h4.61v1.2h-4.61zM1266.23 494.4h4.61v1.2h-4.61zM1266.23 495.6h4.61v1.2h-4.61zM1266.23 496.8h4.61v0.9h-4.61zM1298.5 464h4.61v1.2h-4.61zM1298.5 465.2h4.61v1.2h-4.61zM1298.5 466.4h4.61v1.2h-4.61zM1298.5 467.6h4.61v1.2h-4.61zM1298.5 468.8h4.61v1.2h-4.61zM1298.5 470h4.61v1.2h-4.61zM1298.5 471.2h4.61v1.2h-4.61zM1298.5 472.4h4.61v1.2h-4.61zM1298.5 473.6h4.61v1.2h-4.61zM1298.5 474.8h4.61v1.2h-4.61zM1298.5 476h4.61v1.2h-4.61zM1298.5 477.2h4.61v1.2h-4.61zM1298.5 478.4h4.61v1.2h-4.61zM1298.5 479.6h4.61v1.2h-4.61zM1298.5 480.8h4.61v1.2h-4.61zM1298.5 482h4.61v1.2h-4.61zM1298.5 483.2h4.61v1.2h-4.61zM1298.5 485.6h4.61v1.2h-4.61zM1298.5 486.8h4.61v1.2h-4.61zM1298.5 488h4.61v1.2h-4.61zM1298.5 489.2h4.61v1.2h-4.61zM1298.5 490.4h4.61v1.2h-4.61zM1298.5 491.6h4.61v1.2h-4.61zM1298.5 492.8h4.61v1.2h-4.61zM1298.5 494h4.61v1.2h-4.61zM1298.5 495.2h4.61v1.2h-4.61zM1298.5 496.4h4.61v1.2h-4.61zM1298.5 497.6h4.61v0.1h-4.61zM1303.11 469h4.61v1.2h-4.61zM1303.11 473.8h4.61v1.2h-4.61zM1303.11 475h4.61v1.2h-4.61zM1303.11 481h4.61v1.2h-4.61zM1303.11 483.4h4.61v1.2h-4.61zM1303.11 485.8h4.61v1.2h-4.61zM1303.11 487h4.61v1.2h-4.61zM1303.11 490.6h4.61v1.2h-4.61zM1303.11 491.8h4.61v1.2h-4.61zM1303.11 494.2h4.61v1.2h-4.61zM1303.11 495.4h4.61v1.2h-4.61zM1303.11 496.6h4.61v0.4h-4.61zM1307.72 465.4h4.61v1.2h-4.61zM1307.72 466.6h4.61v1.2h-4.61zM1307.72 469h4.61v1.2h-4.61zM1307.72 470.2h4.61v1.2h-4.61zM1307.72 475h4.61v1.2h-4.61zM1307.72 478.6h4.61v1.2h-4.61zM1307.72 481h4.61v1.2h-4.61zM1307.72 482.2h4.61v1.2h-4.61zM1307.72 483.4h4.61v1.2h-4.61zM1307.72 484.6h4.61v1.2h-4.61zM1307.72 487h4.61v1.2h-4.61zM1307.72 490.6h4.61v1.2h-4.61zM1307.72 493h4.61v1.2h-4.61zM1307.72 494.2h4.61v1.2h-4.61zM1307.72 495.4h4.61v1.2h-4.61zM1312.33 463h4.61v1.2h-4.61zM1312.33 465.4h4.61v1.2h-4.61zM1312.33 466.6h4.61v1.2h-4.61zM1312.33 477.4h4.61v1.2h-4.61zM1312.33 483.4h4.61v1.2h-4.61zM1312.33 485.8h4.61v1.2h-4.61zM1312.33 487h4.61v1.2h-4.61zM1312.33 489.4h4.61v1.2h-4.61zM1312.33 490.6h4.61v1.2h-4.61zM1312.33 491.8h4.61v1.2h-4.61zM1312.33 495.4h4.61v1.2h-4.61zM1312.33 496.6h4.61v0.4h-4.61zM1316.94 466.6h4.61v1.2h-4.61zM1316.94 471.4h4.61v1.2h-4.61zM1316.94 479.8h4.61v1.2h-4.61zM1316.94 482.2h4.61v1.2h-4.61zM1316.94 484.6h4.61v1.2h-4.61zM1316.94 491.8h4.61v1.2h-4.61zM1326.16 441.3h4.61v1.2h-4.61zM1326.16 442.5h4.61v1.2h-4.61zM1326.16 443.7h4.61v1.2h-4.61zM1326.16 444.9h4.61v1.2h-4.61zM1326.16 447.3h4.61v1.2h-4.61zM1326.16 448.5h4.61v1.2h-4.61zM1326.16 449.7h4.61v1.2h-4.61zM1326.16 450.9h4.61v0.7h-4.61zM1339.99 473h4.61v1.2h-4.61zM1339.99 474.2h4.61v1.2h-4.61zM1339.99 476.6h4.61v1.2h-4.61zM1339.99 479h4.61v1.2h-4.61zM1339.99 480.2h4.61v1.2h-4.61zM1339.99 481.4h4.61v1.2h-4.61zM1339.99 482.6h4.61v1.2h-4.61zM1339.99 483.8h4.61v1.2h-4.61zM1339.99 486.2h4.61v1.2h-4.61zM1339.99 487.4h4.61v1.2h-4.61zM1339.99 488.6h4.61v1.2h-4.61zM1339.99 489.8h4.61v1.2h-4.61zM1339.99 491h4.61v1.2h-4.61zM1339.99 493.4h4.61v1.2h-4.61zM1349.21 475.4h4.61v1.2h-4.61zM1349.21 477.8h4.61v1.2h-4.61zM1349.21 479h4.61v1.2h-4.61zM1349.21 480.2h4.61v1.2h-4.61zM1349.21 481.4h4.61v1.2h-4.61zM1349.21 483.8h4.61v1.2h-4.61zM1349.21 487.4h4.61v1.2h-4.61zM1349.21 491h4.61v1.2h-4.61zM1349.21 493.4h4.61v1.2h-4.61zM1349.21 495.8h4.61v1.2h-4.61zM1358.43 474.8h4.61v1.2h-4.61zM1358.43 476h4.61v1.2h-4.61zM1358.43 478.4h4.61v1.2h-4.61zM1358.43 485.6h4.61v1.2h-4.61zM1358.43 492.8h4.61v1.2h-4.61zM1358.43 496.4h4.61v0.6h-4.61zM1395.3 463.7h4.61v1.2h-4.61zM1395.3 464.9h4.61v1.2h-4.61zM1395.3 466.1h4.61v1.2h-4.61zM1395.3 467.3h4.61v1.2h-4.61zM1395.3 469.7h4.61v1.2h-4.61zM1395.3 470.9h4.61v1.2h-4.61zM1395.3 473.3h4.61v1.2h-4.61zM1395.3 475.7h4.61v1.2h-4.61zM1395.3 476.9h4.61v1.2h-4.61zM1395.3 478.1h4.61v1.2h-4.61zM1395.3 479.3h4.61v1.2h-4.61zM1395.3 480.5h4.61v1.2h-4.61zM1395.3 481.7h4.61v1.2h-4.61zM1395.3 482.9h4.61v1.2h-4.61zM1395.3 484.1h4.61v1.2h-4.61zM1395.3 486.5h4.61v1.2h-4.61zM1395.3 487.7h4.61v1.2h-4.61zM1395.3 490.1h4.61v1.2h-4.61zM1395.3 492.5h4.61v1.2h-4.61zM1395.3 493.7h4.61v1.2h-4.61zM1395.3 494.9h4.61v1.2h-4.61zM1395.3 496.1h4.61v1.2h-4.61zM1395.3 497.3h4.61v0.4h-4.61zM1404.52 463.7h4.61v1.2h-4.61zM1404.52 464.9h4.61v1.2h-4.61zM1404.52 466.1h4.61v1.2h-4.61zM1404.52 467.3h4.61v1.2h-4.61zM1404.52 468.5h4.61v1.2h-4.61zM1404.52 469.7h4.61v1.2h-4.61zM1404.52 470.9h4.61v1.2h-4.61zM1404.52 472.1h4.61v1.2h-4.61zM1404.52 473.3h4.61v1.2h-4.61zM1404.52 475.7h4.61v1.2h-4.61zM1404.52 476.9h4.61v1.2h-4.61zM1404.52 478.1h4.61v1.2h-4.61zM1404.52 479.3h4.61v1.2h-4.61zM1404.52 480.5h4.61v1.2h-4.61zM1404.52 481.7h4.61v1.2h-4.61zM1404.52 482.9h4.61v1.2h-4.61zM1404.52 484.1h4.61v1.2h-4.61zM1404.52 485.3h4.61v1.2h-4.61zM1404.52 487.7h4.61v1.2h-4.61zM1404.52 488.9h4.61v1.2h-4.61zM1404.52 490.1h4.61v1.2h-4.61zM1404.52 491.3h4.61v1.2h-4.61zM1404.52 492.5h4.61v1.2h-4.61zM1404.52 494.9h4.61v1.2h-4.61zM1404.52 496.1h4.61v1.2h-4.61zM1404.52 497.3h4.61v0.4h-4.61zM1418.35 463.7h4.61v1.2h-4.61zM1418.35 464.9h4.61v1.2h-4.61zM1418.35 466.1h4.61v1.2h-4.61zM1418.35 467.3h4.61v1.2h-4.61zM1418.35 468.5h4.61v1.2h-4.61zM1418.35 470.9h4.61v1.2h-4.61zM1418.35 473.3h4.61v1.2h-4.61zM1418.35 475.7h4.61v1.2h-4.61zM1418.35 478.1h4.61v1.2h-4.61zM1418.35 479.3h4.61v1.2h-4.61zM1418.35 480.5h4.61v1.2h-4.61zM1418.35 481.7h4.61v1.2h-4.61zM1418.35 482.9h4.61v1.2h-4.61zM1418.35 484.1h4.61v1.2h-4.61zM1418.35 486.5h4.61v1.2h-4.61zM1418.35 488.9h4.61v1.2h-4.61zM1418.35 490.1h4.61v1.2h-4.61zM1418.35 492.5h4.61v1.2h-4.61zM1418.35 494.9h4.61v1.2h-4.61zM1441.4 456.2h4.61v1.2h-4.61zM1441.4 459.8h4.61v1.2h-4.61zM1441.4 462.2h4.61v1.2h-4.61zM1441.4 463.4h4.61v1.2h-4.61zM1441.4 464.6h4.61v1.2h-4.61zM1441.4 467h4.61v1.2h-4.61zM1441.4 468.2h4.61v1.2h-4.61zM1441.4 469.4h4.61v1.2h-4.61zM1441.4 470.6h4.61v1.2h-4.61zM1441.4 471.8h4.61v1.2h-4.61zM1441.4 473h4.61v1.2h-4.61zM1441.4 474.2h4.61v1.2h-4.61zM1441.4 475.4h4.61v1.2h-4.61zM1441.4 476.6h4.61v1.2h-4.61zM1441.4 481.4h4.61v1.2h-4.61zM1441.4 486.2h4.61v1.2h-4.61zM1441.4 492.2h4.61v1.2h-4.61zM1441.4 493.4h4.61v1.2h-4.61zM1450.62 464h4.61v1.2h-4.61zM1450.62 465.2h4.61v1.2h-4.61zM1450.62 466.4h4.61v1.2h-4.61zM1450.62 467.6h4.61v1.2h-4.61zM1450.62 468.8h4.61v1.2h-4.61zM1450.62 471.2h4.61v1.2h-4.61zM1450.62 472.4h4.61v1.2h-4.61zM1450.62 473.6h4.61v1.2h-4.61zM1450.62 474.8h4.61v1.2h-4.61zM1450.62 477.2h4.61v1.2h-4.61zM1450.62 478.4h4.61v1.2h-4.61zM1450.62 479.6h4.61v1.2h-4.61zM1450.62 482h4.61v1.2h-4.61zM1450.62 483.2h4.61v1.2h-4.61zM1450.62 484.4h4.61v1.2h-4.61zM1450.62 485.6h4.61v1.2h-4.61zM1450.62 486.8h4.61v1.2h-4.61zM1450.62 488h4.61v1.2h-4.61zM1450.62 489.2h4.61v1.2h-4.61zM1450.62 490.4h4.61v1.2h-4.61zM1450.62 491.6h4.61v1.2h-4.61zM1450.62 492.8h4.61v1.2h-4.61zM1450.62 494h4.61v1.2h-4.61zM1450.62 495.2h4.61v1.2h-4.61zM1450.62 496.4h4.61v1.2h-4.61zM1450.62 497.6h4.61v0.1h-4.61zM1473.67 463h4.61v1.2h-4.61zM1473.67 464.2h4.61v1.2h-4.61zM1473.67 465.4h4.61v1.2h-4.61zM1473.67 466.6h4.61v1.2h-4.61zM1473.67 467.8h4.61v1.2h-4.61zM1473.67 469h4.61v1.2h-4.61zM1473.67 470.2h4.61v1.2h-4.61zM1473.67 471.4h4.61v1.2h-4.61zM1473.67 472.6h4.61v1.2h-4.61zM1473.67 473.8h4.61v1.2h-4.61zM1473.67 475h4.61v1.2h-4.61zM1473.67 476.2h4.61v1.2h-4.61zM1473.67 477.4h4.61v1.2h-4.61zM1473.67 478.6h4.61v1.2h-4.61zM1473.67 481h4.61v1.2h-4.61zM1473.67 482.2h4.61v1.2h-4.61zM1473.67 483.4h4.61v1.2h-4.61zM1473.67 484.6h4.61v1.2h-4.61zM1473.67 485.8h4.61v1.2h-4.61zM1473.67 487h4.61v1.2h-4.61zM1473.67 488.2h4.61v1.2h-4.61zM1473.67 489.4h4.61v1.2h-4.61zM1473.67 490.6h4.61v1.2h-4.61zM1473.67 491.8h4.61v1.2h-4.61zM1473.67 493h4.61v1.2h-4.61zM1473.67 494.2h4.61v1.2h-4.61zM1473.67 495.4h4.61v1.2h-4.61zM1473.67 496.6h4.61v1.1h-4.61zM1482.89 464h4.61v1.2h-4.61zM1482.89 465.2h4.61v1.2h-4.61zM1482.89 466.4h4.61v1.2h-4.61zM1482.89 467.6h4.61v1.2h-4.61zM1482.89 468.8h4.61v1.2h-4.61zM1482.89 470h4.61v1.2h-4.61zM1482.89 471.2h4.61v1.2h-4.61zM1482.89 473.6h4.61v1.2h-4.61zM1482.89 474.8h4.61v1.2h-4.61zM1482.89 476h4.61v1.2h-4.61zM1482.89 477.2h4.61v1.2h-4.61zM1482.89 478.4h4.61v1.2h-4.61zM1482.89 479.6h4.61v1.2h-4.61zM1482.89 480.8h4.61v1.2h-4.61zM1482.89 482h4.61v1.2h-4.61zM1482.89 483.2h4.61v1.2h-4.61zM1482.89 484.4h4.61v1.2h-4.61zM1482.89 485.6h4.61v1.2h-4.61zM1482.89 486.8h4.61v1.2h-4.61zM1482.89 488h4.61v1.2h-4.61zM1482.89 489.2h4.61v1.2h-4.61zM1482.89 490.4h4.61v1.2h-4.61zM1482.89 491.6h4.61v1.2h-4.61zM1482.89 492.8h4.61v1.2h-4.61zM1482.89 494h4.61v1.2h-4.61zM1482.89 495.2h4.61v1.2h-4.61zM1482.89 496.4h4.61v1.2h-4.61zM1482.89 497.6h4.61v0.1h-4.61zM1487.5 465.4h4.61v1.2h-4.61zM1487.5 473.8h4.61v1.2h-4.61zM1487.5 484.6h4.61v1.2h-4.61zM1487.5 490.6h4.61v1.2h-4.61zM1487.5 494.2h4.61v1.2h-4.61zM1487.5 495.4h4.61v1.2h-4.61zM1487.5 496.6h4.61v0.4h-4.61zM1492.11 467.8h4.61v1.2h-4.61zM1492.11 473.8h4.61v1.2h-4.61zM1492.11 476.2h4.61v1.2h-4.61zM1492.11 478.6h4.61v1.2h-4.61zM1492.11 482.2h4.61v1.2h-4.61zM1492.11 484.6h4.61v1.2h-4.61zM1492.11 493h4.61v1.2h-4.61zM1492.11 495.4h4.61v1.2h-4.61zM1505.94 438.7h4.61v1.2h-4.61zM1505.94 441.1h4.61v1.2h-4.61zM1505.94 444.7h4.61v1.2h-4.61zM1505.94 445.9h4.61v1.2h-4.61zM1505.94 448.3h4.61v1.2h-4.61zM1505.94 449.5h4.61v1.2h-4.61zM1505.94 450.7h4.61v1.2h-4.61zM1510.55 464h4.61v1.2h-4.61zM1510.55 466.4h4.61v1.2h-4.61zM1510.55 467.6h4.61v1.2h-4.61zM1510.55 468.8h4.61v1.2h-4.61zM1510.55 470h4.61v1.2h-4.61zM1510.55 471.2h4.61v1.2h-4.61zM1510.55 472.4h4.61v1.2h-4.61zM1510.55 473.6h4.61v1.2h-4.61zM1510.55 474.8h4.61v1.2h-4.61zM1510.55 476h4.61v1.2h-4.61zM1510.55 477.2h4.61v1.2h-4.61zM1510.55 478.4h4.61v1.2h-4.61zM1510.55 479.6h4.61v1.2h-4.61zM1510.55 482h4.61v1.2h-4.61zM1510.55 483.2h4.61v1.2h-4.61zM1510.55 484.4h4.61v1.2h-4.61zM1510.55 485.6h4.61v1.2h-4.61zM1510.55 486.8h4.61v1.2h-4.61zM1510.55 488h4.61v1.2h-4.61zM1510.55 489.2h4.61v1.2h-4.61zM1510.55 490.4h4.61v1.2h-4.61zM1510.55 491.6h4.61v1.2h-4.61zM1510.55 492.8h4.61v1.2h-4.61zM1510.55 494h4.61v1.2h-4.61zM1510.55 495.2h4.61v1.2h-4.61zM1510.55 496.4h4.61v1.2h-4.61zM1510.55 497.6h4.61v0.1h-4.61zM1515.16 464h4.61v1.2h-4.61zM1515.16 465.2h4.61v1.2h-4.61zM1515.16 466.4h4.61v1.2h-4.61zM1515.16 467.6h4.61v1.2h-4.61zM1515.16 468.8h4.61v1.2h-4.61zM1515.16 470h4.61v1.2h-4.61zM1515.16 471.2h4.61v1.2h-4.61zM1515.16 473.6h4.61v1.2h-4.61zM1515.16 474.8h4.61v1.2h-4.61zM1515.16 476h4.61v1.2h-4.61zM1515.16 477.2h4.61v1.2h-4.61zM1515.16 478.4h4.61v1.2h-4.61zM1515.16 479.6h4.61v1.2h-4.61zM1515.16 480.8h4.61v1.2h-4.61zM1515.16 482h4.61v1.2h-4.61zM1515.16 483.2h4.61v1.2h-4.61zM1515.16 484.4h4.61v1.2h-4.61zM1515.16 485.6h4.61v1.2h-4.61zM1515.16 486.8h4.61v1.2h-4.61zM1515.16 488h4.61v1.2h-4.61zM1515.16 489.2h4.61v1.2h-4.61zM1515.16 490.4h4.61v1.2h-4.61zM1515.16 491.6h4.61v1.2h-4.61zM1515.16 492.8h4.61v1.2h-4.61zM1515.16 494h4.61v1.2h-4.61zM1515.16 495.2h4.61v1.2h-4.61zM1515.16 496.4h4.61v1.2h-4.61zM1515.16 497.6h4.61v0.1h-4.61zM1519.77 463h4.61v1.2h-4.61zM1519.77 469h4.61v1.2h-4.61zM1519.77 471.4h4.61v1.2h-4.61zM1519.77 475h4.61v1.2h-4.61zM1519.77 479.8h4.61v1.2h-4.61zM1519.77 484.6h4.61v1.2h-4.61zM1519.77 487h4.61v1.2h-4.61zM1519.77 488.2h4.61v1.2h-4.61zM1519.77 493h4.61v1.2h-4.61zM1519.77 496.6h4.61v0.4h-4.61zM1524.38 465.4h4.61v1.2h-4.61zM1524.38 467.8h4.61v1.2h-4.61zM1524.38 470.2h4.61v1.2h-4.61zM1524.38 475h4.61v1.2h-4.61zM1524.38 476.2h4.61v1.2h-4.61zM1524.38 478.6h4.61v1.2h-4.61zM1524.38 479.8h4.61v1.2h-4.61zM1524.38 488.2h4.61v1.2h-4.61zM1524.38 490.6h4.61v1.2h-4.61zM1524.38 496.6h4.61v0.4h-4.61zM1524.38 432h4.61v1.2h-4.61zM1524.38 433.2h4.61v1.2h-4.61zM1524.38 435.6h4.61v1.2h-4.61zM1524.38 436.8h4.61v1.2h-4.61zM1524.38 438h4.61v1.2h-4.61zM1524.38 439.2h4.61v1.2h-4.61zM1524.38 441.6h4.61v1.2h-4.61zM1524.38 442.8h4.61v1.2h-4.61zM1533.6 464h4.61v1.2h-4.61zM1533.6 465.2h4.61v1.2h-4.61zM1533.6 466.4h4.61v1.2h-4.61zM1533.6 467.6h4.61v1.2h-4.61zM1533.6 468.8h4.61v1.2h-4.61zM1533.6 470h4.61v1.2h-4.61zM1533.6 472.4h4.61v1.2h-4.61zM1533.6 473.6h4.61v1.2h-4.61zM1533.6 474.8h4.61v1.2h-4.61zM1533.6 476h4.61v1.2h-4.61zM1533.6 477.2h4.61v1.2h-4.61zM1533.6 478.4h4.61v1.2h-4.61zM1533.6 479.6h4.61v1.2h-4.61zM1533.6 480.8h4.61v1.2h-4.61zM1533.6 482h4.61v1.2h-4.61zM1533.6 483.2h4.61v1.2h-4.61zM1533.6 484.4h4.61v1.2h-4.61zM1533.6 485.6h4.61v1.2h-4.61zM1533.6 486.8h4.61v1.2h-4.61zM1533.6 488h4.61v1.2h-4.61zM1533.6 489.2h4.61v1.2h-4.61zM1533.6 490.4h4.61v1.2h-4.61zM1533.6 491.6h4.61v1.2h-4.61zM1533.6 492.8h4.61v1.2h-4.61zM1533.6 494h4.61v1.2h-4.61zM1533.6 495.2h4.61v1.2h-4.61zM1533.6 496.4h4.61v1.2h-4.61zM1552.04 442.1h4.61v1.2h-4.61zM1552.04 443.3h4.61v1.2h-4.61zM1552.04 444.5h4.61v0.5h-4.61zM1556.65 439.7h4.61v1.2h-4.61zM1556.65 440.9h4.61v1.2h-4.61zM1556.65 442.1h4.61v1.2h-4.61zM1556.65 443.3h4.61v1.2h-4.61zM1552.04 466.7h4.61v1.2h-4.61zM1552.04 467.9h4.61v1.2h-4.61zM1552.04 469.1h4.61v1.2h-4.61zM1552.04 470.3h4.61v1.2h-4.61zM1552.04 471.5h4.61v1.2h-4.61zM1552.04 472.7h4.61v1.2h-4.61zM1552.04 473.9h4.61v1.2h-4.61zM1552.04 475.1h4.61v1.2h-4.61zM1552.04 476.3h4.61v1.2h-4.61zM1552.04 477.5h4.61v1.2h-4.61zM1552.04 478.7h4.61v1.2h-4.61zM1552.04 481.1h4.61v1.2h-4.61zM1552.04 482.3h4.61v1.2h-4.61zM1552.04 483.5h4.61v1.2h-4.61zM1552.04 484.7h4.61v1.2h-4.61zM1552.04 485.9h4.61v1.2h-4.61zM1552.04 487.1h4.61v1.2h-4.61zM1552.04 488.3h4.61v1.2h-4.61zM1552.04 489.5h4.61v1.2h-4.61zM1552.04 490.7h4.61v1.2h-4.61zM1552.04 491.9h4.61v1.2h-4.61zM1552.04 494.3h4.61v1.2h-4.61zM1552.04 495.5h4.61v1.2h-4.61zM1552.04 496.7h4.61v1h-4.61zM1556.65 466.7h4.61v1.2h-4.61zM1556.65 467.9h4.61v1.2h-4.61zM1556.65 469.1h4.61v1.2h-4.61zM1556.65 470.3h4.61v1.2h-4.61zM1556.65 471.5h4.61v1.2h-4.61zM1556.65 472.7h4.61v1.2h-4.61zM1556.65 473.9h4.61v1.2h-4.61zM1556.65 476.3h4.61v1.2h-4.61zM1556.65 477.5h4.61v1.2h-4.61zM1556.65 478.7h4.61v1.2h-4.61zM1556.65 479.9h4.61v1.2h-4.61zM1556.65 481.1h4.61v1.2h-4.61zM1556.65 482.3h4.61v1.2h-4.61zM1556.65 483.5h4.61v1.2h-4.61zM1556.65 484.7h4.61v1.2h-4.61zM1556.65 485.9h4.61v1.2h-4.61zM1556.65 487.1h4.61v1.2h-4.61zM1556.65 488.3h4.61v1.2h-4.61zM1556.65 489.5h4.61v1.2h-4.61zM1556.65 490.7h4.61v1.2h-4.61zM1556.65 491.9h4.61v1.2h-4.61zM1556.65 493.1h4.61v1.2h-4.61zM1556.65 494.3h4.61v1.2h-4.61zM1556.65 495.5h4.61v1.2h-4.61zM1556.65 496.7h4.61v1h-4.61zM1565.87 471h4.61v1.2h-4.61zM1565.87 473.4h4.61v1.2h-4.61zM1565.87 474.6h4.61v1.2h-4.61zM1565.87 480.6h4.61v1.2h-4.61zM1565.87 485.4h4.61v1.2h-4.61zM1565.87 486.6h4.61v1.2h-4.61zM1565.87 487.8h4.61v1.2h-4.61zM1565.87 489h4.61v1.2h-4.61zM1565.87 490.2h4.61v1.2h-4.61zM1565.87 491.4h4.61v1.2h-4.61zM1565.87 492.6h4.61v1.2h-4.61zM1565.87 495h4.61v1.2h-4.61zM1565.87 496.2h4.61v0.8h-4.61zM1584.31 462.5h4.61v1.2h-4.61zM1584.31 463.7h4.61v1.2h-4.61zM1584.31 464.9h4.61v1.2h-4.61zM1584.31 466.1h4.61v1.2h-4.61zM1584.31 468.5h4.61v1.2h-4.61zM1584.31 469.7h4.61v1.2h-4.61zM1584.31 470.9h4.61v1.2h-4.61zM1584.31 472.1h4.61v1.2h-4.61zM1584.31 473.3h4.61v1.2h-4.61zM1584.31 474.5h4.61v1.2h-4.61zM1584.31 475.7h4.61v1.2h-4.61zM1584.31 476.9h4.61v1.2h-4.61zM1584.31 478.1h4.61v1.2h-4.61zM1584.31 479.3h4.61v1.2h-4.61zM1584.31 480.5h4.61v1.2h-4.61zM1584.31 481.7h4.61v1.2h-4.61zM1584.31 482.9h4.61v1.2h-4.61zM1584.31 484.1h4.61v1.2h-4.61zM1584.31 485.3h4.61v1.2h-4.61zM1584.31 486.5h4.61v1.2h-4.61zM1584.31 487.7h4.61v1.2h-4.61zM1584.31 488.9h4.61v1.2h-4.61zM1584.31 490.1h4.61v1.2h-4.61zM1584.31 491.3h4.61v1.2h-4.61zM1584.31 492.5h4.61v1.2h-4.61zM1584.31 493.7h4.61v1.2h-4.61zM1584.31 494.9h4.61v1.2h-4.61zM1584.31 496.1h4.61v1.2h-4.61zM1588.92 463.7h4.61v1.2h-4.61zM1588.92 464.9h4.61v1.2h-4.61zM1588.92 468.5h4.61v1.2h-4.61zM1588.92 475.7h4.61v1.2h-4.61zM1588.92 476.9h4.61v1.2h-4.61zM1588.92 478.1h4.61v1.2h-4.61zM1588.92 481.7h4.61v1.2h-4.61zM1588.92 485.3h4.61v1.2h-4.61zM1588.92 487.7h4.61v1.2h-4.61zM1588.92 488.9h4.61v1.2h-4.61zM1588.92 490.1h4.61v1.2h-4.61zM1588.92 491.3h4.61v1.2h-4.61zM1588.92 493.7h4.61v1.2h-4.61zM1588.92 494.9h4.61v1.2h-4.61zM1593.53 462.5h4.61v1.2h-4.61zM1593.53 464.9h4.61v1.2h-4.61zM1593.53 466.1h4.61v1.2h-4.61zM1593.53 467.3h4.61v1.2h-4.61zM1593.53 468.5h4.61v1.2h-4.61zM1593.53 469.7h4.61v1.2h-4.61zM1593.53 470.9h4.61v1.2h-4.61zM1593.53 472.1h4.61v1.2h-4.61zM1593.53 473.3h4.61v1.2h-4.61zM1593.53 474.5h4.61v1.2h-4.61zM1593.53 475.7h4.61v1.2h-4.61zM1593.53 476.9h4.61v1.2h-4.61zM1593.53 478.1h4.61v1.2h-4.61zM1593.53 479.3h4.61v1.2h-4.61zM1593.53 480.5h4.61v1.2h-4.61zM1593.53 481.7h4.61v1.2h-4.61zM1593.53 482.9h4.61v1.2h-4.61zM1593.53 484.1h4.61v1.2h-4.61zM1593.53 485.3h4.61v1.2h-4.61zM1593.53 486.5h4.61v1.2h-4.61zM1593.53 487.7h4.61v1.2h-4.61zM1593.53 488.9h4.61v1.2h-4.61zM1593.53 490.1h4.61v1.2h-4.61zM1593.53 491.3h4.61v1.2h-4.61zM1593.53 492.5h4.61v1.2h-4.61zM1593.53 493.7h4.61v1.2h-4.61zM1593.53 494.9h4.61v1.2h-4.61zM1593.53 497.3h4.61v0.4h-4.61zM1598.14 462.5h4.61v1.2h-4.61zM1598.14 463.7h4.61v1.2h-4.61zM1598.14 464.9h4.61v1.2h-4.61zM1598.14 470.9h4.61v1.2h-4.61zM1598.14 474.5h4.61v1.2h-4.61zM1598.14 476.9h4.61v1.2h-4.61zM1598.14 479.3h4.61v1.2h-4.61zM1598.14 480.5h4.61v1.2h-4.61zM1598.14 484.1h4.61v1.2h-4.61zM1598.14 485.3h4.61v1.2h-4.61zM1598.14 487.7h4.61v1.2h-4.61zM1598.14 488.9h4.61v1.2h-4.61zM1598.14 490.1h4.61v1.2h-4.61zM1602.75 463.7h4.61v1.2h-4.61zM1602.75 464.9h4.61v1.2h-4.61zM1602.75 466.1h4.61v1.2h-4.61zM1602.75 467.3h4.61v1.2h-4.61zM1602.75 468.5h4.61v1.2h-4.61zM1602.75 469.7h4.61v1.2h-4.61zM1602.75 470.9h4.61v1.2h-4.61zM1602.75 472.1h4.61v1.2h-4.61zM1602.75 473.3h4.61v1.2h-4.61zM1602.75 474.5h4.61v1.2h-4.61zM1602.75 475.7h4.61v1.2h-4.61zM1602.75 476.9h4.61v1.2h-4.61zM1602.75 478.1h4.61v1.2h-4.61zM1602.75 479.3h4.61v1.2h-4.61zM1602.75 480.5h4.61v1.2h-4.61zM1602.75 481.7h4.61v1.2h-4.61zM1602.75 482.9h4.61v1.2h-4.61zM1602.75 484.1h4.61v1.2h-4.61zM1602.75 485.3h4.61v1.2h-4.61zM1602.75 486.5h4.61v1.2h-4.61zM1602.75 487.7h4.61v1.2h-4.61zM1602.75 488.9h4.61v1.2h-4.61zM1602.75 490.1h4.61v1.2h-4.61zM1602.75 491.3h4.61v1.2h-4.61zM1602.75 492.5h4.61v1.2h-4.61zM1602.75 493.7h4.61v1.2h-4.61zM1602.75 494.9h4.61v1.2h-4.61zM1602.75 496.1h4.61v1.2h-4.61zM1602.75 497.3h4.61v0.4h-4.61zM1607.36 464.9h4.61v1.2h-4.61zM1607.36 466.1h4.61v1.2h-4.61zM1607.36 470.9h4.61v1.2h-4.61zM1607.36 472.1h4.61v1.2h-4.61zM1607.36 473.3h4.61v1.2h-4.61zM1607.36 474.5h4.61v1.2h-4.61zM1607.36 476.9h4.61v1.2h-4.61zM1607.36 478.1h4.61v1.2h-4.61zM1607.36 479.3h4.61v1.2h-4.61zM1607.36 484.1h4.61v1.2h-4.61zM1607.36 485.3h4.61v1.2h-4.61zM1607.36 487.7h4.61v1.2h-4.61zM1607.36 490.1h4.61v1.2h-4.61zM1607.36 491.3h4.61v1.2h-4.61zM1607.36 492.5h4.61v1.2h-4.61zM1607.36 493.7h4.61v1.2h-4.61zM1607.36 496.1h4.61v1.2h-4.61zM1616.58 464h4.61v1.2h-4.61zM1616.58 466.4h4.61v1.2h-4.61zM1616.58 467.6h4.61v1.2h-4.61zM1616.58 468.8h4.61v1.2h-4.61zM1616.58 470h4.61v1.2h-4.61zM1616.58 471.2h4.61v1.2h-4.61zM1616.58 472.4h4.61v1.2h-4.61zM1616.58 473.6h4.61v1.2h-4.61zM1616.58 474.8h4.61v1.2h-4.61zM1616.58 476h4.61v1.2h-4.61zM1616.58 477.2h4.61v1.2h-4.61zM1616.58 478.4h4.61v1.2h-4.61zM1616.58 479.6h4.61v1.2h-4.61zM1616.58 480.8h4.61v1.2h-4.61zM1616.58 482h4.61v1.2h-4.61zM1616.58 483.2h4.61v1.2h-4.61zM1616.58 484.4h4.61v1.2h-4.61zM1616.58 485.6h4.61v1.2h-4.61zM1616.58 486.8h4.61v1.2h-4.61zM1616.58 488h4.61v1.2h-4.61zM1616.58 489.2h4.61v1.2h-4.61zM1616.58 490.4h4.61v1.2h-4.61zM1616.58 491.6h4.61v1.2h-4.61zM1616.58 492.8h4.61v1.2h-4.61zM1616.58 494h4.61v1.2h-4.61zM1616.58 495.2h4.61v1.2h-4.61zM1616.58 497.6h4.61v0.1h-4.61zM1644.24 453h4.61v1.2h-4.61zM1644.24 454.2h4.61v1.2h-4.61zM1644.24 455.4h4.61v1.2h-4.61zM1644.24 457.8h4.61v1.2h-4.61zM1644.24 459h4.61v1.2h-4.61zM1644.24 460.2h4.61v1.2h-4.61zM1644.24 461.4h4.61v1.2h-4.61zM1644.24 462.6h4.61v1.2h-4.61zM1644.24 463.8h4.61v1.2h-4.61zM1644.24 465h4.61v1.2h-4.61zM1644.24 467.4h4.61v1.2h-4.61zM1644.24 469.8h4.61v1.2h-4.61zM1644.24 472.2h4.61v1.2h-4.61zM1644.24 473.4h4.61v1.2h-4.61zM1644.24 474.6h4.61v1.2h-4.61zM1644.24 475.8h4.61v1.2h-4.61zM1644.24 478.2h4.61v1.2h-4.61zM1644.24 479.4h4.61v1.2h-4.61zM1644.24 480.6h4.61v1.2h-4.61zM1644.24 481.8h4.61v1.2h-4.61zM1644.24 483h4.61v1.2h-4.61zM1644.24 484.2h4.61v1.2h-4.61zM1644.24 485.4h4.61v1.2h-4.61zM1644.24 486.6h4.61v1.2h-4.61zM1644.24 487.8h4.61v1.2h-4.61zM1644.24 489h4.61v1.2h-4.61zM1644.24 490.2h4.61v1.2h-4.61zM1644.24 491.4h4.61v1.2h-4.61zM1644.24 492.6h4.61v1.2h-4.61zM1644.24 493.8h4.61v1.2h-4.61zM1644.24 495h4.61v1.2h-4.61zM1644.24 496.2h4.61v1.2h-4.61zM1644.24 497.4h4.61v0.3h-4.61zM1648.85 455.4h4.61v1.2h-4.61zM1648.85 457.8h4.61v1.2h-4.61zM1648.85 463.8h4.61v1.2h-4.61zM1648.85 467.4h4.61v1.2h-4.61zM1648.85 472.2h4.61v1.2h-4.61zM1648.85 474.6h4.61v1.2h-4.61zM1648.85 478.2h4.61v1.2h-4.61zM1648.85 483h4.61v1.2h-4.61zM1648.85 484.2h4.61v1.2h-4.61zM1648.85 485.4h4.61v1.2h-4.61zM1648.85 486.6h4.61v1.2h-4.61zM1648.85 487.8h4.61v1.2h-4.61zM1648.85 489h4.61v1.2h-4.61zM1648.85 490.2h4.61v1.2h-4.61zM1648.85 492.6h4.61v1.2h-4.61zM1648.85 496.2h4.61v1.2h-4.61zM1653.46 453h4.61v1.2h-4.61zM1653.46 454.2h4.61v1.2h-4.61zM1653.46 455.4h4.61v1.2h-4.61zM1653.46 456.6h4.61v1.2h-4.61zM1653.46 457.8h4.61v1.2h-4.61zM1653.46 460.2h4.61v1.2h-4.61zM1653.46 461.4h4.61v1.2h-4.61zM1653.46 462.6h4.61v1.2h-4.61zM1653.46 463.8h4.61v1.2h-4.61zM1653.46 465h4.61v1.2h-4.61zM1653.46 466.2h4.61v1.2h-4.61zM1653.46 468.6h4.61v1.2h-4.61zM1653.46 469.8h4.61v1.2h-4.61zM1653.46 471h4.61v1.2h-4.61zM1653.46 472.2h4.61v1.2h-4.61zM1653.46 473.4h4.61v1.2h-4.61zM1653.46 474.6h4.61v1.2h-4.61zM1653.46 475.8h4.61v1.2h-4.61zM1653.46 477h4.61v1.2h-4.61zM1653.46 478.2h4.61v1.2h-4.61zM1653.46 479.4h4.61v1.2h-4.61zM1653.46 480.6h4.61v1.2h-4.61zM1653.46 481.8h4.61v1.2h-4.61zM1653.46 483h4.61v1.2h-4.61zM1653.46 484.2h4.61v1.2h-4.61zM1653.46 485.4h4.61v1.2h-4.61zM1653.46 486.6h4.61v1.2h-4.61zM1653.46 487.8h4.61v1.2h-4.61zM1653.46 489h4.61v1.2h-4.61zM1653.46 490.2h4.61v1.2h-4.61zM1653.46 491.4h4.61v1.2h-4.61zM1653.46 492.6h4.61v1.2h-4.61zM1653.46 493.8h4.61v1.2h-4.61zM1653.46 495h4.61v1.2h-4.61zM1653.46 496.2h4.61v1.2h-4.61zM1653.46 497.4h4.61v0.3h-4.61zM1662.68 462.5h4.61v1.2h-4.61zM1662.68 463.7h4.61v1.2h-4.61zM1662.68 464.9h4.61v1.2h-4.61zM1662.68 466.1h4.61v1.2h-4.61zM1662.68 467.3h4.61v1.2h-4.61zM1662.68 468.5h4.61v1.2h-4.61zM1662.68 469.7h4.61v1.2h-4.61zM1662.68 470.9h4.61v1.2h-4.61zM1662.68 472.1h4.61v1.2h-4.61zM1662.68 473.3h4.61v1.2h-4.61zM1662.68 474.5h4.61v1.2h-4.61zM1662.68 475.7h4.61v1.2h-4.61zM1662.68 476.9h4.61v1.2h-4.61zM1662.68 478.1h4.61v1.2h-4.61zM1662.68 479.3h4.61v1.2h-4.61zM1662.68 480.5h4.61v1.2h-4.61zM1662.68 481.7h4.61v1.2h-4.61zM1662.68 484.1h4.61v1.2h-4.61zM1662.68 485.3h4.61v1.2h-4.61zM1662.68 486.5h4.61v1.2h-4.61zM1662.68 487.7h4.61v1.2h-4.61zM1662.68 488.9h4.61v1.2h-4.61zM1662.68 490.1h4.61v1.2h-4.61zM1662.68 491.3h4.61v1.2h-4.61zM1662.68 492.5h4.61v1.2h-4.61zM1662.68 493.7h4.61v1.2h-4.61zM1662.68 494.9h4.61v1.2h-4.61zM1662.68 496.1h4.61v1.2h-4.61zM1662.68 497.3h4.61v0.4h-4.61zM1667.29 462.5h4.61v1.2h-4.61zM1667.29 463.7h4.61v1.2h-4.61zM1667.29 464.9h4.61v1.2h-4.61zM1667.29 466.1h4.61v1.2h-4.61zM1667.29 467.3h4.61v1.2h-4.61zM1667.29 468.5h4.61v1.2h-4.61zM1667.29 469.7h4.61v1.2h-4.61zM1667.29 470.9h4.61v1.2h-4.61zM1667.29 472.1h4.61v1.2h-4.61zM1667.29 473.3h4.61v1.2h-4.61zM1667.29 474.5h4.61v1.2h-4.61zM1667.29 475.7h4.61v1.2h-4.61zM1667.29 476.9h4.61v1.2h-4.61zM1667.29 478.1h4.61v1.2h-4.61zM1667.29 479.3h4.61v1.2h-4.61zM1667.29 480.5h4.61v1.2h-4.61zM1667.29 481.7h4.61v1.2h-4.61zM1667.29 482.9h4.61v1.2h-4.61zM1667.29 484.1h4.61v1.2h-4.61zM1667.29 485.3h4.61v1.2h-4.61zM1667.29 486.5h4.61v1.2h-4.61zM1667.29 487.7h4.61v1.2h-4.61zM1667.29 488.9h4.61v1.2h-4.61zM1667.29 490.1h4.61v1.2h-4.61zM1667.29 491.3h4.61v1.2h-4.61zM1667.29 492.5h4.61v1.2h-4.61zM1667.29 493.7h4.61v1.2h-4.61zM1667.29 494.9h4.61v1.2h-4.61zM1667.29 496.1h4.61v1.2h-4.61zM1667.29 497.3h4.61v0.4h-4.61zM1114.1 498.8h9.22v1.2h-9.22zM1127.93 498.8h13.83v1.2h-13.83zM1150.98 498.8h59.93v1.2h-59.93zM1215.52 498.8h18.44v1.2h-18.44zM1243.18 498.8h9.22v1.2h-9.22zM1257.01 498.8h9.22v1.2h-9.22zM1275.45 498.8h23.05v1.2h-23.05zM1303.11 498.8h147.52v1.2h-147.52zM1455.23 498.8h9.22v1.2h-9.22zM1469.06 498.8h4.61v1.2h-4.61zM1478.28 498.8h4.61v1.2h-4.61zM1487.5 498.8h4.61v1.2h-4.61zM1501.33 498.8h9.22v1.2h-9.22zM1519.77 498.8h13.83v1.2h-13.83zM1538.21 498.8h13.83v1.2h-13.83zM1561.26 498.8h23.05v1.2h-23.05zM1598.14 498.8h4.61v1.2h-4.61zM1607.36 498.8h9.22v1.2h-9.22zM1621.19 498.8h23.05v1.2h-23.05zM1648.85 498.8h4.61v1.2h-4.61zM1658.07 498.8h4.61v1.2h-4.61zM1114.1 500h9.22v1.2h-9.22zM1127.93 500h18.44v1.2h-18.44zM1150.98 500h73.76v1.2h-73.76zM1243.18 500h9.22v1.2h-9.22zM1257.01 500h9.22v1.2h-9.22zM1270.84 500h18.44v1.2h-18.44zM1293.89 500h4.61v1.2h-4.61zM1303.11 500h82.98v1.2h-82.98zM1390.7 500h27.66v1.2h-27.66zM1427.57 500h23.05v1.2h-23.05zM1455.23 500h18.44v1.2h-18.44zM1478.28 500h4.61v1.2h-4.61zM1487.5 500h13.83v1.2h-13.83zM1505.94 500h4.61v1.2h-4.61zM1519.77 500h13.83v1.2h-13.83zM1538.21 500h13.83v1.2h-13.83zM1561.26 500h23.05v1.2h-23.05zM1588.92 500h4.61v1.2h-4.61zM1598.14 500h4.61v1.2h-4.61zM1607.36 500h4.61v1.2h-4.61zM1621.19 500h23.05v1.2h-23.05zM1648.85 500h4.61v1.2h-4.61zM1658.07 500h4.61v1.2h-4.61zM1118.71 501.2h4.61v1.2h-4.61zM1127.93 501.2h13.83v1.2h-13.83zM1150.98 501.2h69.15v1.2h-69.15zM1224.74 501.2h9.22v1.2h-9.22zM1243.18 501.2h9.22v1.2h-9.22zM1257.01 501.2h9.22v1.2h-9.22zM1270.84 501.2h27.66v1.2h-27.66zM1303.11 501.2h46.1v1.2h-46.1zM1353.82 501.2h4.61v1.2h-4.61zM1363.04 501.2h87.59v1.2h-87.59zM1455.23 501.2h18.44v1.2h-18.44zM1487.5 501.2h23.05v1.2h-23.05zM1519.77 501.2h13.83v1.2h-13.83zM1538.21 501.2h13.83v1.2h-13.83zM1561.26 501.2h23.05v1.2h-23.05zM1588.92 501.2h4.61v1.2h-4.61zM1607.36 501.2h9.22v1.2h-9.22zM1621.19 501.2h23.05v1.2h-23.05zM1648.85 501.2h4.61v1.2h-4.61zM1658.07 501.2h4.61v1.2h-4.61zM1114.1 502.4h9.22v1.2h-9.22zM1127.93 502.4h18.44v1.2h-18.44zM1150.98 502.4h13.83v1.2h-13.83zM1169.42 502.4h27.66v1.2h-27.66zM1201.69 502.4h32.27v1.2h-32.27zM1243.18 502.4h9.22v1.2h-9.22zM1257.01 502.4h9.22v1.2h-9.22zM1270.84 502.4h27.66v1.2h-27.66zM1303.11 502.4h55.32v1.2h-55.32zM1363.04 502.4h13.83v1.2h-13.83zM1381.48 502.4h69.15v1.2h-69.15zM1455.23 502.4h18.44v1.2h-18.44zM1478.28 502.4h4.61v1.2h-4.61zM1492.11 502.4h18.44v1.2h-18.44zM1519.77 502.4h9.22v1.2h-9.22zM1542.82 502.4h9.22v1.2h-9.22zM1561.26 502.4h23.05v1.2h-23.05zM1588.92 502.4h4.61v1.2h-4.61zM1598.14 502.4h4.61v1.2h-4.61zM1611.97 502.4h4.61v1.2h-4.61zM1621.19 502.4h23.05v1.2h-23.05zM1648.85 502.4h4.61v1.2h-4.61zM1658.07 502.4h4.61v1.2h-4.61zM1114.1 503.6h9.22v0.8h-9.22zM1127.93 503.6h4.61v0.8h-4.61zM1137.15 503.6h9.22v0.8h-9.22zM1155.59 503.6h73.76v0.8h-73.76zM1243.18 503.6h9.22v0.8h-9.22zM1257.01 503.6h9.22v0.8h-9.22zM1270.84 503.6h18.44v0.8h-18.44zM1293.89 503.6h4.61v0.8h-4.61zM1303.11 503.6h110.64v0.8h-110.64zM1418.35 503.6h18.44v0.8h-18.44zM1441.4 503.6h9.22v0.8h-9.22zM1455.23 503.6h4.61v0.8h-4.61zM1464.45 503.6h9.22v0.8h-9.22zM1478.28 503.6h4.61v0.8h-4.61zM1487.5 503.6h23.05v0.8h-23.05zM1519.77 503.6h13.83v0.8h-13.83zM1542.82 503.6h9.22v0.8h-9.22zM1561.26 503.6h9.22v0.8h-9.22zM1575.09 503.6h9.22v0.8h-9.22zM1588.92 503.6h4.61v0.8h-4.61zM1598.14 503.6h4.61v0.8h-4.61zM1607.36 503.6h9.22v0.8h-9.22zM1621.19 503.6h23.05v0.8h-23.05zM1648.85 503.6h4.61v0.8h-4.61zM1658.07 503.6h4.61v0.8h-4.61zM1215.52 520h4.61v1.2h-4.61zM1215.52 521.2h4.61v1.2h-4.61zM1215.52 522.4h4.61v1.2h-4.61zM1215.52 523.6h4.61v1.2h-4.61zM1215.52 524.8h4.61v1.2h-4.61zM1215.52 526h4.61v1.2h-4.61zM1215.52 527.2h4.61v1.2h-4.61zM1215.52 528.4h4.61v1.2h-4.61zM1215.52 529.6h4.61v1.2h-4.61zM1215.52 530.8h4.61v1.2h-4.61zM1215.52 532h4.61v1.2h-4.61zM1215.52 533.2h4.61v1.2h-4.61zM1215.52 534.4h4.61v1.2h-4.61zM1215.52 535.6h4.61v1.2h-4.61zM1215.52 536.8h4.61v1.2h-4.61zM1215.52 539.2h4.61v1.2h-4.61zM1215.52 540.4h4.61v0.4h-4.61zM1247.79 520h4.61v1.2h-4.61zM1247.79 521.2h4.61v1.2h-4.61zM1247.79 523.6h4.61v1.2h-4.61zM1247.79 524.8h4.61v1.2h-4.61zM1247.79 526h4.61v1.2h-4.61zM1247.79 527.2h4.61v1.2h-4.61zM1247.79 528.4h4.61v1.2h-4.61zM1247.79 529.6h4.61v1.2h-4.61zM1247.79 530.8h4.61v1.2h-4.61zM1247.79 532h4.61v1.2h-4.61zM1247.79 534.4h4.61v1.2h-4.61zM1247.79 535.6h4.61v1.2h-4.61zM1247.79 536.8h4.61v1.2h-4.61zM1247.79 539.2h4.61v1.2h-4.61zM1247.79 540.4h4.61v0.4h-4.61zM1312.33 521.2h4.61v1.2h-4.61zM1312.33 522.4h4.61v1.2h-4.61zM1312.33 523.6h4.61v1.2h-4.61zM1312.33 524.8h4.61v1.2h-4.61zM1312.33 528.4h4.61v1.2h-4.61zM1312.33 529.6h4.61v1.2h-4.61zM1312.33 530.8h4.61v1.2h-4.61zM1312.33 533.2h4.61v1.2h-4.61zM1312.33 534.4h4.61v1.2h-4.61zM1312.33 535.6h4.61v1.2h-4.61zM1312.33 536.8h4.61v1.2h-4.61zM1312.33 538h4.61v1.2h-4.61zM1312.33 539.2h4.61v1.2h-4.61zM1312.33 540.4h4.61v0.4h-4.61zM1441.4 520h4.61v1.2h-4.61zM1441.4 521.2h4.61v1.2h-4.61zM1441.4 522.4h4.61v1.2h-4.61zM1441.4 524.8h4.61v1.2h-4.61zM1441.4 526h4.61v1.2h-4.61zM1441.4 527.2h4.61v1.2h-4.61zM1441.4 528.4h4.61v1.2h-4.61zM1441.4 529.6h4.61v1.2h-4.61zM1441.4 532h4.61v1.2h-4.61zM1441.4 533.2h4.61v1.2h-4.61zM1441.4 534.4h4.61v1.2h-4.61zM1441.4 536.8h4.61v1.2h-4.61zM1441.4 538h4.61v1.2h-4.61zM1441.4 539.2h4.61v1.2h-4.61zM1441.4 540.4h4.61v0.4h-4.61zM1607.36 520h4.61v1.2h-4.61zM1607.36 521.2h4.61v1.2h-4.61zM1607.36 522.4h4.61v1.2h-4.61zM1607.36 523.6h4.61v1.2h-4.61zM1607.36 524.8h4.61v1.2h-4.61zM1607.36 526h4.61v1.2h-4.61zM1607.36 527.2h4.61v1.2h-4.61zM1607.36 528.4h4.61v1.2h-4.61zM1607.36 529.6h4.61v1.2h-4.61zM1607.36 532h4.61v1.2h-4.61zM1607.36 533.2h4.61v1.2h-4.61zM1607.36 534.4h4.61v1.2h-4.61zM1607.36 535.6h4.61v1.2h-4.61zM1607.36 536.8h4.61v1.2h-4.61zM1607.36 538h4.61v1.2h-4.61zM1607.36 539.2h4.61v1.2h-4.61zM1644.24 520h4.61v1.2h-4.61zM1644.24 521.2h4.61v1.2h-4.61zM1644.24 522.4h4.61v1.2h-4.61zM1644.24 524.8h4.61v1.2h-4.61zM1644.24 526h4.61v1.2h-4.61zM1644.24 527.2h4.61v1.2h-4.61zM1644.24 528.4h4.61v1.2h-4.61zM1644.24 529.6h4.61v1.2h-4.61zM1644.24 530.8h4.61v1.2h-4.61zM1644.24 532h4.61v1.2h-4.61zM1644.24 533.2h4.61v1.2h-4.61zM1644.24 534.4h4.61v1.2h-4.61zM1644.24 535.6h4.61v1.2h-4.61zM1644.24 536.8h4.61v1.2h-4.61zM1644.24 538h4.61v1.2h-4.61zM1644.24 539.2h4.61v1.2h-4.61zM1644.24 540.4h4.61v0.4h-4.61zM1653.46 520h4.61v1.2h-4.61zM1653.46 521.2h4.61v1.2h-4.61zM1653.46 522.4h4.61v1.2h-4.61zM1653.46 523.6h4.61v1.2h-4.61zM1653.46 526h4.61v1.2h-4.61zM1653.46 527.2h4.61v1.2h-4.61zM1653.46 528.4h4.61v1.2h-4.61zM1653.46 529.6h4.61v1.2h-4.61zM1653.46 530.8h4.61v1.2h-4.61zM1653.46 532h4.61v1.2h-4.61zM1653.46 533.2h4.61v1.2h-4.61zM1653.46 534.4h4.61v1.2h-4.61zM1653.46 535.6h4.61v1.2h-4.61zM1653.46 536.8h4.61v1.2h-4.61zM1653.46 538h4.61v1.2h-4.61zM1653.46 539.2h4.61v1.2h-4.61zM1192.47 521.2h4.61v1.2h-4.61zM1192.47 522.4h4.61v1.2h-4.61zM1192.47 524.8h4.61v1.2h-4.61zM1192.47 527.2h4.61v1.2h-4.61zM1192.47 528.4h4.61v1.2h-4.61zM1192.47 529.6h4.61v1.2h-4.61zM1192.47 530.8h4.61v1.2h-4.61zM1192.47 533.2h4.61v1.2h-4.61zM1556.65 522.4h4.61v1.2h-4.61zM1556.65 529.6h4.61v1.2h-4.61zM1556.65 530.8h4.61v1.2h-4.61zM1556.65 533.2h4.61v1.2h-4.61zM1556.65 536.8h4.61v1.2h-4.61zM1556.65 538h4.61v1.2h-4.61zM1556.65 539.2h4.61v1.2h-4.61zM1556.65 540.4h4.61v0.4h-4.61zM1127.93 520h4.61v1.2h-4.61zM1127.93 528.4h4.61v1.2h-4.61zM1127.93 539.2h4.61v1.2h-4.61zM1127.93 540.4h4.61v0.4h-4.61z" fill="#e6e596" shape-rendering="crispEdges"/>
<rect x="1113.6" y="74.4" width="558.8" height="341.9" fill="none" stroke="#000" stroke-width="1.1"/>
<rect x="1675.5" y="74.4" width="207.9" height="341.9" fill="none" stroke="#000" stroke-width="1.1"/>
<rect x="1113.6" y="420.5" width="558.8" height="120.8" fill="none" stroke="#000" stroke-width="1.1"/>
<rect x="1675.5" y="420.5" width="207.9" height="120.8" fill="none" stroke="#000" stroke-width="1.1"/>
</svg>
</body></html>
